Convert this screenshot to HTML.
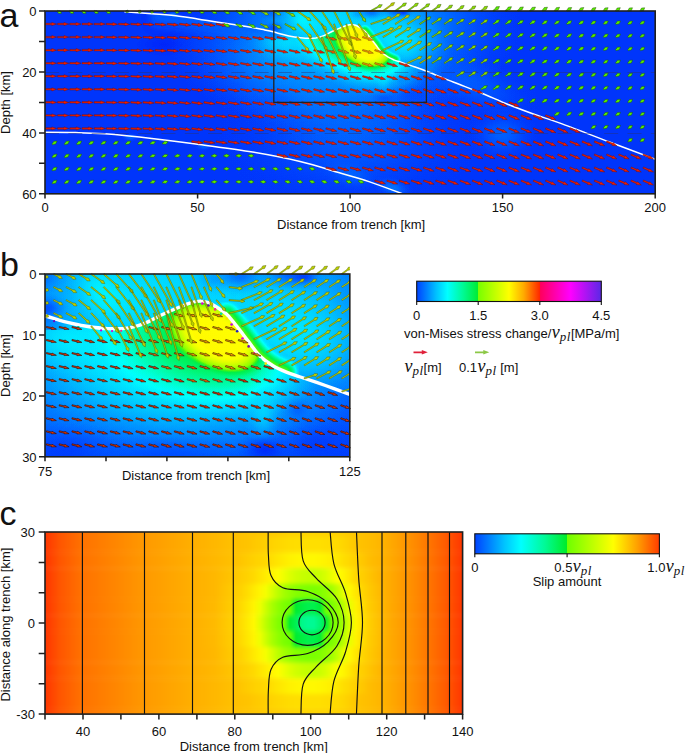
<!DOCTYPE html>
<html><head><meta charset="utf-8"><title>figure</title>
<style>html,body{margin:0;padding:0;background:#fff}svg{display:block}text{font-family:"Liberation Sans",sans-serif;fill:#111}</style>
</head><body>
<svg width="685" height="753" viewBox="0 0 685 753">
<rect width="685" height="753" fill="#fff"/>
<defs><filter id="cmap" x="0" y="0" width="685" height="753" filterUnits="userSpaceOnUse" color-interpolation-filters="sRGB"><feComponentTransfer><feFuncR type="table" tableValues="0.000 0.000 0.000 0.000 0.000 0.000 0.000 0.000 0.000 0.000 0.000 0.000 0.235 0.549 0.647 0.745 0.831 0.922 1.000 1.000 1.000 1.000 1.000 1.000 1.000"/><feFuncG type="table" tableValues="0.149 0.314 0.463 0.608 0.745 0.871 1.000 1.000 0.988 0.973 0.957 0.941 0.961 1.000 1.000 1.000 1.000 1.000 1.000 0.863 0.725 0.588 0.451 0.306 0.157"/><feFuncB type="table" tableValues="0.980 1.000 1.000 1.000 1.000 1.000 1.000 0.831 0.667 0.529 0.392 0.294 0.098 0.000 0.000 0.000 0.000 0.000 0.000 0.000 0.000 0.000 0.000 0.000 0.000"/></feComponentTransfer></filter><filter id="blk" x="-20%" y="-20%" width="140%" height="140%" color-interpolation-filters="sRGB"><feGaussianBlur stdDeviation="0.55"/></filter><filter id="blk2" x="-20%" y="-20%" width="140%" height="140%" color-interpolation-filters="sRGB"><feGaussianBlur stdDeviation="1.6"/></filter><clipPath id="cAbove"><path d="M0.0,-0.6C2.5,-0.5 10.7,-0.4 15.0,-0.3C19.3,-0.2 22.7,0.1 26.0,0.2C29.3,0.4 32.0,0.7 35.0,0.9C38.0,1.1 41.5,1.4 44.0,1.7C46.5,2.0 47.9,2.3 50.0,2.6C52.1,2.9 54.0,3.3 56.7,3.7C59.4,4.1 63.5,4.7 66.0,5.1C68.5,5.5 70.5,5.9 72.0,6.2C73.5,6.5 74.1,6.6 75.1,6.9C76.1,7.2 76.9,7.5 78.0,7.8C79.1,8.0 80.6,8.4 81.8,8.6C83.0,8.8 84.1,8.9 85.3,9.0C86.5,9.0 87.7,9.0 88.8,8.8C89.8,8.7 90.5,8.4 91.4,8.1C92.3,7.7 93.1,7.2 94.1,6.7C95.1,6.3 96.4,5.7 97.2,5.4C98.0,5.0 98.5,4.9 99.0,4.7C99.5,4.5 100.0,4.4 100.5,4.4C101.0,4.4 101.4,4.6 101.8,4.7C102.2,4.8 102.5,5.0 103.0,5.3C103.5,5.6 104.2,6.0 104.8,6.6C105.4,7.2 106.0,8.0 106.6,8.8C107.2,9.5 107.8,10.3 108.4,11.1C109.0,11.9 109.5,12.7 110.2,13.4C110.9,14.1 111.7,14.6 112.4,15.1C113.1,15.5 113.8,15.8 114.6,16.1C115.3,16.4 115.8,16.5 116.9,16.9C118.0,17.3 119.6,17.8 121.0,18.3C122.4,18.8 122.9,19.0 125.1,19.8C127.3,20.6 131.0,22.2 134.0,23.4C137.0,24.6 140.1,25.7 143.0,26.9C145.9,28.1 148.7,29.4 151.6,30.6C154.5,31.8 157.4,32.9 160.3,33.9C163.2,34.9 164.7,35.3 168.8,36.8C172.9,38.3 179.7,41.0 185.0,43.0C190.3,45.0 197.9,47.8 200.5,48.8 L201,-2 L-1,-2 Z"/></clipPath><clipPath id="cBelow"><path d="M0.0,-0.6C2.5,-0.5 10.7,-0.4 15.0,-0.3C19.3,-0.2 22.7,0.1 26.0,0.2C29.3,0.4 32.0,0.7 35.0,0.9C38.0,1.1 41.5,1.4 44.0,1.7C46.5,2.0 47.9,2.3 50.0,2.6C52.1,2.9 54.0,3.3 56.7,3.7C59.4,4.1 63.5,4.7 66.0,5.1C68.5,5.5 70.5,5.9 72.0,6.2C73.5,6.5 74.1,6.6 75.1,6.9C76.1,7.2 76.9,7.5 78.0,7.8C79.1,8.0 80.6,8.4 81.8,8.6C83.0,8.8 84.1,8.9 85.3,9.0C86.5,9.0 87.7,9.0 88.8,8.8C89.8,8.7 90.5,8.4 91.4,8.1C92.3,7.7 93.1,7.2 94.1,6.7C95.1,6.3 96.4,5.7 97.2,5.4C98.0,5.0 98.5,4.9 99.0,4.7C99.5,4.5 100.0,4.4 100.5,4.4C101.0,4.4 101.4,4.6 101.8,4.7C102.2,4.8 102.5,5.0 103.0,5.3C103.5,5.6 104.2,6.0 104.8,6.6C105.4,7.2 106.0,8.0 106.6,8.8C107.2,9.5 107.8,10.3 108.4,11.1C109.0,11.9 109.5,12.7 110.2,13.4C110.9,14.1 111.7,14.6 112.4,15.1C113.1,15.5 113.8,15.8 114.6,16.1C115.3,16.4 115.8,16.5 116.9,16.9C118.0,17.3 119.6,17.8 121.0,18.3C122.4,18.8 122.9,19.0 125.1,19.8C127.3,20.6 131.0,22.2 134.0,23.4C137.0,24.6 140.1,25.7 143.0,26.9C145.9,28.1 148.7,29.4 151.6,30.6C154.5,31.8 157.4,32.9 160.3,33.9C163.2,34.9 164.7,35.3 168.8,36.8C172.9,38.3 179.7,41.0 185.0,43.0C190.3,45.0 197.9,47.8 200.5,48.8 L201,62 L-1,62 Z"/></clipPath><clipPath id="cA"><rect x="0" y="0" width="200" height="60"/></clipPath><clipPath id="cB"><rect x="75" y="0" width="50" height="30"/></clipPath><radialGradient id="g0"><stop offset="0" stop-color="rgb(0,0,0)" stop-opacity="1"/><stop offset="0.125" stop-color="rgb(0,0,0)" stop-opacity="0.948"/><stop offset="0.25" stop-color="rgb(0,0,0)" stop-opacity="0.806"/><stop offset="0.375" stop-color="rgb(0,0,0)" stop-opacity="0.614"/><stop offset="0.5" stop-color="rgb(0,0,0)" stop-opacity="0.416"/><stop offset="0.625" stop-color="rgb(0,0,0)" stop-opacity="0.247"/><stop offset="0.75" stop-color="rgb(0,0,0)" stop-opacity="0.124"/><stop offset="0.875" stop-color="rgb(0,0,0)" stop-opacity="0.045"/><stop offset="1" stop-color="rgb(0,0,0)" stop-opacity="0"/></radialGradient><radialGradient id="g17"><stop offset="0" stop-color="rgb(17,17,17)" stop-opacity="1"/><stop offset="0.125" stop-color="rgb(17,17,17)" stop-opacity="0.948"/><stop offset="0.25" stop-color="rgb(17,17,17)" stop-opacity="0.806"/><stop offset="0.375" stop-color="rgb(17,17,17)" stop-opacity="0.614"/><stop offset="0.5" stop-color="rgb(17,17,17)" stop-opacity="0.416"/><stop offset="0.625" stop-color="rgb(17,17,17)" stop-opacity="0.247"/><stop offset="0.75" stop-color="rgb(17,17,17)" stop-opacity="0.124"/><stop offset="0.875" stop-color="rgb(17,17,17)" stop-opacity="0.045"/><stop offset="1" stop-color="rgb(17,17,17)" stop-opacity="0"/></radialGradient><radialGradient id="g23"><stop offset="0" stop-color="rgb(23,23,23)" stop-opacity="1"/><stop offset="0.125" stop-color="rgb(23,23,23)" stop-opacity="0.948"/><stop offset="0.25" stop-color="rgb(23,23,23)" stop-opacity="0.806"/><stop offset="0.375" stop-color="rgb(23,23,23)" stop-opacity="0.614"/><stop offset="0.5" stop-color="rgb(23,23,23)" stop-opacity="0.416"/><stop offset="0.625" stop-color="rgb(23,23,23)" stop-opacity="0.247"/><stop offset="0.75" stop-color="rgb(23,23,23)" stop-opacity="0.124"/><stop offset="0.875" stop-color="rgb(23,23,23)" stop-opacity="0.045"/><stop offset="1" stop-color="rgb(23,23,23)" stop-opacity="0"/></radialGradient><radialGradient id="g26"><stop offset="0" stop-color="rgb(26,26,26)" stop-opacity="1"/><stop offset="0.125" stop-color="rgb(26,26,26)" stop-opacity="0.948"/><stop offset="0.25" stop-color="rgb(26,26,26)" stop-opacity="0.806"/><stop offset="0.375" stop-color="rgb(26,26,26)" stop-opacity="0.614"/><stop offset="0.5" stop-color="rgb(26,26,26)" stop-opacity="0.416"/><stop offset="0.625" stop-color="rgb(26,26,26)" stop-opacity="0.247"/><stop offset="0.75" stop-color="rgb(26,26,26)" stop-opacity="0.124"/><stop offset="0.875" stop-color="rgb(26,26,26)" stop-opacity="0.045"/><stop offset="1" stop-color="rgb(26,26,26)" stop-opacity="0"/></radialGradient><radialGradient id="g21"><stop offset="0" stop-color="rgb(21,21,21)" stop-opacity="1"/><stop offset="0.125" stop-color="rgb(21,21,21)" stop-opacity="0.948"/><stop offset="0.25" stop-color="rgb(21,21,21)" stop-opacity="0.806"/><stop offset="0.375" stop-color="rgb(21,21,21)" stop-opacity="0.614"/><stop offset="0.5" stop-color="rgb(21,21,21)" stop-opacity="0.416"/><stop offset="0.625" stop-color="rgb(21,21,21)" stop-opacity="0.247"/><stop offset="0.75" stop-color="rgb(21,21,21)" stop-opacity="0.124"/><stop offset="0.875" stop-color="rgb(21,21,21)" stop-opacity="0.045"/><stop offset="1" stop-color="rgb(21,21,21)" stop-opacity="0"/></radialGradient><radialGradient id="g49"><stop offset="0" stop-color="rgb(49,49,49)" stop-opacity="1"/><stop offset="0.125" stop-color="rgb(49,49,49)" stop-opacity="0.948"/><stop offset="0.25" stop-color="rgb(49,49,49)" stop-opacity="0.806"/><stop offset="0.375" stop-color="rgb(49,49,49)" stop-opacity="0.614"/><stop offset="0.5" stop-color="rgb(49,49,49)" stop-opacity="0.416"/><stop offset="0.625" stop-color="rgb(49,49,49)" stop-opacity="0.247"/><stop offset="0.75" stop-color="rgb(49,49,49)" stop-opacity="0.124"/><stop offset="0.875" stop-color="rgb(49,49,49)" stop-opacity="0.045"/><stop offset="1" stop-color="rgb(49,49,49)" stop-opacity="0"/></radialGradient><radialGradient id="g54"><stop offset="0" stop-color="rgb(54,54,54)" stop-opacity="1"/><stop offset="0.125" stop-color="rgb(54,54,54)" stop-opacity="0.948"/><stop offset="0.25" stop-color="rgb(54,54,54)" stop-opacity="0.806"/><stop offset="0.375" stop-color="rgb(54,54,54)" stop-opacity="0.614"/><stop offset="0.5" stop-color="rgb(54,54,54)" stop-opacity="0.416"/><stop offset="0.625" stop-color="rgb(54,54,54)" stop-opacity="0.247"/><stop offset="0.75" stop-color="rgb(54,54,54)" stop-opacity="0.124"/><stop offset="0.875" stop-color="rgb(54,54,54)" stop-opacity="0.045"/><stop offset="1" stop-color="rgb(54,54,54)" stop-opacity="0"/></radialGradient><radialGradient id="g63"><stop offset="0" stop-color="rgb(63,63,63)" stop-opacity="1"/><stop offset="0.125" stop-color="rgb(63,63,63)" stop-opacity="0.948"/><stop offset="0.25" stop-color="rgb(63,63,63)" stop-opacity="0.806"/><stop offset="0.375" stop-color="rgb(63,63,63)" stop-opacity="0.614"/><stop offset="0.5" stop-color="rgb(63,63,63)" stop-opacity="0.416"/><stop offset="0.625" stop-color="rgb(63,63,63)" stop-opacity="0.247"/><stop offset="0.75" stop-color="rgb(63,63,63)" stop-opacity="0.124"/><stop offset="0.875" stop-color="rgb(63,63,63)" stop-opacity="0.045"/><stop offset="1" stop-color="rgb(63,63,63)" stop-opacity="0"/></radialGradient><radialGradient id="g56"><stop offset="0" stop-color="rgb(56,56,56)" stop-opacity="1"/><stop offset="0.125" stop-color="rgb(56,56,56)" stop-opacity="0.948"/><stop offset="0.25" stop-color="rgb(56,56,56)" stop-opacity="0.806"/><stop offset="0.375" stop-color="rgb(56,56,56)" stop-opacity="0.614"/><stop offset="0.5" stop-color="rgb(56,56,56)" stop-opacity="0.416"/><stop offset="0.625" stop-color="rgb(56,56,56)" stop-opacity="0.247"/><stop offset="0.75" stop-color="rgb(56,56,56)" stop-opacity="0.124"/><stop offset="0.875" stop-color="rgb(56,56,56)" stop-opacity="0.045"/><stop offset="1" stop-color="rgb(56,56,56)" stop-opacity="0"/></radialGradient><radialGradient id="g7"><stop offset="0" stop-color="rgb(7,7,7)" stop-opacity="1"/><stop offset="0.125" stop-color="rgb(7,7,7)" stop-opacity="0.948"/><stop offset="0.25" stop-color="rgb(7,7,7)" stop-opacity="0.806"/><stop offset="0.375" stop-color="rgb(7,7,7)" stop-opacity="0.614"/><stop offset="0.5" stop-color="rgb(7,7,7)" stop-opacity="0.416"/><stop offset="0.625" stop-color="rgb(7,7,7)" stop-opacity="0.247"/><stop offset="0.75" stop-color="rgb(7,7,7)" stop-opacity="0.124"/><stop offset="0.875" stop-color="rgb(7,7,7)" stop-opacity="0.045"/><stop offset="1" stop-color="rgb(7,7,7)" stop-opacity="0"/></radialGradient><radialGradient id="g15"><stop offset="0" stop-color="rgb(15,15,15)" stop-opacity="1"/><stop offset="0.125" stop-color="rgb(15,15,15)" stop-opacity="0.948"/><stop offset="0.25" stop-color="rgb(15,15,15)" stop-opacity="0.806"/><stop offset="0.375" stop-color="rgb(15,15,15)" stop-opacity="0.614"/><stop offset="0.5" stop-color="rgb(15,15,15)" stop-opacity="0.416"/><stop offset="0.625" stop-color="rgb(15,15,15)" stop-opacity="0.247"/><stop offset="0.75" stop-color="rgb(15,15,15)" stop-opacity="0.124"/><stop offset="0.875" stop-color="rgb(15,15,15)" stop-opacity="0.045"/><stop offset="1" stop-color="rgb(15,15,15)" stop-opacity="0"/></radialGradient><radialGradient id="g31"><stop offset="0" stop-color="rgb(31,31,31)" stop-opacity="1"/><stop offset="0.125" stop-color="rgb(31,31,31)" stop-opacity="0.948"/><stop offset="0.25" stop-color="rgb(31,31,31)" stop-opacity="0.806"/><stop offset="0.375" stop-color="rgb(31,31,31)" stop-opacity="0.614"/><stop offset="0.5" stop-color="rgb(31,31,31)" stop-opacity="0.416"/><stop offset="0.625" stop-color="rgb(31,31,31)" stop-opacity="0.247"/><stop offset="0.75" stop-color="rgb(31,31,31)" stop-opacity="0.124"/><stop offset="0.875" stop-color="rgb(31,31,31)" stop-opacity="0.045"/><stop offset="1" stop-color="rgb(31,31,31)" stop-opacity="0"/></radialGradient><radialGradient id="g14"><stop offset="0" stop-color="rgb(14,14,14)" stop-opacity="1"/><stop offset="0.125" stop-color="rgb(14,14,14)" stop-opacity="0.948"/><stop offset="0.25" stop-color="rgb(14,14,14)" stop-opacity="0.806"/><stop offset="0.375" stop-color="rgb(14,14,14)" stop-opacity="0.614"/><stop offset="0.5" stop-color="rgb(14,14,14)" stop-opacity="0.416"/><stop offset="0.625" stop-color="rgb(14,14,14)" stop-opacity="0.247"/><stop offset="0.75" stop-color="rgb(14,14,14)" stop-opacity="0.124"/><stop offset="0.875" stop-color="rgb(14,14,14)" stop-opacity="0.045"/><stop offset="1" stop-color="rgb(14,14,14)" stop-opacity="0"/></radialGradient><radialGradient id="g3"><stop offset="0" stop-color="rgb(3,3,3)" stop-opacity="1"/><stop offset="0.125" stop-color="rgb(3,3,3)" stop-opacity="0.948"/><stop offset="0.25" stop-color="rgb(3,3,3)" stop-opacity="0.806"/><stop offset="0.375" stop-color="rgb(3,3,3)" stop-opacity="0.614"/><stop offset="0.5" stop-color="rgb(3,3,3)" stop-opacity="0.416"/><stop offset="0.625" stop-color="rgb(3,3,3)" stop-opacity="0.247"/><stop offset="0.75" stop-color="rgb(3,3,3)" stop-opacity="0.124"/><stop offset="0.875" stop-color="rgb(3,3,3)" stop-opacity="0.045"/><stop offset="1" stop-color="rgb(3,3,3)" stop-opacity="0"/></radialGradient><radialGradient id="g53"><stop offset="0" stop-color="rgb(53,53,53)" stop-opacity="1"/><stop offset="0.125" stop-color="rgb(53,53,53)" stop-opacity="0.948"/><stop offset="0.25" stop-color="rgb(53,53,53)" stop-opacity="0.806"/><stop offset="0.375" stop-color="rgb(53,53,53)" stop-opacity="0.614"/><stop offset="0.5" stop-color="rgb(53,53,53)" stop-opacity="0.416"/><stop offset="0.625" stop-color="rgb(53,53,53)" stop-opacity="0.247"/><stop offset="0.75" stop-color="rgb(53,53,53)" stop-opacity="0.124"/><stop offset="0.875" stop-color="rgb(53,53,53)" stop-opacity="0.045"/><stop offset="1" stop-color="rgb(53,53,53)" stop-opacity="0"/></radialGradient><radialGradient id="g70"><stop offset="0" stop-color="rgb(70,70,70)" stop-opacity="1"/><stop offset="0.125" stop-color="rgb(70,70,70)" stop-opacity="0.948"/><stop offset="0.25" stop-color="rgb(70,70,70)" stop-opacity="0.806"/><stop offset="0.375" stop-color="rgb(70,70,70)" stop-opacity="0.614"/><stop offset="0.5" stop-color="rgb(70,70,70)" stop-opacity="0.416"/><stop offset="0.625" stop-color="rgb(70,70,70)" stop-opacity="0.247"/><stop offset="0.75" stop-color="rgb(70,70,70)" stop-opacity="0.124"/><stop offset="0.875" stop-color="rgb(70,70,70)" stop-opacity="0.045"/><stop offset="1" stop-color="rgb(70,70,70)" stop-opacity="0"/></radialGradient><radialGradient id="g58"><stop offset="0" stop-color="rgb(58,58,58)" stop-opacity="1"/><stop offset="0.125" stop-color="rgb(58,58,58)" stop-opacity="0.948"/><stop offset="0.25" stop-color="rgb(58,58,58)" stop-opacity="0.806"/><stop offset="0.375" stop-color="rgb(58,58,58)" stop-opacity="0.614"/><stop offset="0.5" stop-color="rgb(58,58,58)" stop-opacity="0.416"/><stop offset="0.625" stop-color="rgb(58,58,58)" stop-opacity="0.247"/><stop offset="0.75" stop-color="rgb(58,58,58)" stop-opacity="0.124"/><stop offset="0.875" stop-color="rgb(58,58,58)" stop-opacity="0.045"/><stop offset="1" stop-color="rgb(58,58,58)" stop-opacity="0"/></radialGradient><radialGradient id="g128"><stop offset="0" stop-color="rgb(128,128,128)" stop-opacity="1"/><stop offset="0.125" stop-color="rgb(128,128,128)" stop-opacity="0.948"/><stop offset="0.25" stop-color="rgb(128,128,128)" stop-opacity="0.806"/><stop offset="0.375" stop-color="rgb(128,128,128)" stop-opacity="0.614"/><stop offset="0.5" stop-color="rgb(128,128,128)" stop-opacity="0.416"/><stop offset="0.625" stop-color="rgb(128,128,128)" stop-opacity="0.247"/><stop offset="0.75" stop-color="rgb(128,128,128)" stop-opacity="0.124"/><stop offset="0.875" stop-color="rgb(128,128,128)" stop-opacity="0.045"/><stop offset="1" stop-color="rgb(128,128,128)" stop-opacity="0"/></radialGradient><radialGradient id="p196"><stop offset="0" stop-color="rgb(196,196,196)" stop-opacity="1"/><stop offset="0.45" stop-color="rgb(196,196,196)" stop-opacity="1"/><stop offset="0.55" stop-color="rgb(196,196,196)" stop-opacity="0.93"/><stop offset="0.65" stop-color="rgb(196,196,196)" stop-opacity="0.75"/><stop offset="0.75" stop-color="rgb(196,196,196)" stop-opacity="0.48"/><stop offset="0.85" stop-color="rgb(196,196,196)" stop-opacity="0.22"/><stop offset="0.93" stop-color="rgb(196,196,196)" stop-opacity="0.07"/><stop offset="1" stop-color="rgb(196,196,196)" stop-opacity="0"/></radialGradient><radialGradient id="g5"><stop offset="0" stop-color="rgb(5,5,5)" stop-opacity="1"/><stop offset="0.125" stop-color="rgb(5,5,5)" stop-opacity="0.948"/><stop offset="0.25" stop-color="rgb(5,5,5)" stop-opacity="0.806"/><stop offset="0.375" stop-color="rgb(5,5,5)" stop-opacity="0.614"/><stop offset="0.5" stop-color="rgb(5,5,5)" stop-opacity="0.416"/><stop offset="0.625" stop-color="rgb(5,5,5)" stop-opacity="0.247"/><stop offset="0.75" stop-color="rgb(5,5,5)" stop-opacity="0.124"/><stop offset="0.875" stop-color="rgb(5,5,5)" stop-opacity="0.045"/><stop offset="1" stop-color="rgb(5,5,5)" stop-opacity="0"/></radialGradient><radialGradient id="g8"><stop offset="0" stop-color="rgb(8,8,8)" stop-opacity="1"/><stop offset="0.125" stop-color="rgb(8,8,8)" stop-opacity="0.948"/><stop offset="0.25" stop-color="rgb(8,8,8)" stop-opacity="0.806"/><stop offset="0.375" stop-color="rgb(8,8,8)" stop-opacity="0.614"/><stop offset="0.5" stop-color="rgb(8,8,8)" stop-opacity="0.416"/><stop offset="0.625" stop-color="rgb(8,8,8)" stop-opacity="0.247"/><stop offset="0.75" stop-color="rgb(8,8,8)" stop-opacity="0.124"/><stop offset="0.875" stop-color="rgb(8,8,8)" stop-opacity="0.045"/><stop offset="1" stop-color="rgb(8,8,8)" stop-opacity="0"/></radialGradient><radialGradient id="g119"><stop offset="0" stop-color="rgb(119,119,119)" stop-opacity="1"/><stop offset="0.125" stop-color="rgb(119,119,119)" stop-opacity="0.948"/><stop offset="0.25" stop-color="rgb(119,119,119)" stop-opacity="0.806"/><stop offset="0.375" stop-color="rgb(119,119,119)" stop-opacity="0.614"/><stop offset="0.5" stop-color="rgb(119,119,119)" stop-opacity="0.416"/><stop offset="0.625" stop-color="rgb(119,119,119)" stop-opacity="0.247"/><stop offset="0.75" stop-color="rgb(119,119,119)" stop-opacity="0.124"/><stop offset="0.875" stop-color="rgb(119,119,119)" stop-opacity="0.045"/><stop offset="1" stop-color="rgb(119,119,119)" stop-opacity="0"/></radialGradient>
<g id="fld"><rect x="-2" y="-2" width="204" height="64" fill="rgb(4,4,4)"/><g><ellipse cx="39" cy="11" rx="12" ry="5" fill="url(#g0)" opacity="0.95"/><ellipse cx="150" cy="40.5" rx="12" ry="9" fill="url(#g17)" opacity="0.85"/><ellipse cx="100" cy="53.5" rx="10" ry="5" fill="url(#g17)" transform="rotate(15 100 53.5)" opacity="0.85"/><ellipse cx="114" cy="58" rx="7" ry="3.5" fill="url(#g23)" transform="rotate(15 114 58)" opacity="0.85"/><ellipse cx="42" cy="1.2" rx="2.5" ry="1.2" fill="url(#g26)" opacity="0.8"/><ellipse cx="28" cy="41.5" rx="3" ry="1.5" fill="url(#g21)" opacity="0.7"/><ellipse cx="52" cy="44.5" rx="3" ry="1.5" fill="url(#g21)" opacity="0.7"/></g><g clip-path="url(#cAbove)"><ellipse cx="100" cy="5" rx="56" ry="32" fill="url(#g49)"/><ellipse cx="90" cy="4" rx="20" ry="15" fill="url(#g54)"/><ellipse cx="84.5" cy="3.2" rx="5" ry="8" fill="url(#g63)" transform="rotate(-40 84.5 3.2)" opacity="0.75"/><ellipse cx="116" cy="9.5" rx="19" ry="13" fill="url(#g56)" transform="rotate(25 116 9.5)"/><ellipse cx="75" cy="5.6" rx="4.5" ry="2.6" fill="url(#g7)" opacity="0.85"/><ellipse cx="74" cy="0.5" rx="5" ry="3" fill="url(#g15)" opacity="0.7"/><ellipse cx="102.5" cy="0.8" rx="4" ry="3" fill="url(#g31)" opacity="0.7"/><ellipse cx="107" cy="0.3" rx="6" ry="3.4" fill="url(#g17)" opacity="0.9"/><ellipse cx="115.5" cy="0.2" rx="7" ry="3.2" fill="url(#g14)" opacity="0.9"/><ellipse cx="117.5" cy="0.5" rx="3" ry="1.6" fill="url(#g3)" opacity="0.8"/><ellipse cx="126" cy="19" rx="5" ry="6" fill="url(#g26)" opacity="0.6"/><path d="M104.8,6.6C105.1,7.0 106.0,8.0 106.6,8.8C107.2,9.5 107.8,10.3 108.4,11.1C109.0,11.9 109.5,12.7 110.2,13.4C110.9,14.1 111.7,14.6 112.4,15.1C113.1,15.5 114.2,15.9 114.6,16.1" fill="none" stroke="rgb(132,132,132)" stroke-width="2.7" stroke-linecap="round" filter="url(#blk)"/></g><g clip-path="url(#cBelow)"><ellipse cx="95" cy="12" rx="54" ry="27" fill="url(#g53)"/><ellipse cx="98" cy="13.5" rx="29" ry="17" fill="url(#g70)" transform="rotate(8 98 13.5)"/><ellipse cx="80" cy="11" rx="14" ry="7" fill="url(#g58)" transform="rotate(8 80 11)" opacity="0.9"/><ellipse cx="100.8" cy="11.4" rx="20" ry="11.2" fill="url(#g128)" transform="rotate(18 100.8 11.4)"/><ellipse cx="103.2" cy="10.2" rx="9.6" ry="5.8" fill="url(#p196)" transform="rotate(30 103.2 10.2)" opacity="0.95"/><ellipse cx="110.8" cy="22.5" rx="3.4" ry="6.5" fill="url(#g53)" opacity="0.75"/><ellipse cx="116.5" cy="22.3" rx="3" ry="2.6" fill="url(#g15)" opacity="0.85"/><ellipse cx="111" cy="28.8" rx="5" ry="3" fill="url(#g0)" opacity="0.85"/><ellipse cx="120" cy="28" rx="8" ry="4.5" fill="url(#g5)" opacity="0.8"/><ellipse cx="95" cy="29.8" rx="14" ry="4" fill="url(#g8)" opacity="0.7"/><ellipse cx="78" cy="29" rx="12" ry="5" fill="url(#g5)" opacity="0.8"/><path d="M35.0,0.9C36.5,1.0 41.5,1.4 44.0,1.7C46.5,2.0 47.9,2.3 50.0,2.6C52.1,2.9 54.0,3.3 56.7,3.7C59.4,4.1 63.5,4.7 66.0,5.1C68.5,5.5 70.5,5.9 72.0,6.2C73.5,6.5 74.1,6.6 75.1,6.9C76.1,7.2 77.5,7.6 78.0,7.8" fill="none" stroke="rgb(17,17,17)" stroke-width="7" filter="url(#blk2)" opacity=".8"/></g></g>
<g id="fldA"><g><ellipse cx="100" cy="40" rx="44" ry="26" fill="url(#g17)" opacity="0.85"/><ellipse cx="140" cy="24" rx="24" ry="10" fill="url(#g17)" transform="rotate(22 140 24)" opacity="0.7"/><ellipse cx="90" cy="24" rx="40" ry="20" fill="url(#g26)" transform="rotate(10 90 24)" opacity="0.8"/></g><g clip-path="url(#cBelow)"><ellipse cx="104.5" cy="12" rx="24" ry="15" fill="url(#g119)" transform="rotate(20 104.5 12)" opacity="0.8"/><ellipse cx="104.8" cy="10.8" rx="11.5" ry="8.5" fill="url(#p196)" transform="rotate(30 104.8 10.8)" opacity="0.95"/></g></g>
<clipPath id="clipA"><rect x="45.0" y="11.0" width="610.2" height="182.8"/></clipPath>
<clipPath id="clipB"><rect x="45.0" y="274.0" width="304.8" height="182.8"/></clipPath>
<clipPath id="clipC"><rect x="45.0" y="532.0" width="417.6" height="182.1"/></clipPath>
<linearGradient id="cb1"><stop offset="0" stop-color="rgb(0,66,255)"/><stop offset=".05" stop-color="rgb(0,125,255)"/><stop offset=".105" stop-color="rgb(0,192,255)"/><stop offset=".1667" stop-color="rgb(0,255,255)"/><stop offset=".25" stop-color="rgb(0,250,150)"/><stop offset=".3333" stop-color="rgb(0,235,50)"/><stop offset=".3334" stop-color="rgb(120,255,0)"/><stop offset=".5" stop-color="rgb(255,255,0)"/><stop offset=".58" stop-color="rgb(255,170,0)"/><stop offset=".6666" stop-color="rgb(255,40,0)"/><stop offset=".6667" stop-color="rgb(255,0,90)"/><stop offset=".8333" stop-color="rgb(255,0,255)"/><stop offset="1" stop-color="rgb(90,40,230)"/></linearGradient>
<linearGradient id="cb2"><stop offset="0" stop-color="rgb(0,66,255)"/><stop offset=".08" stop-color="rgb(0,130,255)"/><stop offset=".16" stop-color="rgb(0,195,255)"/><stop offset=".25" stop-color="rgb(0,255,255)"/><stop offset=".38" stop-color="rgb(0,250,150)"/><stop offset=".4999" stop-color="rgb(0,235,40)"/><stop offset=".5" stop-color="rgb(110,255,0)"/><stop offset=".75" stop-color="rgb(255,255,0)"/><stop offset=".88" stop-color="rgb(255,160,0)"/><stop offset="1" stop-color="rgb(255,60,0)"/></linearGradient>
<linearGradient id="cbase" gradientUnits="userSpaceOnUse" x1="45.0" x2="462.6" y1="0" y2="0"><stop offset="0.000" stop-color="rgb(255,52,0)"/><stop offset="0.036" stop-color="rgb(255,85,0)"/><stop offset="0.089" stop-color="rgb(255,112,0)"/><stop offset="0.251" stop-color="rgb(255,150,0)"/><stop offset="0.443" stop-color="rgb(255,186,0)"/><stop offset="0.587" stop-color="rgb(255,206,0)"/><stop offset="0.706" stop-color="rgb(255,206,0)"/><stop offset="0.802" stop-color="rgb(255,178,0)"/><stop offset="0.898" stop-color="rgb(255,128,0)"/><stop offset="0.958" stop-color="rgb(255,92,0)"/><stop offset="0.999" stop-color="rgb(255,55,0)"/></linearGradient>
<radialGradient id="cy"><stop offset="0" stop-color="rgb(255,255,0)" stop-opacity="1"/><stop offset="0.125" stop-color="rgb(255,255,0)" stop-opacity="0.948"/><stop offset="0.25" stop-color="rgb(255,255,0)" stop-opacity="0.806"/><stop offset="0.375" stop-color="rgb(255,255,0)" stop-opacity="0.614"/><stop offset="0.5" stop-color="rgb(255,255,0)" stop-opacity="0.416"/><stop offset="0.625" stop-color="rgb(255,255,0)" stop-opacity="0.247"/><stop offset="0.75" stop-color="rgb(255,255,0)" stop-opacity="0.124"/><stop offset="0.875" stop-color="rgb(255,255,0)" stop-opacity="0.045"/><stop offset="1" stop-color="rgb(255,255,0)" stop-opacity="0"/></radialGradient><radialGradient id="cyg"><stop offset="0" stop-color="rgb(150,255,0)" stop-opacity="1"/><stop offset="0.125" stop-color="rgb(150,255,0)" stop-opacity="0.948"/><stop offset="0.25" stop-color="rgb(150,255,0)" stop-opacity="0.806"/><stop offset="0.375" stop-color="rgb(150,255,0)" stop-opacity="0.614"/><stop offset="0.5" stop-color="rgb(150,255,0)" stop-opacity="0.416"/><stop offset="0.625" stop-color="rgb(150,255,0)" stop-opacity="0.247"/><stop offset="0.75" stop-color="rgb(150,255,0)" stop-opacity="0.124"/><stop offset="0.875" stop-color="rgb(150,255,0)" stop-opacity="0.045"/><stop offset="1" stop-color="rgb(150,255,0)" stop-opacity="0"/></radialGradient><radialGradient id="cg"><stop offset="0" stop-color="rgb(0,248,40)" stop-opacity="1"/><stop offset="0.125" stop-color="rgb(0,248,40)" stop-opacity="0.948"/><stop offset="0.25" stop-color="rgb(0,248,40)" stop-opacity="0.806"/><stop offset="0.375" stop-color="rgb(0,248,40)" stop-opacity="0.614"/><stop offset="0.5" stop-color="rgb(0,248,40)" stop-opacity="0.416"/><stop offset="0.625" stop-color="rgb(0,248,40)" stop-opacity="0.247"/><stop offset="0.75" stop-color="rgb(0,248,40)" stop-opacity="0.124"/><stop offset="0.875" stop-color="rgb(0,248,40)" stop-opacity="0.045"/><stop offset="1" stop-color="rgb(0,248,40)" stop-opacity="0"/></radialGradient><radialGradient id="ccg"><stop offset="0" stop-color="rgb(0,255,150)" stop-opacity="1"/><stop offset="0.125" stop-color="rgb(0,255,150)" stop-opacity="0.948"/><stop offset="0.25" stop-color="rgb(0,255,150)" stop-opacity="0.806"/><stop offset="0.375" stop-color="rgb(0,255,150)" stop-opacity="0.614"/><stop offset="0.5" stop-color="rgb(0,255,150)" stop-opacity="0.416"/><stop offset="0.625" stop-color="rgb(0,255,150)" stop-opacity="0.247"/><stop offset="0.75" stop-color="rgb(0,255,150)" stop-opacity="0.124"/><stop offset="0.875" stop-color="rgb(0,255,150)" stop-opacity="0.045"/><stop offset="1" stop-color="rgb(0,255,150)" stop-opacity="0"/></radialGradient>
</defs>
<g filter="url(#cmap)"><g clip-path="url(#clipA)"><g transform="translate(45.00,11.00) scale(3.0510,3.0467)"><use href="#fld"/><use href="#fldA"/></g></g></g>
<g clip-path="url(#clipA)" fill="none" stroke="#fff" stroke-width="1.5"><path d="M124.3,11.8C128.9,12.1 142.6,13.0 151.8,13.7C160.9,14.5 171.6,15.3 179.2,16.2C186.9,17.0 191.1,17.9 197.6,18.9C204.0,19.9 209.9,21.0 218.0,22.3C226.1,23.5 238.6,25.3 246.4,26.5C254.1,27.8 260.0,29.0 264.7,29.9C269.3,30.8 271.1,31.2 274.1,32.0C277.2,32.8 279.6,33.8 283.0,34.6C286.4,35.5 290.9,36.5 294.6,37.1C298.3,37.7 301.7,38.2 305.3,38.3C308.8,38.4 312.7,38.4 315.8,38.0C318.9,37.5 321.1,36.7 323.9,35.6C326.6,34.5 329.1,32.9 332.1,31.5C335.0,30.1 339.1,28.4 341.6,27.4C344.0,26.4 345.4,25.8 347.0,25.3C348.7,24.8 350.2,24.5 351.6,24.5C353.0,24.5 354.3,24.9 355.6,25.3C356.9,25.8 357.7,26.3 359.3,27.2C360.8,28.2 362.9,29.4 364.7,31.1C366.6,32.8 368.4,35.4 370.2,37.7C372.1,39.9 373.9,42.5 375.7,44.8C377.6,47.2 379.2,49.8 381.2,51.8C383.3,53.8 385.7,55.5 387.9,56.9C390.2,58.2 392.4,59.1 394.6,60.1C396.9,61.0 398.4,61.4 401.7,62.5C404.9,63.6 410.0,65.3 414.2,66.8C418.3,68.2 420.1,68.7 426.7,71.3C433.3,73.9 444.7,78.7 453.8,82.3C462.9,85.9 472.3,89.3 481.3,93.0C490.2,96.6 498.7,100.7 507.5,104.2C516.3,107.8 525.3,111.1 534.1,114.3C542.8,117.4 547.4,118.5 560.0,123.1C572.6,127.7 593.3,135.9 609.4,142.0C625.6,148.1 648.8,156.7 656.7,159.7"/><path d="M41.9,132.3C47.5,132.3 65.1,132.3 75.5,132.6C85.9,132.8 91.4,132.8 104.5,133.8C117.6,134.8 138.1,136.9 153.9,138.7C169.7,140.4 183.0,142.2 199.4,144.4C215.8,146.7 235.7,149.2 252.5,152.1C269.2,154.9 285.7,158.1 300.1,161.5C314.4,164.9 327.0,169.1 338.5,172.5C350.0,175.8 358.1,178.0 369.0,181.6C379.9,185.3 396.6,191.6 404.1,194.4C411.6,197.2 412.5,197.7 414.2,198.4"/></g>
<line x1="45.0" x2="655.2" y1="72.5" y2="72.5" stroke="#283070" stroke-width=".6" stroke-dasharray="14 9.3" opacity=".75"/>
<line x1="45.0" x2="655.2" y1="133.5" y2="133.5" stroke="#283070" stroke-width=".6" stroke-dasharray="14 9.3" opacity=".75"/>
<path d="M45.4,23.3L51.8,23.3L51.8,22.5L56.6,24.1L51.8,25.6L51.8,24.8L45.4,24.8ZM57.6,23.3L64.0,23.3L64.0,22.5L68.8,24.1L64.0,25.6L64.0,24.8L57.6,24.8ZM69.8,23.3L76.2,23.3L76.2,22.5L81.0,24.1L76.2,25.6L76.2,24.8L69.8,24.8ZM82.0,23.3L88.4,23.3L88.4,22.5L93.2,24.1L88.4,25.6L88.4,24.8L82.0,24.8ZM94.2,23.3L100.6,23.4L100.6,22.5L105.4,24.1L100.6,25.6L100.6,24.8L94.2,24.8ZM106.4,23.3L112.8,23.5L112.8,22.6L117.6,24.3L112.8,25.7L112.8,24.9L106.4,24.8ZM118.6,23.3L125.0,23.6L125.1,22.7L129.8,24.4L124.9,25.8L125.0,25.0L118.6,24.8ZM130.8,23.3L137.2,23.7L137.3,22.8L142.0,24.6L137.1,25.9L137.2,25.1L130.8,24.8ZM143.0,23.3L149.4,23.8L149.5,22.9L154.2,24.8L149.3,26.0L149.3,25.2L143.0,24.8ZM155.3,23.3L161.6,23.9L161.7,23.0L166.4,25.0L161.5,26.1L161.5,25.3L155.1,24.8ZM167.5,23.3L173.8,23.9L173.9,23.1L178.5,25.1L173.6,26.2L173.7,25.4L167.3,24.8ZM179.7,23.3L186.0,24.1L186.1,23.2L190.7,25.3L185.8,26.3L185.9,25.5L179.5,24.8ZM191.9,23.3L198.2,24.2L198.3,23.3L202.9,25.5L198.0,26.4L198.1,25.6L191.7,24.8ZM204.1,23.3L210.4,24.3L210.6,23.4L215.1,25.7L210.1,26.5L210.2,25.7L203.9,24.8ZM216.3,23.3L222.6,24.4L222.8,23.5L227.3,25.8L222.3,26.6L222.4,25.8L216.1,24.8ZM45.4,36.4L51.8,36.4L51.8,35.6L56.6,37.1L51.8,38.6L51.8,37.8L45.4,37.8ZM57.6,36.4L64.0,36.4L64.0,35.6L68.8,37.1L64.0,38.6L64.0,37.8L57.6,37.8ZM69.8,36.4L76.2,36.4L76.2,35.6L81.0,37.1L76.2,38.6L76.2,37.8L69.8,37.8ZM82.0,36.4L88.4,36.4L88.4,35.6L93.2,37.1L88.4,38.6L88.4,37.8L82.0,37.8ZM94.2,36.4L100.6,36.4L100.6,35.6L105.4,37.1L100.6,38.7L100.6,37.8L94.2,37.8ZM106.4,36.4L112.8,36.5L112.8,35.7L117.6,37.3L112.8,38.8L112.8,37.9L106.4,37.8ZM118.6,36.4L125.0,36.6L125.1,35.8L129.8,37.5L124.9,38.9L125.0,38.0L118.6,37.8ZM130.8,36.4L137.2,36.7L137.3,35.9L142.0,37.7L137.1,39.0L137.2,38.1L130.8,37.8ZM143.0,36.4L149.4,36.8L149.5,36.0L154.2,37.8L149.3,39.1L149.3,38.2L143.0,37.8ZM155.3,36.4L161.6,36.9L161.7,36.1L166.4,38.0L161.5,39.2L161.5,38.3L155.1,37.8ZM167.5,36.4L173.8,37.0L173.9,36.2L178.5,38.2L173.6,39.3L173.7,38.4L167.3,37.8ZM179.7,36.4L186.0,37.1L186.1,36.3L190.7,38.4L185.8,39.4L185.9,38.5L179.5,37.8ZM191.9,36.4L198.2,37.2L198.3,36.4L202.9,38.5L198.0,39.5L198.1,38.6L191.7,37.8ZM204.1,36.4L210.4,37.3L210.6,36.5L215.1,38.7L210.1,39.5L210.2,38.7L203.9,37.8ZM216.3,36.4L222.6,37.4L222.8,36.6L227.3,38.9L222.3,39.6L222.4,38.8L216.1,37.8ZM228.5,36.4L234.8,37.5L235.0,36.7L239.4,39.0L234.4,39.7L234.6,38.9L228.3,37.8ZM240.7,36.4L247.0,37.6L247.2,36.8L251.6,39.2L246.6,39.8L246.8,39.0L240.5,37.8ZM252.9,36.4L259.2,37.7L259.4,36.8L263.8,39.3L258.8,39.9L258.9,39.1L252.7,37.8ZM265.2,36.4L271.4,37.7L271.6,36.9L276.0,39.5L270.9,40.0L271.1,39.1L264.8,37.8ZM277.4,36.4L283.6,37.8L283.8,37.0L288.1,39.6L283.1,40.0L283.3,39.2L277.0,37.8ZM45.4,49.4L51.8,49.4L51.8,48.6L56.6,50.2L51.8,51.7L51.8,50.9L45.4,50.9ZM57.6,49.4L64.0,49.4L64.0,48.6L68.8,50.2L64.0,51.7L64.0,50.9L57.6,50.9ZM69.8,49.4L76.2,49.4L76.2,48.6L81.0,50.2L76.2,51.7L76.2,50.9L69.8,50.9ZM82.0,49.4L88.4,49.4L88.4,48.6L93.2,50.2L88.4,51.7L88.4,50.9L82.0,50.9ZM94.2,49.4L100.6,49.5L100.6,48.6L105.4,50.2L100.6,51.7L100.6,50.9L94.2,50.9ZM106.4,49.4L112.8,49.6L112.8,48.7L117.6,50.4L112.8,51.8L112.8,51.0L106.4,50.9ZM118.6,49.4L125.0,49.7L125.1,48.8L129.8,50.5L124.9,51.9L125.0,51.1L118.6,50.9ZM130.8,49.4L137.2,49.8L137.3,48.9L142.0,50.7L137.1,52.0L137.2,51.2L130.8,50.9ZM143.0,49.4L149.4,49.9L149.5,49.0L154.2,50.9L149.3,52.1L149.3,51.3L143.0,50.9ZM155.3,49.4L161.6,50.0L161.7,49.1L166.4,51.1L161.5,52.2L161.5,51.4L155.1,50.9ZM167.5,49.4L173.8,50.0L173.9,49.2L178.5,51.2L173.6,52.3L173.7,51.5L167.3,50.9ZM179.7,49.4L186.0,50.2L186.1,49.3L190.7,51.4L185.8,52.4L185.9,51.6L179.5,50.9ZM191.9,49.4L198.2,50.3L198.3,49.4L202.9,51.6L198.0,52.5L198.1,51.7L191.7,50.9ZM204.1,49.4L210.4,50.4L210.6,49.5L215.1,51.8L210.1,52.6L210.2,51.8L203.9,50.9ZM216.3,49.4L222.6,50.5L222.8,49.6L227.3,51.9L222.3,52.7L222.4,51.9L216.1,50.9ZM228.5,49.4L234.8,50.6L235.0,49.7L239.4,52.1L234.4,52.8L234.6,52.0L228.3,50.9ZM240.7,49.4L247.0,50.6L247.2,49.8L251.6,52.2L246.6,52.9L246.8,52.0L240.5,50.9ZM252.9,49.4L259.2,50.7L259.4,49.9L263.8,52.4L258.8,52.9L258.9,52.1L252.7,50.9ZM265.2,49.4L271.4,50.8L271.6,50.0L276.0,52.5L270.9,53.0L271.1,52.2L264.8,50.9ZM277.4,49.4L283.6,50.9L283.8,50.1L288.1,52.6L283.1,53.1L283.3,52.3L277.0,50.9ZM289.6,49.4L295.8,50.9L296.0,50.1L300.3,52.8L295.3,53.2L295.5,52.3L289.2,50.9ZM301.8,49.5L308.0,51.0L308.2,50.2L312.5,52.8L307.4,53.2L307.6,52.4L301.4,50.8ZM314.0,49.5L320.2,51.0L320.4,50.2L324.7,52.9L319.6,53.2L319.8,52.4L313.6,50.8ZM45.4,62.5L51.8,62.5L51.8,61.7L56.6,63.2L51.8,64.8L51.8,63.9L45.4,63.9ZM57.6,62.5L64.0,62.5L64.0,61.7L68.8,63.2L64.0,64.8L64.0,63.9L57.6,63.9ZM69.8,62.5L76.2,62.5L76.2,61.7L81.0,63.2L76.2,64.8L76.2,63.9L69.8,63.9ZM82.0,62.5L88.4,62.5L88.4,61.7L93.2,63.2L88.4,64.8L88.4,63.9L82.0,63.9ZM94.2,62.5L100.6,62.5L100.6,61.7L105.4,63.2L100.6,64.8L100.6,63.9L94.2,63.9ZM106.4,62.5L112.8,62.6L112.8,61.8L117.6,63.4L112.8,64.9L112.8,64.0L106.4,63.9ZM118.6,62.5L125.0,62.7L125.1,61.9L129.8,63.6L124.9,65.0L125.0,64.1L118.6,63.9ZM130.8,62.5L137.2,62.8L137.3,62.0L142.0,63.8L137.1,65.1L137.2,64.2L130.8,63.9ZM143.0,62.5L149.4,62.9L149.5,62.1L154.2,63.9L149.3,65.2L149.3,64.3L143.0,63.9ZM155.3,62.5L161.6,63.0L161.7,62.2L166.4,64.1L161.5,65.3L161.5,64.4L155.1,63.9ZM167.5,62.5L173.8,63.1L173.9,62.3L178.5,64.3L173.6,65.4L173.7,64.5L167.3,63.9ZM179.7,62.5L186.0,63.2L186.1,62.4L190.7,64.5L185.8,65.5L185.9,64.6L179.5,63.9ZM191.9,62.5L198.2,63.3L198.3,62.5L202.9,64.6L198.0,65.6L198.1,64.7L191.7,63.9ZM204.1,62.5L210.4,63.4L210.6,62.6L215.1,64.8L210.1,65.6L210.2,64.8L203.9,63.9ZM216.3,62.5L222.6,63.5L222.8,62.7L227.3,65.0L222.3,65.7L222.4,64.9L216.1,63.9ZM228.5,62.5L234.8,63.6L235.0,62.8L239.4,65.1L234.4,65.8L234.6,65.0L228.3,63.9ZM240.7,62.5L247.0,63.7L247.2,62.9L251.6,65.3L246.6,65.9L246.8,65.1L240.5,63.9ZM252.9,62.5L259.2,63.8L259.4,62.9L263.8,65.4L258.8,66.0L258.9,65.2L252.7,63.9ZM265.2,62.5L271.4,63.8L271.6,63.0L276.0,65.6L270.9,66.1L271.1,65.2L264.8,63.9ZM277.4,62.5L283.6,63.9L283.8,63.1L288.1,65.7L283.1,66.1L283.3,65.3L277.0,63.9ZM289.6,62.5L295.8,64.0L296.0,63.2L300.3,65.8L295.3,66.2L295.5,65.4L289.2,63.9ZM301.8,62.5L308.0,64.0L308.2,63.2L312.5,65.9L307.4,66.2L307.6,65.4L301.4,63.9ZM314.0,62.5L320.2,64.1L320.4,63.3L324.7,66.0L319.6,66.3L319.8,65.5L313.6,63.9ZM326.2,62.5L332.4,64.1L332.6,63.3L336.8,66.0L331.8,66.3L332.0,65.5L325.8,63.9ZM338.4,62.5L344.6,64.2L344.8,63.4L349.0,66.1L344.0,66.4L344.2,65.6L338.0,63.9ZM387.2,62.5L393.3,64.4L393.6,63.6L397.7,66.5L392.7,66.6L392.9,65.8L386.8,63.9ZM399.4,62.5L405.5,64.4L405.8,63.6L409.9,66.6L404.8,66.6L405.1,65.8L399.0,63.9ZM45.4,75.5L51.8,75.5L51.8,74.7L56.6,76.2L51.8,77.8L51.8,77.0L45.4,77.0ZM57.6,75.5L64.0,75.5L64.0,74.7L68.8,76.2L64.0,77.8L64.0,77.0L57.6,77.0ZM69.8,75.5L76.2,75.5L76.2,74.7L81.0,76.2L76.2,77.8L76.2,77.0L69.8,77.0ZM82.0,75.5L88.4,75.5L88.4,74.7L93.2,76.2L88.4,77.8L88.4,77.0L82.0,77.0ZM94.2,75.5L100.6,75.6L100.6,74.7L105.4,76.3L100.6,77.8L100.6,77.0L94.2,77.0ZM106.4,75.5L112.8,75.7L112.8,74.8L117.6,76.5L112.8,77.9L112.8,77.1L106.4,77.0ZM118.6,75.5L125.0,75.8L125.1,74.9L129.8,76.6L124.9,78.0L125.0,77.2L118.6,77.0ZM130.8,75.5L137.2,75.9L137.3,75.0L142.0,76.8L137.1,78.1L137.2,77.3L130.8,77.0ZM143.0,75.5L149.4,76.0L149.5,75.1L154.2,77.0L149.3,78.2L149.3,77.4L143.0,77.0ZM155.3,75.5L161.6,76.1L161.7,75.2L166.4,77.2L161.5,78.3L161.5,77.5L155.1,77.0ZM167.5,75.5L173.8,76.1L173.9,75.3L178.5,77.3L173.6,78.4L173.7,77.6L167.3,77.0ZM179.7,75.5L186.0,76.3L186.1,75.4L190.7,77.5L185.8,78.5L185.9,77.7L179.5,77.0ZM191.9,75.5L198.2,76.4L198.3,75.5L202.9,77.7L198.0,78.6L198.1,77.8L191.7,77.0ZM204.1,75.5L210.4,76.5L210.6,75.6L215.1,77.9L210.1,78.7L210.2,77.9L203.9,77.0ZM216.3,75.5L222.6,76.6L222.8,75.7L227.3,78.0L222.3,78.8L222.4,78.0L216.1,77.0ZM228.5,75.5L234.8,76.7L235.0,75.8L239.4,78.2L234.4,78.9L234.6,78.1L228.3,77.0ZM240.7,75.5L247.0,76.7L247.2,75.9L251.6,78.3L246.6,79.0L246.8,78.1L240.5,77.0ZM252.9,75.5L259.2,76.8L259.4,76.0L263.8,78.5L258.8,79.0L258.9,78.2L252.7,77.0ZM265.2,75.5L271.4,76.9L271.6,76.1L276.0,78.6L270.9,79.1L271.1,78.3L264.8,77.0ZM277.4,75.5L283.6,77.0L283.8,76.2L288.1,78.7L283.1,79.2L283.3,78.4L277.0,77.0ZM289.6,75.5L295.8,77.0L296.0,76.2L300.3,78.9L295.3,79.3L295.5,78.4L289.2,77.0ZM301.8,75.6L308.0,77.1L308.2,76.3L312.5,78.9L307.4,79.3L307.6,78.5L301.4,76.9ZM314.0,75.6L320.2,77.1L320.4,76.3L324.7,79.0L319.6,79.3L319.8,78.5L313.6,76.9ZM326.2,75.6L332.4,77.2L332.6,76.4L336.8,79.1L331.8,79.4L332.0,78.6L325.8,76.9ZM338.4,75.6L344.6,77.2L344.8,76.4L349.0,79.2L344.0,79.4L344.2,78.6L338.0,76.9ZM350.6,75.6L356.8,77.3L357.0,76.5L361.2,79.2L356.2,79.5L356.4,78.7L350.2,76.9ZM362.8,75.6L369.0,77.3L369.2,76.5L373.4,79.3L368.3,79.5L368.6,78.7L362.4,76.9ZM375.0,75.6L381.1,77.4L381.4,76.6L385.5,79.4L380.5,79.6L380.7,78.8L374.6,76.9ZM387.2,75.6L393.3,77.4L393.6,76.6L397.7,79.5L392.7,79.6L392.9,78.8L386.8,76.9ZM399.4,75.6L405.5,77.5L405.8,76.7L409.9,79.6L404.8,79.7L405.1,78.9L399.0,76.9ZM411.6,75.6L417.7,77.5L418.0,76.8L422.1,79.7L417.0,79.7L417.3,78.9L411.2,76.9ZM423.8,75.6L429.9,77.6L430.2,76.8L434.2,79.8L429.2,79.8L429.4,79.0L423.4,76.9ZM436.0,75.6L442.1,77.7L442.4,76.9L446.4,79.9L441.3,79.8L441.6,79.0L435.6,76.9ZM45.4,88.6L51.8,88.6L51.8,87.8L56.6,89.3L51.8,90.9L51.8,90.0L45.4,90.0ZM57.6,88.6L64.0,88.6L64.0,87.8L68.8,89.3L64.0,90.9L64.0,90.0L57.6,90.0ZM69.8,88.6L76.2,88.6L76.2,87.8L81.0,89.3L76.2,90.9L76.2,90.0L69.8,90.0ZM82.0,88.6L88.4,88.6L88.4,87.8L93.2,89.3L88.4,90.9L88.4,90.0L82.0,90.0ZM94.2,88.6L100.6,88.6L100.6,87.8L105.4,89.3L100.6,90.9L100.6,90.0L94.2,90.0ZM106.4,88.6L112.8,88.7L112.8,87.9L117.6,89.5L112.8,91.0L112.8,90.1L106.4,90.0ZM118.6,88.6L125.0,88.8L125.1,88.0L129.8,89.7L124.9,91.1L125.0,90.2L118.6,90.0ZM130.8,88.6L137.2,88.9L137.3,88.1L142.0,89.9L137.1,91.2L137.2,90.3L130.8,90.0ZM143.0,88.6L149.4,89.0L149.5,88.2L154.2,90.0L149.3,91.3L149.3,90.4L143.0,90.0ZM155.3,88.6L161.6,89.1L161.7,88.3L166.4,90.2L161.5,91.4L161.5,90.5L155.1,90.0ZM167.5,88.6L173.8,89.2L173.9,88.4L178.5,90.4L173.6,91.5L173.7,90.6L167.3,90.0ZM179.7,88.6L186.0,89.3L186.1,88.5L190.7,90.6L185.8,91.6L185.9,90.7L179.5,90.0ZM191.9,88.6L198.2,89.4L198.3,88.6L202.9,90.7L198.0,91.7L198.1,90.8L191.7,90.0ZM204.1,88.6L210.4,89.5L210.6,88.7L215.1,90.9L210.1,91.7L210.2,90.9L203.9,90.0ZM216.3,88.6L222.6,89.6L222.8,88.8L227.3,91.1L222.3,91.8L222.4,91.0L216.1,90.0ZM228.5,88.6L234.8,89.7L235.0,88.9L239.4,91.2L234.4,91.9L234.6,91.1L228.3,90.0ZM240.7,88.6L247.0,89.8L247.2,89.0L251.6,91.4L246.6,92.0L246.8,91.2L240.5,90.0ZM252.9,88.6L259.2,89.9L259.4,89.0L263.8,91.5L258.8,92.1L258.9,91.3L252.7,90.0ZM265.2,88.6L271.4,89.9L271.6,89.1L276.0,91.7L270.9,92.2L271.1,91.3L264.8,90.0ZM277.4,88.6L283.6,90.0L283.8,89.2L288.1,91.8L283.1,92.2L283.3,91.4L277.0,90.0ZM289.6,88.6L295.8,90.1L296.0,89.3L300.3,91.9L295.3,92.3L295.5,91.5L289.2,90.0ZM301.8,88.6L308.0,90.1L308.2,89.3L312.5,92.0L307.4,92.3L307.6,91.5L301.4,90.0ZM314.0,88.6L320.2,90.2L320.4,89.4L324.7,92.1L319.6,92.4L319.8,91.6L313.6,90.0ZM326.2,88.6L332.4,90.2L332.6,89.4L336.8,92.1L331.8,92.4L332.0,91.6L325.8,90.0ZM338.4,88.6L344.6,90.3L344.8,89.5L349.0,92.2L344.0,92.5L344.2,91.7L338.0,90.0ZM350.6,88.6L356.8,90.3L357.0,89.5L361.2,92.3L356.2,92.5L356.4,91.7L350.2,90.0ZM362.8,88.6L369.0,90.4L369.2,89.6L373.4,92.4L368.3,92.6L368.6,91.8L362.4,90.0ZM375.0,88.6L381.1,90.4L381.4,89.6L385.5,92.5L380.5,92.6L380.7,91.8L374.6,90.0ZM387.2,88.6L393.3,90.5L393.6,89.7L397.7,92.6L392.7,92.7L392.9,91.9L386.8,90.0ZM399.4,88.6L405.5,90.5L405.8,89.7L409.9,92.7L404.8,92.7L405.1,91.9L399.0,90.0ZM411.6,88.6L417.7,90.6L418.0,89.8L422.1,92.8L417.0,92.8L417.3,92.0L411.2,90.0ZM423.8,88.6L429.9,90.7L430.2,89.9L434.2,92.9L429.2,92.8L429.4,92.0L423.4,90.0ZM436.0,88.6L442.1,90.7L442.4,89.9L446.4,93.0L441.3,92.9L441.6,92.1L435.6,90.0ZM448.2,88.6L454.3,90.8L454.5,90.0L458.5,93.1L453.5,92.9L453.8,92.1L447.8,90.0ZM460.5,88.6L466.4,90.9L466.7,90.1L470.7,93.2L465.7,93.0L465.9,92.2L459.9,90.0ZM472.7,88.6L478.6,90.9L478.9,90.1L482.9,93.3L477.8,93.0L478.1,92.3L472.1,90.0ZM45.4,101.6L51.8,101.6L51.8,100.8L56.6,102.4L51.8,103.9L51.8,103.1L45.4,103.1ZM57.6,101.6L64.0,101.6L64.0,100.8L68.8,102.4L64.0,103.9L64.0,103.1L57.6,103.1ZM69.8,101.6L76.2,101.6L76.2,100.8L81.0,102.4L76.2,103.9L76.2,103.1L69.8,103.1ZM82.0,101.6L88.4,101.6L88.4,100.8L93.2,102.4L88.4,103.9L88.4,103.1L82.0,103.1ZM94.2,101.6L100.6,101.7L100.6,100.8L105.4,102.4L100.6,103.9L100.6,103.1L94.2,103.1ZM106.4,101.6L112.8,101.8L112.8,100.9L117.6,102.6L112.8,104.0L112.8,103.2L106.4,103.1ZM118.6,101.6L125.0,101.9L125.1,101.0L129.8,102.7L124.9,104.1L125.0,103.3L118.6,103.1ZM130.8,101.6L137.2,102.0L137.3,101.1L142.0,102.9L137.1,104.2L137.2,103.4L130.8,103.1ZM143.0,101.6L149.4,102.1L149.5,101.2L154.2,103.1L149.3,104.3L149.3,103.5L143.0,103.1ZM155.3,101.6L161.6,102.2L161.7,101.3L166.4,103.3L161.5,104.4L161.5,103.6L155.1,103.1ZM167.5,101.6L173.8,102.2L173.9,101.4L178.5,103.4L173.6,104.5L173.7,103.7L167.3,103.1ZM179.7,101.6L186.0,102.4L186.1,101.5L190.7,103.6L185.8,104.6L185.9,103.8L179.5,103.1ZM191.9,101.6L198.2,102.5L198.3,101.6L202.9,103.8L198.0,104.7L198.1,103.9L191.7,103.1ZM204.1,101.6L210.4,102.6L210.6,101.7L215.1,104.0L210.1,104.8L210.2,104.0L203.9,103.1ZM216.3,101.6L222.6,102.7L222.8,101.8L227.3,104.1L222.3,104.9L222.4,104.1L216.1,103.1ZM228.5,101.6L234.8,102.8L235.0,101.9L239.4,104.3L234.4,105.0L234.6,104.2L228.3,103.1ZM240.7,101.6L247.0,102.8L247.2,102.0L251.6,104.4L246.6,105.1L246.8,104.2L240.5,103.1ZM252.9,101.6L259.2,102.9L259.4,102.1L263.8,104.6L258.8,105.1L258.9,104.3L252.7,103.1ZM265.2,101.6L271.4,103.0L271.6,102.2L276.0,104.7L270.9,105.2L271.1,104.4L264.8,103.1ZM277.4,101.6L283.6,103.1L283.8,102.3L288.1,104.8L283.1,105.3L283.3,104.5L277.0,103.1ZM289.6,101.6L295.8,103.1L296.0,102.3L300.3,105.0L295.3,105.4L295.5,104.5L289.2,103.1ZM301.8,101.7L308.0,103.2L308.2,102.4L312.5,105.0L307.4,105.4L307.6,104.6L301.4,103.0ZM314.0,101.7L320.2,103.2L320.4,102.4L324.7,105.1L319.6,105.4L319.8,104.6L313.6,103.0ZM326.2,101.7L332.4,103.3L332.6,102.5L336.8,105.2L331.8,105.5L332.0,104.7L325.8,103.0ZM338.4,101.7L344.6,103.3L344.8,102.5L349.0,105.3L344.0,105.5L344.2,104.7L338.0,103.0ZM350.6,101.7L356.8,103.4L357.0,102.6L361.2,105.3L356.2,105.6L356.4,104.8L350.2,103.0ZM362.8,101.7L369.0,103.4L369.2,102.6L373.4,105.4L368.3,105.6L368.6,104.8L362.4,103.0ZM375.0,101.7L381.1,103.5L381.4,102.7L385.5,105.5L380.5,105.7L380.7,104.9L374.6,103.0ZM387.2,101.7L393.3,103.5L393.6,102.7L397.7,105.6L392.7,105.7L392.9,104.9L386.8,103.0ZM399.4,101.7L405.5,103.6L405.8,102.8L409.9,105.7L404.8,105.8L405.1,105.0L399.0,103.0ZM411.6,101.7L417.7,103.6L418.0,102.9L422.1,105.8L417.0,105.8L417.3,105.0L411.2,103.0ZM423.8,101.7L429.9,103.7L430.2,102.9L434.2,105.9L429.2,105.9L429.4,105.1L423.4,103.0ZM436.0,101.7L442.1,103.8L442.4,103.0L446.4,106.0L441.3,105.9L441.6,105.1L435.6,103.0ZM448.2,101.7L454.3,103.8L454.5,103.1L458.5,106.1L453.5,106.0L453.8,105.2L447.8,103.0ZM460.5,101.7L466.4,103.9L466.7,103.1L470.7,106.3L465.7,106.0L465.9,105.3L459.9,103.0ZM472.7,101.7L478.6,104.0L478.9,103.2L482.9,106.4L477.8,106.1L478.1,105.3L472.1,103.0ZM484.9,101.7L490.8,104.0L491.1,103.2L495.0,106.4L490.0,106.1L490.3,105.3L484.3,103.0ZM497.1,101.7L503.0,104.0L503.3,103.3L507.2,106.5L502.2,106.1L502.5,105.4L496.5,103.0ZM509.3,101.7L515.2,104.1L515.5,103.3L519.4,106.5L514.4,106.2L514.7,105.4L508.7,103.0ZM45.4,114.7L51.8,114.7L51.8,113.9L56.6,115.4L51.8,117.0L51.8,116.1L45.4,116.1ZM57.6,114.7L64.0,114.7L64.0,113.9L68.8,115.4L64.0,117.0L64.0,116.1L57.6,116.1ZM69.8,114.7L76.2,114.7L76.2,113.9L81.0,115.4L76.2,117.0L76.2,116.1L69.8,116.1ZM82.0,114.7L88.4,114.7L88.4,113.9L93.2,115.4L88.4,117.0L88.4,116.1L82.0,116.1ZM94.2,114.7L100.6,114.7L100.6,113.9L105.4,115.4L100.6,117.0L100.6,116.1L94.2,116.1ZM106.4,114.7L112.8,114.8L112.8,114.0L117.6,115.6L112.8,117.1L112.8,116.2L106.4,116.1ZM118.6,114.7L125.0,114.9L125.1,114.1L129.8,115.8L124.9,117.2L125.0,116.3L118.6,116.1ZM130.8,114.7L137.2,115.0L137.3,114.2L142.0,116.0L137.1,117.3L137.2,116.4L130.8,116.1ZM143.0,114.7L149.4,115.1L149.5,114.3L154.2,116.1L149.3,117.4L149.3,116.5L143.0,116.1ZM155.3,114.7L161.6,115.2L161.7,114.4L166.4,116.3L161.5,117.5L161.5,116.6L155.1,116.1ZM167.5,114.7L173.8,115.3L173.9,114.5L178.5,116.5L173.6,117.6L173.7,116.7L167.3,116.1ZM179.7,114.7L186.0,115.4L186.1,114.6L190.7,116.7L185.8,117.7L185.9,116.8L179.5,116.1ZM191.9,114.7L198.2,115.5L198.3,114.7L202.9,116.8L198.0,117.8L198.1,116.9L191.7,116.1ZM204.1,114.7L210.4,115.6L210.6,114.8L215.1,117.0L210.1,117.8L210.2,117.0L203.9,116.1ZM216.3,114.7L222.6,115.7L222.8,114.9L227.3,117.2L222.3,117.9L222.4,117.1L216.1,116.1ZM228.5,114.7L234.8,115.8L235.0,115.0L239.4,117.3L234.4,118.0L234.6,117.2L228.3,116.1ZM240.7,114.7L247.0,115.9L247.2,115.1L251.6,117.5L246.6,118.1L246.8,117.3L240.5,116.1ZM252.9,114.7L259.2,116.0L259.4,115.1L263.8,117.6L258.8,118.2L258.9,117.4L252.7,116.1ZM265.2,114.7L271.4,116.0L271.6,115.2L276.0,117.8L270.9,118.3L271.1,117.4L264.8,116.1ZM277.4,114.7L283.6,116.1L283.8,115.3L288.1,117.9L283.1,118.3L283.3,117.5L277.0,116.1ZM289.6,114.7L295.8,116.2L296.0,115.4L300.3,118.0L295.3,118.4L295.5,117.6L289.2,116.1ZM301.8,114.7L308.0,116.2L308.2,115.4L312.5,118.1L307.4,118.4L307.6,117.6L301.4,116.1ZM314.0,114.7L320.2,116.3L320.4,115.5L324.7,118.2L319.6,118.5L319.8,117.7L313.6,116.1ZM326.2,114.7L332.4,116.3L332.6,115.5L336.8,118.2L331.8,118.5L332.0,117.7L325.8,116.1ZM338.4,114.7L344.6,116.4L344.8,115.6L349.0,118.3L344.0,118.6L344.2,117.8L338.0,116.1ZM350.6,114.7L356.8,116.4L357.0,115.6L361.2,118.4L356.2,118.6L356.4,117.8L350.2,116.1ZM362.8,114.7L369.0,116.5L369.2,115.7L373.4,118.5L368.3,118.7L368.6,117.9L362.4,116.1ZM375.0,114.7L381.1,116.5L381.4,115.7L385.5,118.6L380.5,118.7L380.7,117.9L374.6,116.1ZM387.2,114.7L393.3,116.6L393.6,115.8L397.7,118.7L392.7,118.8L392.9,118.0L386.8,116.1ZM399.4,114.7L405.5,116.6L405.8,115.8L409.9,118.8L404.8,118.8L405.1,118.0L399.0,116.1ZM411.6,114.7L417.7,116.7L418.0,115.9L422.1,118.9L417.0,118.9L417.3,118.1L411.2,116.1ZM423.8,114.7L429.9,116.8L430.2,116.0L434.2,119.0L429.2,118.9L429.4,118.1L423.4,116.1ZM436.0,114.7L442.1,116.8L442.4,116.0L446.4,119.1L441.3,119.0L441.6,118.2L435.6,116.1ZM448.2,114.7L454.3,116.9L454.5,116.1L458.5,119.2L453.5,119.0L453.8,118.2L447.8,116.1ZM460.5,114.7L466.4,117.0L466.7,116.2L470.7,119.3L465.7,119.1L465.9,118.3L459.9,116.1ZM472.7,114.7L478.6,117.0L478.9,116.2L482.9,119.4L477.8,119.1L478.1,118.4L472.1,116.1ZM484.9,114.7L490.8,117.1L491.1,116.3L495.0,119.5L490.0,119.2L490.3,118.4L484.3,116.1ZM497.1,114.7L503.0,117.1L503.3,116.3L507.2,119.5L502.2,119.2L502.5,118.4L496.5,116.1ZM509.3,114.7L515.2,117.1L515.5,116.3L519.4,119.6L514.4,119.2L514.7,118.5L508.7,116.1ZM521.5,114.7L527.4,117.2L527.7,116.4L531.6,119.6L526.5,119.3L526.9,118.5L520.9,116.1ZM533.7,114.7L539.6,117.2L539.9,116.4L543.7,119.7L538.7,119.3L539.0,118.5L533.1,116.1ZM545.9,114.7L551.8,117.2L552.1,116.4L555.9,119.7L550.9,119.3L551.2,118.5L545.3,116.1ZM45.4,127.7L51.8,127.7L51.8,126.9L56.6,128.4L51.8,130.0L51.8,129.2L45.4,129.2ZM57.6,127.7L64.0,127.7L64.0,126.9L68.8,128.4L64.0,130.0L64.0,129.2L57.6,129.2ZM69.8,127.7L76.2,127.7L76.2,126.9L81.0,128.4L76.2,130.0L76.2,129.2L69.8,129.2ZM82.0,127.7L88.4,127.7L88.4,126.9L93.2,128.4L88.4,130.0L88.4,129.2L82.0,129.2ZM94.2,127.7L100.6,127.8L100.6,126.9L105.4,128.5L100.6,130.0L100.6,129.2L94.2,129.2ZM106.4,127.7L112.8,127.9L112.8,127.0L117.6,128.7L112.8,130.1L112.8,129.3L106.4,129.2ZM118.6,127.7L125.0,128.0L125.1,127.1L129.8,128.8L124.9,130.2L125.0,129.4L118.6,129.2ZM130.8,127.7L137.2,128.1L137.3,127.2L142.0,129.0L137.1,130.3L137.2,129.5L130.8,129.2ZM143.0,127.7L149.4,128.2L149.5,127.3L154.2,129.2L149.3,130.4L149.3,129.6L143.0,129.2ZM155.3,127.7L161.6,128.3L161.7,127.4L166.4,129.4L161.5,130.5L161.5,129.7L155.1,129.2ZM167.5,127.7L173.8,128.3L173.9,127.5L178.5,129.5L173.6,130.6L173.7,129.8L167.3,129.2ZM179.7,127.7L186.0,128.5L186.1,127.6L190.7,129.7L185.8,130.7L185.9,129.9L179.5,129.2ZM191.9,127.7L198.2,128.6L198.3,127.7L202.9,129.9L198.0,130.8L198.1,130.0L191.7,129.2ZM204.1,127.7L210.4,128.7L210.6,127.8L215.1,130.1L210.1,130.9L210.2,130.1L203.9,129.2ZM216.3,127.7L222.6,128.8L222.8,127.9L227.3,130.2L222.3,131.0L222.4,130.2L216.1,129.2ZM228.5,127.7L234.8,128.9L235.0,128.0L239.4,130.4L234.4,131.1L234.6,130.3L228.3,129.2ZM240.7,127.7L247.0,128.9L247.2,128.1L251.6,130.5L246.6,131.2L246.8,130.3L240.5,129.2ZM252.9,127.7L259.2,129.0L259.4,128.2L263.8,130.7L258.8,131.2L258.9,130.4L252.7,129.2ZM265.2,127.7L271.4,129.1L271.6,128.3L276.0,130.8L270.9,131.3L271.1,130.5L264.8,129.2ZM277.4,127.7L283.6,129.2L283.8,128.4L288.1,130.9L283.1,131.4L283.3,130.6L277.0,129.2ZM289.6,127.7L295.8,129.2L296.0,128.4L300.3,131.1L295.3,131.5L295.5,130.6L289.2,129.2ZM301.8,127.8L308.0,129.3L308.2,128.5L312.5,131.1L307.4,131.5L307.6,130.7L301.4,129.1ZM314.0,127.8L320.2,129.3L320.4,128.5L324.7,131.2L319.6,131.5L319.8,130.7L313.6,129.1ZM326.2,127.8L332.4,129.4L332.6,128.6L336.8,131.3L331.8,131.6L332.0,130.8L325.8,129.1ZM338.4,127.8L344.6,129.4L344.8,128.6L349.0,131.4L344.0,131.6L344.2,130.8L338.0,129.1ZM350.6,127.8L356.8,129.5L357.0,128.7L361.2,131.4L356.2,131.7L356.4,130.9L350.2,129.1ZM362.8,127.8L369.0,129.5L369.2,128.7L373.4,131.5L368.3,131.7L368.6,130.9L362.4,129.1ZM375.0,127.8L381.1,129.6L381.4,128.8L385.5,131.6L380.5,131.8L380.7,131.0L374.6,129.1ZM387.2,127.8L393.3,129.6L393.6,128.8L397.7,131.7L392.7,131.8L392.9,131.0L386.8,129.1ZM399.4,127.8L405.5,129.7L405.8,128.9L409.9,131.8L404.8,131.9L405.1,131.1L399.0,129.1ZM411.6,127.8L417.7,129.7L418.0,129.0L422.1,131.9L417.0,131.9L417.3,131.1L411.2,129.1ZM423.8,127.8L429.9,129.8L430.2,129.0L434.2,132.0L429.2,132.0L429.4,131.2L423.4,129.1ZM436.0,127.8L442.1,129.9L442.4,129.1L446.4,132.1L441.3,132.0L441.6,131.2L435.6,129.1ZM448.2,127.8L454.3,129.9L454.5,129.2L458.5,132.2L453.5,132.1L453.8,131.3L447.8,129.1ZM460.5,127.8L466.4,130.0L466.7,129.2L470.7,132.4L465.7,132.1L465.9,131.4L459.9,129.1ZM472.7,127.8L478.6,130.1L478.9,129.3L482.9,132.5L477.8,132.2L478.1,131.4L472.1,129.1ZM484.9,127.8L490.8,130.1L491.1,129.3L495.0,132.5L490.0,132.2L490.3,131.4L484.3,129.1ZM497.1,127.8L503.0,130.1L503.3,129.4L507.2,132.6L502.2,132.2L502.5,131.5L496.5,129.1ZM509.3,127.8L515.2,130.2L515.5,129.4L519.4,132.6L514.4,132.3L514.7,131.5L508.7,129.1ZM521.5,127.8L527.4,130.2L527.7,129.4L531.6,132.7L526.5,132.3L526.9,131.5L520.9,129.1ZM533.7,127.8L539.6,130.2L539.9,129.5L543.7,132.7L538.7,132.3L539.0,131.6L533.1,129.1ZM545.9,127.8L551.8,130.2L552.1,129.5L555.9,132.7L550.9,132.3L551.2,131.6L545.3,129.1ZM558.1,127.8L564.0,130.2L564.3,129.5L568.1,132.8L563.1,132.3L563.4,131.6L557.5,129.1ZM570.3,127.8L576.2,130.3L576.5,129.5L580.3,132.8L575.3,132.3L575.6,131.6L569.7,129.1ZM191.9,140.8L198.2,141.6L198.3,140.8L202.9,142.9L198.0,143.9L198.1,143.0L191.7,142.2ZM204.1,140.8L210.4,141.7L210.6,140.9L215.1,143.1L210.1,143.9L210.2,143.1L203.9,142.2ZM216.3,140.8L222.6,141.8L222.8,141.0L227.3,143.3L222.3,144.0L222.4,143.2L216.1,142.2ZM228.5,140.8L234.8,141.9L235.0,141.1L239.4,143.4L234.4,144.1L234.6,143.3L228.3,142.2ZM240.7,140.8L247.0,142.0L247.2,141.2L251.6,143.6L246.6,144.2L246.8,143.4L240.5,142.2ZM252.9,140.8L259.2,142.1L259.4,141.2L263.8,143.7L258.8,144.3L258.9,143.5L252.7,142.2ZM265.2,140.8L271.4,142.1L271.6,141.3L276.0,143.9L270.9,144.4L271.1,143.5L264.8,142.2ZM277.4,140.8L283.6,142.2L283.8,141.4L288.1,144.0L283.1,144.4L283.3,143.6L277.0,142.2ZM289.6,140.8L295.8,142.3L296.0,141.5L300.3,144.1L295.3,144.5L295.5,143.7L289.2,142.2ZM301.8,140.8L308.0,142.3L308.2,141.5L312.5,144.2L307.4,144.5L307.6,143.7L301.4,142.2ZM314.0,140.8L320.2,142.4L320.4,141.6L324.7,144.3L319.6,144.6L319.8,143.8L313.6,142.2ZM326.2,140.8L332.4,142.4L332.6,141.6L336.8,144.3L331.8,144.6L332.0,143.8L325.8,142.2ZM338.4,140.8L344.6,142.5L344.8,141.7L349.0,144.4L344.0,144.7L344.2,143.9L338.0,142.2ZM350.6,140.8L356.8,142.5L357.0,141.7L361.2,144.5L356.2,144.7L356.4,143.9L350.2,142.2ZM362.8,140.8L369.0,142.6L369.2,141.8L373.4,144.6L368.3,144.8L368.6,144.0L362.4,142.2ZM375.0,140.8L381.1,142.6L381.4,141.8L385.5,144.7L380.5,144.8L380.7,144.0L374.6,142.2ZM387.2,140.8L393.3,142.7L393.6,141.9L397.7,144.8L392.7,144.9L392.9,144.1L386.8,142.2ZM399.4,140.8L405.5,142.7L405.8,141.9L409.9,144.9L404.8,144.9L405.1,144.1L399.0,142.2ZM411.6,140.8L417.7,142.8L418.0,142.0L422.1,145.0L417.0,145.0L417.3,144.2L411.2,142.2ZM423.8,140.8L429.9,142.9L430.2,142.1L434.2,145.1L429.2,145.0L429.4,144.2L423.4,142.2ZM436.0,140.8L442.1,142.9L442.4,142.1L446.4,145.2L441.3,145.1L441.6,144.3L435.6,142.2ZM448.2,140.8L454.3,143.0L454.5,142.2L458.5,145.3L453.5,145.1L453.8,144.3L447.8,142.2ZM460.5,140.8L466.4,143.1L466.7,142.3L470.7,145.4L465.7,145.2L465.9,144.4L459.9,142.2ZM472.7,140.8L478.6,143.1L478.9,142.3L482.9,145.5L477.8,145.2L478.1,144.5L472.1,142.2ZM484.9,140.8L490.8,143.2L491.1,142.4L495.0,145.6L490.0,145.3L490.3,144.5L484.3,142.2ZM497.1,140.8L503.0,143.2L503.3,142.4L507.2,145.6L502.2,145.3L502.5,144.5L496.5,142.2ZM509.3,140.8L515.2,143.2L515.5,142.4L519.4,145.7L514.4,145.3L514.7,144.6L508.7,142.2ZM521.5,140.8L527.4,143.3L527.7,142.5L531.6,145.7L526.5,145.4L526.9,144.6L520.9,142.2ZM533.7,140.8L539.6,143.3L539.9,142.5L543.7,145.8L538.7,145.4L539.0,144.6L533.1,142.2ZM545.9,140.8L551.8,143.3L552.1,142.5L555.9,145.8L550.9,145.4L551.2,144.6L545.3,142.2ZM558.1,140.8L564.0,143.3L564.3,142.5L568.1,145.8L563.1,145.4L563.4,144.6L557.5,142.2ZM570.3,140.8L576.2,143.3L576.5,142.5L580.3,145.8L575.3,145.4L575.6,144.6L569.7,142.2ZM582.5,140.8L588.4,143.3L588.7,142.5L592.5,145.8L587.5,145.4L587.8,144.6L581.9,142.2ZM594.7,140.8L600.6,143.3L600.9,142.5L604.7,145.8L599.7,145.4L600.0,144.6L594.1,142.2ZM606.9,140.8L612.8,143.3L613.1,142.6L616.9,145.8L611.9,145.4L612.2,144.6L606.3,142.2ZM277.4,153.8L283.6,155.3L283.8,154.5L288.1,157.0L283.1,157.5L283.3,156.7L277.0,155.3ZM289.6,153.8L295.8,155.3L296.0,154.5L300.3,157.2L295.3,157.6L295.5,156.7L289.2,155.3ZM301.8,153.9L308.0,155.4L308.2,154.6L312.5,157.2L307.4,157.6L307.6,156.8L301.4,155.2ZM314.0,153.9L320.2,155.4L320.4,154.6L324.7,157.3L319.6,157.6L319.8,156.8L313.6,155.2ZM326.2,153.9L332.4,155.5L332.6,154.7L336.8,157.4L331.8,157.7L332.0,156.9L325.8,155.2ZM338.4,153.9L344.6,155.5L344.8,154.7L349.0,157.5L344.0,157.7L344.2,156.9L338.0,155.2ZM350.6,153.9L356.8,155.6L357.0,154.8L361.2,157.5L356.2,157.8L356.4,157.0L350.2,155.2ZM362.8,153.9L369.0,155.6L369.2,154.8L373.4,157.6L368.3,157.8L368.6,157.0L362.4,155.2ZM375.0,153.9L381.1,155.7L381.4,154.9L385.5,157.7L380.5,157.9L380.7,157.1L374.6,155.2ZM387.2,153.9L393.3,155.7L393.6,154.9L397.7,157.8L392.7,157.9L392.9,157.1L386.8,155.2ZM399.4,153.9L405.5,155.8L405.8,155.0L409.9,157.9L404.8,158.0L405.1,157.2L399.0,155.2ZM411.6,153.9L417.7,155.8L418.0,155.1L422.1,158.0L417.0,158.0L417.3,157.2L411.2,155.2ZM423.8,153.9L429.9,155.9L430.2,155.1L434.2,158.1L429.2,158.1L429.4,157.3L423.4,155.2ZM436.0,153.9L442.1,156.0L442.4,155.2L446.4,158.2L441.3,158.1L441.6,157.3L435.6,155.2ZM448.2,153.9L454.3,156.0L454.5,155.3L458.5,158.3L453.5,158.2L453.8,157.4L447.8,155.2ZM460.5,153.9L466.4,156.1L466.7,155.3L470.7,158.5L465.7,158.2L465.9,157.5L459.9,155.2ZM472.7,153.9L478.6,156.2L478.9,155.4L482.9,158.6L477.8,158.3L478.1,157.5L472.1,155.2ZM484.9,153.9L490.8,156.2L491.1,155.4L495.0,158.6L490.0,158.3L490.3,157.5L484.3,155.2ZM497.1,153.9L503.0,156.2L503.3,155.5L507.2,158.7L502.2,158.3L502.5,157.6L496.5,155.2ZM509.3,153.9L515.2,156.3L515.5,155.5L519.4,158.7L514.4,158.4L514.7,157.6L508.7,155.2ZM521.5,153.9L527.4,156.3L527.7,155.5L531.6,158.8L526.5,158.4L526.9,157.6L520.9,155.2ZM533.7,153.9L539.6,156.3L539.9,155.6L543.7,158.8L538.7,158.4L539.0,157.7L533.1,155.2ZM545.9,153.9L551.8,156.3L552.1,155.6L555.9,158.8L550.9,158.4L551.2,157.7L545.3,155.2ZM558.1,153.9L564.0,156.3L564.3,155.6L568.1,158.9L563.1,158.4L563.4,157.7L557.5,155.2ZM570.3,153.9L576.2,156.4L576.5,155.6L580.3,158.9L575.3,158.4L575.6,157.7L569.7,155.2ZM582.5,153.9L588.4,156.4L588.7,155.6L592.5,158.9L587.5,158.4L587.8,157.7L581.9,155.2ZM594.7,153.9L600.6,156.4L600.9,155.6L604.7,158.9L599.7,158.5L600.0,157.7L594.1,155.2ZM606.9,153.9L612.8,156.4L613.1,155.6L616.9,158.9L611.9,158.5L612.2,157.7L606.3,155.2ZM619.1,153.9L625.0,156.4L625.3,155.6L629.1,158.9L624.1,158.5L624.4,157.7L618.5,155.2ZM631.3,153.9L637.2,156.4L637.5,155.6L641.3,158.9L636.3,158.5L636.6,157.7L630.7,155.2ZM643.5,153.9L649.4,156.4L649.7,155.6L653.5,158.9L648.5,158.5L648.8,157.7L642.9,155.2ZM326.2,166.9L332.4,168.5L332.6,167.7L336.8,170.4L331.8,170.7L332.0,169.9L325.8,168.3ZM338.4,166.9L344.6,168.6L344.8,167.8L349.0,170.5L344.0,170.8L344.2,170.0L338.0,168.3ZM350.6,166.9L356.8,168.6L357.0,167.8L361.2,170.6L356.2,170.8L356.4,170.0L350.2,168.3ZM362.8,166.9L369.0,168.7L369.2,167.9L373.4,170.7L368.3,170.9L368.6,170.1L362.4,168.3ZM375.0,166.9L381.1,168.7L381.4,167.9L385.5,170.8L380.5,170.9L380.7,170.1L374.6,168.3ZM387.2,166.9L393.3,168.8L393.6,168.0L397.7,170.9L392.7,171.0L392.9,170.2L386.8,168.3ZM399.4,166.9L405.5,168.8L405.8,168.0L409.9,171.0L404.8,171.0L405.1,170.2L399.0,168.3ZM411.6,166.9L417.7,168.9L418.0,168.1L422.1,171.1L417.0,171.1L417.3,170.3L411.2,168.3ZM423.8,166.9L429.9,169.0L430.2,168.2L434.2,171.2L429.2,171.1L429.4,170.3L423.4,168.3ZM436.0,166.9L442.1,169.0L442.4,168.2L446.4,171.3L441.3,171.2L441.6,170.4L435.6,168.3ZM448.2,166.9L454.3,169.1L454.5,168.3L458.5,171.4L453.5,171.2L453.8,170.4L447.8,168.3ZM460.5,166.9L466.4,169.2L466.7,168.4L470.7,171.5L465.7,171.3L465.9,170.5L459.9,168.3ZM472.7,166.9L478.6,169.2L478.9,168.4L482.9,171.6L477.8,171.3L478.1,170.6L472.1,168.3ZM484.9,166.9L490.8,169.3L491.1,168.5L495.0,171.7L490.0,171.4L490.3,170.6L484.3,168.3ZM497.1,166.9L503.0,169.3L503.3,168.5L507.2,171.7L502.2,171.4L502.5,170.6L496.5,168.3ZM509.3,166.9L515.2,169.3L515.5,168.5L519.4,171.8L514.4,171.4L514.7,170.7L508.7,168.3ZM521.5,166.9L527.4,169.4L527.7,168.6L531.6,171.8L526.5,171.5L526.9,170.7L520.9,168.3ZM533.7,166.9L539.6,169.4L539.9,168.6L543.7,171.9L538.7,171.5L539.0,170.7L533.1,168.3ZM545.9,166.9L551.8,169.4L552.1,168.6L555.9,171.9L550.9,171.5L551.2,170.7L545.3,168.3ZM558.1,166.9L564.0,169.4L564.3,168.6L568.1,171.9L563.1,171.5L563.4,170.7L557.5,168.3ZM570.3,166.9L576.2,169.4L576.5,168.6L580.3,171.9L575.3,171.5L575.6,170.7L569.7,168.3ZM582.5,166.9L588.4,169.4L588.7,168.6L592.5,171.9L587.5,171.5L587.8,170.7L581.9,168.3ZM594.7,166.9L600.6,169.4L600.9,168.6L604.7,171.9L599.7,171.5L600.0,170.7L594.1,168.3ZM606.9,166.9L612.8,169.4L613.1,168.7L616.9,171.9L611.9,171.5L612.2,170.7L606.3,168.3ZM619.1,166.9L625.0,169.4L625.3,168.7L629.1,171.9L624.1,171.5L624.4,170.7L618.5,168.3ZM631.3,166.9L637.2,169.4L637.5,168.7L641.3,172.0L636.3,171.5L636.6,170.8L630.7,168.3ZM643.5,166.9L649.4,169.4L649.7,168.7L653.5,172.0L648.5,171.5L648.8,170.8L642.9,168.3ZM375.0,180.0L381.1,181.8L381.4,181.0L385.5,183.8L380.5,184.0L380.7,183.2L374.6,181.3ZM387.2,180.0L393.3,181.8L393.6,181.0L397.7,183.9L392.7,184.0L392.9,183.2L386.8,181.3ZM399.4,180.0L405.5,181.9L405.8,181.1L409.9,184.0L404.8,184.1L405.1,183.3L399.0,181.3ZM411.6,180.0L417.7,181.9L418.0,181.2L422.1,184.1L417.0,184.1L417.3,183.3L411.2,181.3ZM423.8,180.0L429.9,182.0L430.2,181.2L434.2,184.2L429.2,184.2L429.4,183.4L423.4,181.3ZM436.0,180.0L442.1,182.1L442.4,181.3L446.4,184.3L441.3,184.2L441.6,183.4L435.6,181.3ZM448.2,180.0L454.3,182.1L454.5,181.4L458.5,184.4L453.5,184.3L453.8,183.5L447.8,181.3ZM460.5,180.0L466.4,182.2L466.7,181.4L470.7,184.6L465.7,184.3L465.9,183.6L459.9,181.3ZM472.7,180.0L478.6,182.3L478.9,181.5L482.9,184.7L477.8,184.4L478.1,183.6L472.1,181.3ZM484.9,180.0L490.8,182.3L491.1,181.5L495.0,184.7L490.0,184.4L490.3,183.6L484.3,181.3ZM497.1,180.0L503.0,182.3L503.3,181.6L507.2,184.8L502.2,184.4L502.5,183.7L496.5,181.3ZM509.3,180.0L515.2,182.4L515.5,181.6L519.4,184.8L514.4,184.5L514.7,183.7L508.7,181.3ZM521.5,180.0L527.4,182.4L527.7,181.6L531.6,184.9L526.5,184.5L526.9,183.7L520.9,181.3ZM533.7,180.0L539.6,182.4L539.9,181.7L543.7,184.9L538.7,184.5L539.0,183.8L533.1,181.3ZM545.9,180.0L551.8,182.4L552.1,181.7L555.9,184.9L550.9,184.5L551.2,183.8L545.3,181.3ZM558.1,180.0L564.0,182.4L564.3,181.7L568.1,185.0L563.1,184.5L563.4,183.8L557.5,181.3ZM570.3,180.0L576.2,182.5L576.5,181.7L580.3,185.0L575.3,184.5L575.6,183.8L569.7,181.3ZM582.5,180.0L588.4,182.5L588.7,181.7L592.5,185.0L587.5,184.5L587.8,183.8L581.9,181.3ZM594.7,180.0L600.6,182.5L600.9,181.7L604.7,185.0L599.7,184.6L600.0,183.8L594.1,181.3ZM606.9,180.0L612.8,182.5L613.1,181.7L616.9,185.0L611.9,184.6L612.2,183.8L606.3,181.3ZM619.1,180.0L625.0,182.5L625.3,181.7L629.1,185.0L624.1,184.6L624.4,183.8L618.5,181.3ZM631.3,180.0L637.2,182.5L637.5,181.7L641.3,185.0L636.3,184.6L636.6,183.8L630.7,181.3ZM643.5,180.0L649.4,182.5L649.7,181.7L653.5,185.0L648.5,184.6L648.8,183.8L642.9,181.3Z" fill="#f41c00" stroke="#6a0e00" stroke-width=".42" stroke-linejoin="round"/>
<path d="M326.2,36.4L332.4,38.0L332.6,37.2L336.8,39.9L331.8,40.2L332.0,39.4L325.8,37.8ZM326.2,49.5L332.4,51.1L332.6,50.3L336.8,53.0L331.8,53.3L332.0,52.5L325.8,50.8ZM350.6,62.5L356.8,64.2L357.0,63.4L361.2,66.2L356.2,66.4L356.4,65.6L350.2,63.9Z" fill="#f25e00" stroke="#5a1c00" stroke-width=".42" stroke-linejoin="round"/>
<path d="M338.4,36.4L344.6,38.1L344.8,37.3L349.0,40.0L344.0,40.3L344.2,39.5L338.0,37.8ZM350.6,36.4L356.8,38.1L357.0,37.3L361.2,40.1L356.2,40.3L356.4,39.5L350.2,37.8ZM362.8,36.4L369.0,38.2L369.2,37.4L373.4,40.2L368.3,40.4L368.6,39.6L362.4,37.8ZM338.4,49.5L344.6,51.1L344.8,50.3L349.0,53.1L344.0,53.3L344.2,52.5L338.0,50.8ZM350.6,49.5L356.8,51.2L357.0,50.4L361.2,53.1L356.2,53.4L356.4,52.6L350.2,50.8ZM362.8,49.5L369.0,51.2L369.2,50.4L373.4,53.2L368.3,53.4L368.6,52.6L362.4,50.8ZM375.0,49.5L381.1,51.3L381.4,50.5L385.5,53.3L380.5,53.5L380.7,52.7L374.6,50.8ZM362.8,62.5L369.0,64.3L369.2,63.5L373.4,66.3L368.3,66.5L368.6,65.7L362.4,63.9ZM375.0,62.5L381.1,64.3L381.4,63.5L385.5,66.4L380.5,66.5L380.7,65.7L374.6,63.9Z" fill="#f59600" stroke="#5a3000" stroke-width=".42" stroke-linejoin="round"/>
<path d="M57.6,10.4L58.2,10.7L60.2,10.7L61.6,13.3L58.7,13.6L57.6,12.0L56.9,11.6ZM69.8,10.4L70.5,10.7L72.5,10.7L73.9,13.3L71.0,13.6L69.8,12.0L69.2,11.6ZM82.1,10.4L82.7,10.7L84.7,10.7L86.2,13.3L83.2,13.6L82.1,12.0L81.4,11.6ZM94.3,10.4L95.0,10.7L97.0,10.7L98.4,13.3L95.5,13.6L94.3,12.0L93.7,11.6ZM106.6,10.4L107.2,10.7L109.2,10.7L110.7,13.3L107.7,13.6L106.6,12.0L105.9,11.6ZM126.0,10.3L126.5,10.5L127.9,10.0L128.7,12.1L126.7,13.1L126.0,11.8L125.6,11.7ZM138.3,10.3L138.8,10.5L140.3,10.1L141.3,12.2L139.1,13.2L138.3,11.8L137.8,11.7ZM150.6,10.3L151.1,10.6L152.7,10.2L153.8,12.4L151.5,13.2L150.6,11.9L150.0,11.7ZM162.8,10.4L163.4,10.6L165.1,10.2L166.3,12.5L163.9,13.3L162.9,11.9L162.3,11.6ZM175.1,10.4L175.7,10.6L177.5,10.3L179.0,12.7L176.3,13.4L175.2,11.9L174.5,11.6ZM187.3,10.4L188.0,10.6L190.0,10.5L191.7,12.9L188.7,13.5L187.5,11.9L186.8,11.6ZM199.6,10.4L200.3,10.7L202.5,10.6L204.3,13.1L201.2,13.6L199.8,12.0L199.0,11.6ZM211.8,10.4L212.7,10.7L215.0,10.7L217.0,13.4L213.7,13.7L212.1,12.0L211.3,11.6ZM224.1,10.4L225.7,11.1L228.0,11.0L229.9,13.7L226.6,14.1L225.1,12.3L223.5,11.6ZM236.3,10.4L238.6,11.4L240.9,11.4L242.9,14.1L239.6,14.4L238.1,12.7L235.8,11.6ZM248.6,10.4L251.3,11.7L253.6,11.7L255.6,14.4L252.3,14.6L250.8,12.8L248.0,11.6ZM492.9,10.4L495.1,8.8L496.2,6.8L499.5,6.5L498.2,9.5L495.9,10.0L493.7,11.6ZM505.1,10.4L507.0,9.1L508.2,7.1L511.5,6.7L510.1,9.7L507.8,10.2L506.0,11.6ZM517.4,10.4L519.0,9.3L520.1,7.3L523.4,6.9L522.1,9.9L519.8,10.4L518.2,11.6ZM529.6,10.4L531.0,9.4L532.1,7.4L535.5,7.1L534.1,10.1L531.8,10.6L530.5,11.6ZM541.9,10.4L543.0,9.6L544.2,7.6L547.5,7.2L546.1,10.3L543.9,10.7L542.7,11.6ZM554.1,10.4L555.1,9.7L556.3,7.7L559.6,7.3L558.2,10.4L555.9,10.8L555.0,11.6ZM566.4,10.4L567.2,9.8L568.4,7.8L571.7,7.5L570.3,10.5L568.1,11.0L567.2,11.6ZM578.6,10.4L579.4,9.9L580.5,7.9L583.8,7.5L582.4,10.6L580.2,11.0L579.5,11.6ZM590.9,10.4L591.6,9.9L592.7,8.0L596.0,7.6L594.6,10.6L592.4,11.1L591.7,11.6ZM603.1,10.4L603.8,9.9L604.9,8.0L608.1,7.7L606.8,10.7L604.6,11.1L604.0,11.6ZM615.4,10.4L616.1,9.9L617.1,8.0L620.3,7.7L619.0,10.7L616.9,11.1L616.2,11.6ZM627.6,10.4L628.3,10.0L629.3,8.0L632.5,7.8L631.3,10.7L629.1,11.1L628.5,11.6ZM639.9,10.4L640.5,10.0L641.5,8.1L644.7,7.8L643.5,10.7L641.4,11.1L640.7,11.6ZM224.1,23.4L225.7,24.1L228.0,24.1L229.9,26.8L226.6,27.1L225.1,25.4L223.5,24.7ZM236.3,23.4L238.6,24.5L240.9,24.5L242.9,27.2L239.6,27.5L238.1,25.7L235.8,24.7ZM248.6,23.5L251.3,24.8L253.6,24.8L255.6,27.4L252.3,27.7L250.8,25.9L248.0,24.6ZM492.9,23.5L495.2,22.0L496.4,20.0L499.8,19.8L498.2,22.8L496.0,23.2L493.7,24.6ZM505.2,23.5L507.1,22.2L508.4,20.3L511.7,20.1L510.2,23.0L507.9,23.4L505.9,24.6ZM517.4,23.5L519.1,22.4L520.3,20.4L523.7,20.3L522.1,23.2L519.8,23.6L518.2,24.6ZM529.7,23.5L531.1,22.5L532.3,20.6L535.7,20.4L534.1,23.4L531.8,23.7L530.4,24.6ZM541.9,23.5L543.1,22.7L544.4,20.7L547.7,20.5L546.2,23.5L543.9,23.9L542.7,24.6ZM554.2,23.5L555.2,22.8L556.4,20.9L559.8,20.7L558.2,23.6L556.0,24.0L554.9,24.6ZM566.4,23.5L567.3,22.9L568.5,21.0L571.9,20.8L570.3,23.7L568.1,24.1L567.2,24.6ZM578.7,23.5L579.4,23.0L580.7,21.0L584.0,20.8L582.5,23.8L580.2,24.2L579.4,24.6ZM590.9,23.5L591.6,23.0L592.8,21.1L596.1,20.9L594.6,23.8L592.4,24.2L591.7,24.6ZM603.2,23.5L603.9,23.0L605.1,21.1L608.3,21.0L606.8,23.9L604.6,24.2L603.9,24.6ZM615.4,23.5L616.1,23.0L617.3,21.1L620.5,21.0L619.1,23.9L616.9,24.2L616.2,24.6ZM627.7,23.5L628.4,23.0L629.5,21.2L632.6,21.1L631.3,23.9L629.1,24.2L628.4,24.6ZM639.9,23.5L640.6,23.0L641.7,21.2L644.8,21.1L643.5,23.9L641.4,24.2L640.7,24.6ZM492.9,36.5L495.2,35.0L496.5,33.1L499.8,32.9L498.2,35.9L496.0,36.2L493.7,37.7ZM505.2,36.5L507.1,35.2L508.4,33.3L511.7,33.1L510.2,36.1L507.9,36.4L505.9,37.7ZM517.4,36.5L519.1,35.4L520.3,33.5L523.7,33.3L522.1,36.3L519.8,36.6L518.2,37.7ZM529.7,36.5L531.1,35.6L532.3,33.7L535.7,33.5L534.1,36.4L531.8,36.8L530.4,37.7ZM541.9,36.5L543.1,35.7L544.4,33.8L547.7,33.6L546.2,36.6L543.9,36.9L542.7,37.7ZM554.2,36.5L555.2,35.8L556.4,33.9L559.8,33.7L558.2,36.7L556.0,37.0L554.9,37.7ZM566.4,36.5L567.3,35.9L568.5,34.0L571.9,33.8L570.3,36.8L568.1,37.1L567.2,37.7ZM578.7,36.5L579.4,36.0L580.7,34.1L584.0,33.9L582.5,36.9L580.2,37.2L579.4,37.7ZM590.9,36.5L591.6,36.0L592.8,34.1L596.1,34.0L594.6,36.9L592.4,37.2L591.7,37.7ZM603.2,36.5L603.9,36.1L605.1,34.2L608.3,34.0L606.8,36.9L604.6,37.2L603.9,37.7ZM615.4,36.5L616.1,36.1L617.3,34.2L620.5,34.1L619.1,37.0L616.9,37.2L616.2,37.7ZM627.7,36.5L628.4,36.1L629.5,34.2L632.6,34.1L631.3,37.0L629.1,37.2L628.4,37.7ZM639.9,36.5L640.6,36.1L641.7,34.2L644.8,34.2L643.5,37.0L641.4,37.2L640.7,37.7ZM492.9,49.6L495.2,48.1L496.5,46.1L499.8,45.9L498.2,48.9L496.0,49.3L493.7,50.7ZM505.2,49.6L507.1,48.3L508.4,46.4L511.7,46.2L510.2,49.1L507.9,49.5L505.9,50.7ZM517.4,49.6L519.1,48.5L520.3,46.5L523.7,46.4L522.1,49.3L519.8,49.7L518.2,50.7ZM529.7,49.6L531.1,48.6L532.3,46.7L535.7,46.5L534.1,49.5L531.8,49.8L530.4,50.7ZM541.9,49.6L543.1,48.8L544.4,46.8L547.7,46.6L546.2,49.6L543.9,50.0L542.7,50.7ZM554.2,49.6L555.2,48.9L556.4,47.0L559.8,46.8L558.2,49.7L556.0,50.1L554.9,50.7ZM566.4,49.6L567.3,49.0L568.5,47.1L571.9,46.9L570.3,49.8L568.1,50.2L567.2,50.7ZM578.7,49.6L579.4,49.1L580.7,47.1L584.0,46.9L582.5,49.9L580.2,50.3L579.4,50.7ZM590.9,49.6L591.6,49.1L592.8,47.2L596.1,47.0L594.6,49.9L592.4,50.3L591.7,50.7ZM603.2,49.6L603.9,49.1L605.1,47.2L608.3,47.1L606.8,50.0L604.6,50.3L603.9,50.7ZM615.4,49.6L616.1,49.1L617.3,47.2L620.5,47.1L619.1,50.0L616.9,50.3L616.2,50.7ZM627.7,49.6L628.4,49.1L629.5,47.3L632.6,47.2L631.3,50.0L629.1,50.3L628.4,50.7ZM639.9,49.6L640.6,49.1L641.7,47.3L644.8,47.2L643.5,50.0L641.4,50.3L640.7,50.7ZM492.9,62.6L495.2,61.1L496.5,59.2L499.8,59.0L498.2,62.0L496.0,62.3L493.7,63.8ZM505.2,62.6L507.1,61.3L508.4,59.4L511.7,59.2L510.2,62.2L507.9,62.5L505.9,63.8ZM517.4,62.6L519.1,61.5L520.3,59.6L523.7,59.4L522.1,62.4L519.8,62.7L518.2,63.8ZM529.7,62.6L531.1,61.7L532.3,59.8L535.7,59.6L534.1,62.5L531.8,62.9L530.4,63.8ZM541.9,62.6L543.1,61.8L544.4,59.9L547.7,59.7L546.2,62.7L543.9,63.0L542.7,63.8ZM554.2,62.6L555.2,61.9L556.4,60.0L559.8,59.8L558.2,62.8L556.0,63.1L554.9,63.8ZM566.4,62.6L567.3,62.0L568.5,60.1L571.9,59.9L570.3,62.9L568.1,63.2L567.2,63.8ZM578.7,62.6L579.4,62.1L580.7,60.2L584.0,60.0L582.5,63.0L580.2,63.3L579.4,63.8ZM590.9,62.6L591.6,62.1L592.8,60.2L596.1,60.1L594.6,63.0L592.4,63.3L591.7,63.8ZM603.2,62.6L603.9,62.2L605.1,60.3L608.3,60.1L606.8,63.0L604.6,63.3L603.9,63.8ZM615.4,62.6L616.1,62.2L617.3,60.3L620.5,60.2L619.1,63.1L616.9,63.3L616.2,63.8ZM627.7,62.6L628.4,62.2L629.5,60.3L632.6,60.2L631.3,63.1L629.1,63.3L628.4,63.8ZM639.9,62.6L640.6,62.2L641.7,60.3L644.8,60.3L643.5,63.1L641.4,63.3L640.7,63.8ZM492.9,75.7L495.2,74.2L496.5,72.2L499.8,72.0L498.3,75.0L496.0,75.3L493.7,76.8ZM505.2,75.7L507.1,74.4L508.4,72.5L511.7,72.3L510.2,75.2L507.9,75.6L505.9,76.8ZM517.4,75.7L519.1,74.6L520.3,72.6L523.7,72.5L522.1,75.4L519.8,75.8L518.2,76.8ZM529.7,75.7L531.1,74.7L532.3,72.8L535.7,72.6L534.1,75.6L531.8,75.9L530.4,76.8ZM541.9,75.7L543.1,74.9L544.4,72.9L547.7,72.7L546.2,75.7L543.9,76.1L542.7,76.8ZM554.2,75.7L555.2,75.0L556.4,73.1L559.8,72.9L558.2,75.8L556.0,76.2L554.9,76.8ZM566.4,75.7L567.3,75.1L568.5,73.2L571.9,73.0L570.3,75.9L568.1,76.3L567.2,76.8ZM578.7,75.7L579.4,75.2L580.7,73.2L584.0,73.0L582.5,76.0L580.2,76.4L579.4,76.8ZM590.9,75.7L591.6,75.2L592.8,73.3L596.1,73.1L594.6,76.0L592.4,76.4L591.7,76.8ZM603.2,75.7L603.9,75.2L605.1,73.3L608.3,73.2L606.8,76.1L604.6,76.4L603.9,76.8ZM615.4,75.7L616.1,75.2L617.3,73.3L620.5,73.2L619.1,76.1L616.9,76.4L616.2,76.8ZM627.7,75.7L628.4,75.2L629.5,73.4L632.6,73.3L631.3,76.1L629.1,76.4L628.4,76.8ZM639.9,75.7L640.6,75.2L641.7,73.4L644.8,73.3L643.5,76.1L641.4,76.4L640.7,76.8ZM480.7,88.7L482.7,87.6L484.1,85.7L487.4,85.7L485.7,88.6L483.4,88.8L481.4,89.9ZM492.9,88.7L495.2,87.3L496.5,85.3L499.9,85.2L498.3,88.1L496.0,88.4L493.7,89.9ZM505.2,88.7L507.1,87.5L508.4,85.5L511.7,85.3L510.2,88.3L507.9,88.6L505.9,89.9ZM517.4,88.7L519.1,87.6L520.3,85.7L523.7,85.5L522.1,88.5L519.8,88.8L518.2,89.9ZM529.7,88.7L531.1,87.8L532.3,85.9L535.7,85.7L534.1,88.6L531.8,89.0L530.4,89.9ZM541.9,88.7L543.1,87.9L544.4,86.0L547.7,85.8L546.2,88.8L543.9,89.1L542.7,89.9ZM554.2,88.7L555.2,88.0L556.4,86.1L559.8,85.9L558.2,88.9L556.0,89.2L554.9,89.9ZM566.4,88.7L567.3,88.1L568.5,86.2L571.9,86.0L570.3,89.0L568.1,89.3L567.2,89.9ZM578.7,88.7L579.4,88.2L580.7,86.3L584.0,86.1L582.5,89.1L580.2,89.4L579.4,89.9ZM590.9,88.7L591.6,88.2L592.8,86.3L596.1,86.2L594.6,89.1L592.4,89.4L591.7,89.9ZM603.2,88.7L603.9,88.3L605.1,86.4L608.3,86.2L606.8,89.1L604.6,89.4L603.9,89.9ZM615.4,88.7L616.1,88.3L617.3,86.4L620.5,86.3L619.1,89.2L616.9,89.4L616.2,89.9ZM627.7,88.7L628.4,88.3L629.5,86.4L632.6,86.3L631.3,89.2L629.1,89.4L628.4,89.9ZM639.9,88.7L640.6,88.3L641.7,86.4L644.8,86.4L643.5,89.2L641.4,89.4L640.7,89.9ZM517.4,101.8L519.1,100.7L520.4,98.8L523.8,98.7L522.1,101.7L519.9,101.9L518.2,102.9ZM529.7,101.8L531.1,100.9L532.4,98.9L535.7,98.8L534.1,101.7L531.8,102.0L530.4,102.9ZM541.9,101.8L543.1,101.0L544.4,99.0L547.7,98.9L546.2,101.8L543.9,102.2L542.7,102.9ZM554.2,101.8L555.2,101.1L556.4,99.2L559.8,99.0L558.2,101.9L556.0,102.3L554.9,102.9ZM566.4,101.8L567.3,101.2L568.5,99.3L571.9,99.1L570.3,102.0L568.1,102.4L567.2,102.9ZM578.7,101.8L579.4,101.3L580.7,99.3L584.0,99.1L582.5,102.1L580.2,102.5L579.4,102.9ZM590.9,101.8L591.6,101.3L592.8,99.4L596.1,99.2L594.6,102.1L592.4,102.5L591.7,102.9ZM603.2,101.8L603.9,101.3L605.1,99.4L608.3,99.3L606.8,102.2L604.6,102.5L603.9,102.9ZM615.4,101.8L616.1,101.3L617.3,99.4L620.5,99.3L619.1,102.2L616.9,102.5L616.2,102.9ZM627.7,101.8L628.4,101.3L629.5,99.5L632.6,99.4L631.3,102.2L629.1,102.5L628.4,102.9ZM639.9,101.8L640.6,101.3L641.7,99.5L644.8,99.4L643.5,102.2L641.4,102.5L640.7,102.9ZM554.2,114.8L555.2,114.2L556.5,112.3L559.8,112.1L558.2,115.1L556.0,115.4L554.9,116.0ZM566.4,114.8L567.3,114.3L568.6,112.3L571.9,112.1L570.3,115.1L568.1,115.4L567.2,116.0ZM578.7,114.8L579.4,114.3L580.7,112.4L584.0,112.2L582.5,115.2L580.2,115.5L579.4,116.0ZM590.9,114.8L591.6,114.3L592.8,112.4L596.1,112.3L594.6,115.2L592.4,115.5L591.7,116.0ZM603.2,114.8L603.9,114.4L605.1,112.5L608.3,112.3L606.8,115.2L604.6,115.5L603.9,116.0ZM615.4,114.8L616.1,114.4L617.3,112.5L620.5,112.4L619.1,115.3L616.9,115.5L616.2,116.0ZM627.7,114.8L628.4,114.4L629.5,112.5L632.6,112.4L631.3,115.3L629.1,115.5L628.4,116.0ZM639.9,114.8L640.6,114.4L641.7,112.5L644.8,112.5L643.5,115.3L641.4,115.5L640.7,116.0ZM590.9,127.9L591.7,127.4L592.9,125.5L596.2,125.4L594.6,128.3L592.4,128.6L591.7,129.0ZM603.2,127.9L603.9,127.4L605.1,125.5L608.3,125.4L606.8,128.3L604.6,128.6L603.9,129.0ZM615.4,127.9L616.1,127.4L617.3,125.5L620.5,125.4L619.1,128.3L616.9,128.6L616.2,129.0ZM627.7,127.9L628.4,127.4L629.5,125.6L632.6,125.5L631.3,128.3L629.1,128.6L628.4,129.0ZM639.9,127.9L640.6,127.4L641.7,125.6L644.8,125.5L643.5,128.3L641.4,128.6L640.7,129.0ZM51.9,143.7L52.6,143.2L53.8,141.3L57.1,141.1L55.7,144.1L53.4,144.4L52.7,144.9ZM64.2,143.7L64.9,143.2L66.1,141.3L69.4,141.1L67.9,144.1L65.7,144.4L64.9,144.9ZM76.4,143.7L77.2,143.2L78.4,141.3L81.7,141.1L80.2,144.1L77.9,144.4L77.2,144.8ZM88.7,143.6L89.4,143.2L90.7,141.3L94.0,141.2L92.4,144.1L90.2,144.4L89.4,144.8ZM100.9,143.6L101.7,143.1L103.0,141.3L106.3,141.2L104.7,144.1L102.4,144.3L101.7,144.8ZM113.2,143.6L113.9,143.1L115.3,141.3L118.6,141.2L116.9,144.1L114.7,144.3L113.9,144.8ZM125.5,143.5L126.2,143.1L127.6,141.2L130.9,141.3L129.2,144.1L126.9,144.3L126.1,144.7ZM137.8,143.3L138.5,142.9L140.0,141.2L143.3,141.5L141.4,144.2L139.1,144.2L138.3,144.6ZM150.0,143.1L150.9,142.8L152.4,141.2L155.7,141.6L153.6,144.2L151.4,144.1L150.6,144.4ZM162.3,142.9L163.2,142.7L164.8,141.1L168.1,141.8L165.9,144.3L163.6,144.0L162.8,144.3ZM627.7,140.9L628.4,140.5L629.5,138.6L632.7,138.6L631.3,141.4L629.1,141.7L628.4,142.1ZM639.9,140.9L640.6,140.5L641.7,138.6L644.8,138.6L643.5,141.4L641.4,141.7L640.7,142.1ZM51.9,156.8L52.6,156.3L53.8,154.4L57.1,154.1L55.7,157.1L53.4,157.5L52.7,157.9ZM64.2,156.7L64.9,156.3L66.1,154.3L69.4,154.2L67.9,157.1L65.7,157.4L64.9,157.9ZM76.4,156.7L77.2,156.2L78.4,154.3L81.7,154.2L80.2,157.1L77.9,157.4L77.2,157.9ZM88.7,156.7L89.4,156.2L90.7,154.3L94.0,154.2L92.4,157.1L90.2,157.4L89.4,157.9ZM100.9,156.6L101.7,156.2L103.0,154.3L106.3,154.3L104.7,157.1L102.4,157.4L101.7,157.8ZM113.2,156.6L113.9,156.2L115.3,154.3L118.6,154.3L116.9,157.2L114.7,157.4L113.9,157.8ZM125.5,156.5L126.2,156.1L127.6,154.3L130.9,154.4L129.2,157.2L126.9,157.3L126.1,157.8ZM137.8,156.3L138.5,156.0L140.0,154.2L143.3,154.5L141.4,157.2L139.1,157.2L138.3,157.6ZM150.0,156.2L150.9,155.8L152.4,154.2L155.7,154.7L153.6,157.3L151.4,157.1L150.6,157.5ZM162.3,156.0L163.2,155.7L164.8,154.2L168.1,154.8L165.9,157.3L163.6,157.0L162.8,157.3ZM174.6,155.8L175.5,155.6L177.2,154.1L180.4,155.0L178.1,157.3L175.8,156.9L175.0,157.2ZM186.9,155.6L187.8,155.5L189.6,154.1L192.7,155.2L190.3,157.4L188.0,156.8L187.2,157.0ZM199.2,155.4L200.1,155.3L202.0,154.1L205.0,155.4L202.4,157.4L200.3,156.7L199.4,156.8ZM211.5,155.3L212.4,155.2L214.3,154.1L217.3,155.5L214.6,157.4L212.5,156.6L211.6,156.7ZM223.8,155.2L224.6,155.1L226.7,154.1L229.6,155.6L226.8,157.4L224.7,156.5L223.8,156.6ZM236.1,155.0L236.9,155.0L239.0,154.1L241.8,155.8L239.0,157.4L236.9,156.4L236.0,156.4ZM248.3,154.9L249.2,155.0L251.3,154.1L254.1,155.9L251.2,157.4L249.1,156.3L248.3,156.3ZM51.9,169.8L52.6,169.3L53.8,167.4L57.1,167.2L55.7,170.2L53.4,170.5L52.7,171.0ZM64.2,169.8L64.9,169.3L66.1,167.4L69.4,167.2L67.9,170.2L65.7,170.5L64.9,171.0ZM76.4,169.8L77.2,169.3L78.4,167.4L81.7,167.2L80.2,170.2L77.9,170.5L77.2,170.9ZM88.7,169.7L89.4,169.3L90.7,167.4L94.0,167.3L92.4,170.2L90.2,170.5L89.4,170.9ZM100.9,169.7L101.7,169.2L103.0,167.4L106.3,167.3L104.7,170.2L102.4,170.4L101.7,170.9ZM113.2,169.7L113.9,169.2L115.3,167.4L118.6,167.3L116.9,170.2L114.7,170.4L113.9,170.9ZM125.5,169.6L126.2,169.2L127.6,167.3L130.9,167.4L129.2,170.2L126.9,170.4L126.1,170.8ZM137.8,169.4L138.5,169.0L140.0,167.3L143.3,167.6L141.4,170.3L139.1,170.3L138.3,170.7ZM150.0,169.2L150.9,168.9L152.4,167.3L155.7,167.7L153.6,170.3L151.4,170.2L150.6,170.5ZM162.3,169.0L163.2,168.8L164.8,167.2L168.1,167.9L165.9,170.4L163.6,170.1L162.8,170.4ZM174.6,168.9L175.5,168.6L177.2,167.2L180.4,168.1L178.1,170.4L175.8,170.0L175.0,170.2ZM186.9,168.7L187.8,168.5L189.6,167.2L192.7,168.2L190.3,170.4L188.0,169.9L187.2,170.0ZM199.2,168.5L200.1,168.4L202.0,167.2L205.0,168.4L202.4,170.4L200.3,169.8L199.4,169.9ZM211.5,168.4L212.4,168.3L214.3,167.2L217.3,168.5L214.6,170.4L212.5,169.7L211.6,169.8ZM223.8,168.2L224.6,168.2L226.7,167.1L229.6,168.7L226.8,170.4L224.7,169.6L223.8,169.6ZM236.1,168.1L236.9,168.1L239.0,167.2L241.8,168.8L239.0,170.5L236.9,169.5L236.0,169.5ZM248.3,168.0L249.2,168.0L251.3,167.2L254.1,168.9L251.2,170.5L249.1,169.4L248.3,169.4ZM260.6,167.8L261.5,167.9L263.6,167.2L266.3,169.1L263.3,170.4L261.3,169.3L260.5,169.2ZM272.9,167.7L273.8,167.8L275.9,167.2L278.5,169.2L275.5,170.4L273.6,169.2L272.7,169.1ZM285.2,167.6L286.0,167.7L288.2,167.2L290.8,169.3L287.6,170.4L285.8,169.1L284.9,169.0ZM297.5,167.5L298.3,167.7L300.5,167.2L302.9,169.5L299.8,170.4L298.0,169.0L297.1,168.8ZM309.7,167.3L310.6,167.6L312.8,167.2L315.1,169.6L311.9,170.4L310.2,168.9L309.4,168.7ZM51.9,182.9L52.6,182.4L53.8,180.5L57.1,180.2L55.7,183.2L53.4,183.6L52.7,184.0ZM64.2,182.8L64.9,182.4L66.1,180.4L69.4,180.3L67.9,183.2L65.7,183.5L64.9,184.0ZM76.4,182.8L77.2,182.3L78.4,180.4L81.7,180.3L80.2,183.2L77.9,183.5L77.2,184.0ZM88.7,182.8L89.4,182.3L90.7,180.4L94.0,180.3L92.4,183.2L90.2,183.5L89.4,184.0ZM100.9,182.7L101.7,182.3L103.0,180.4L106.3,180.4L104.7,183.2L102.4,183.5L101.7,183.9ZM113.2,182.7L113.9,182.3L115.3,180.4L118.6,180.4L116.9,183.3L114.7,183.5L113.9,183.9ZM125.5,182.6L126.2,182.2L127.6,180.4L130.9,180.5L129.2,183.3L126.9,183.4L126.1,183.9ZM137.8,182.4L138.5,182.1L140.0,180.3L143.3,180.6L141.4,183.3L139.1,183.3L138.3,183.7ZM150.0,182.3L150.9,181.9L152.4,180.3L155.7,180.8L153.6,183.4L151.4,183.2L150.6,183.6ZM162.3,182.1L163.2,181.8L164.8,180.3L168.1,180.9L165.9,183.4L163.6,183.1L162.8,183.4ZM174.6,181.9L175.5,181.7L177.2,180.2L180.4,181.1L178.1,183.4L175.8,183.0L175.0,183.3ZM186.9,181.7L187.8,181.6L189.6,180.2L192.7,181.3L190.3,183.5L188.0,182.9L187.2,183.1ZM199.2,181.5L200.1,181.4L202.0,180.2L205.0,181.5L202.4,183.5L200.3,182.8L199.4,182.9ZM211.5,181.4L212.4,181.3L214.3,180.2L217.3,181.6L214.6,183.5L212.5,182.7L211.6,182.8ZM223.8,181.3L224.6,181.2L226.7,180.2L229.6,181.7L226.8,183.5L224.7,182.6L223.8,182.7ZM236.1,181.1L236.9,181.1L239.0,180.2L241.8,181.9L239.0,183.5L236.9,182.5L236.0,182.5ZM248.3,181.0L249.2,181.1L251.3,180.2L254.1,182.0L251.2,183.5L249.1,182.4L248.3,182.4ZM260.6,180.9L261.5,181.0L263.6,180.2L266.3,182.1L263.3,183.5L261.3,182.4L260.5,182.3ZM272.9,180.8L273.8,180.9L275.9,180.2L278.5,182.3L275.5,183.5L273.6,182.3L272.7,182.1ZM285.2,180.6L286.0,180.8L288.2,180.2L290.8,182.4L287.6,183.5L285.8,182.2L284.9,182.0ZM297.5,180.5L298.3,180.7L300.5,180.3L302.9,182.5L299.8,183.5L298.0,182.1L297.1,181.9ZM309.7,180.4L310.6,180.6L312.8,180.3L315.1,182.6L311.9,183.4L310.2,182.0L309.4,181.7ZM322.0,180.3L322.8,180.6L325.1,180.3L327.3,182.8L324.1,183.4L322.4,181.9L321.6,181.6ZM334.3,180.3L335.1,180.5L337.4,180.3L339.5,182.8L336.3,183.4L334.7,181.9L333.8,181.6ZM346.5,180.2L347.4,180.5L349.6,180.3L351.8,182.8L348.5,183.4L346.9,181.9L346.1,181.6ZM358.8,180.2L359.6,180.5L361.9,180.3L364.0,182.8L360.8,183.4L359.1,181.8L358.3,181.5Z" fill="#5aee00" stroke="#1c4a00" stroke-width=".45" stroke-linejoin="round"/>
<path d="M260.8,10.4L264.4,12.2L266.8,12.2L268.7,14.9L265.4,15.1L263.9,13.3L260.3,11.6ZM273.1,10.4L276.7,12.2L279.1,12.3L281.0,15.0L277.7,15.1L276.2,13.3L272.5,11.6ZM285.3,10.5L291.0,13.4L293.3,13.6L295.1,16.3L291.8,16.4L290.4,14.5L284.8,11.5ZM359.1,10.7L363.5,17.5L365.5,18.7L365.7,22.0L362.8,20.5L362.5,18.2L358.0,11.3ZM370.5,10.5L377.6,6.6L379.0,4.7L382.3,4.7L380.5,7.5L378.2,7.6L371.1,11.5ZM394.9,10.5L402.1,5.3L403.2,3.3L406.5,2.9L405.1,5.9L402.8,6.3L395.7,11.5ZM407.2,10.5L414.0,5.5L415.2,3.5L418.4,3.1L417.0,6.1L414.8,6.5L407.9,11.5ZM419.4,10.5L425.4,6.2L426.5,4.1L429.8,3.7L428.4,6.7L426.1,7.2L420.2,11.5ZM431.7,10.5L436.7,6.9L437.8,4.8L441.1,4.4L439.7,7.4L437.4,7.9L432.4,11.5ZM443.9,10.5L448.2,7.4L449.3,5.4L452.6,5.0L451.2,8.0L448.9,8.4L444.7,11.5ZM456.2,10.5L459.8,7.9L460.9,5.9L464.2,5.5L462.8,8.5L460.5,8.9L456.9,11.5ZM468.4,10.5L471.5,8.3L472.6,6.3L475.9,5.9L474.5,8.8L472.2,9.3L469.2,11.5ZM480.7,10.5L483.3,8.6L484.4,6.6L487.7,6.2L486.3,9.2L484.0,9.6L481.4,11.5ZM260.8,23.5L264.5,25.2L266.8,25.2L268.7,27.9L265.4,28.1L263.9,26.3L260.3,24.6ZM273.1,23.5L277.0,25.4L279.4,25.5L281.3,28.2L277.9,28.3L276.5,26.5L272.5,24.6ZM285.3,23.5L292.1,27.1L294.4,27.2L296.2,29.9L292.9,30.0L291.5,28.2L284.8,24.6ZM419.5,23.5L426.4,19.0L427.7,17.0L431.0,16.8L429.4,19.7L427.1,20.0L420.1,24.6ZM431.7,23.5L437.2,20.0L438.4,18.0L441.7,17.8L440.2,20.7L437.9,21.0L432.4,24.6ZM444.0,23.5L448.4,20.6L449.7,18.7L453.0,18.4L451.4,21.3L449.1,21.7L444.6,24.6ZM456.2,23.5L460.0,21.1L461.2,19.1L464.5,18.9L462.9,21.8L460.6,22.1L456.9,24.6ZM468.5,23.5L471.6,21.5L472.9,19.5L476.2,19.3L474.6,22.2L472.3,22.5L469.1,24.6ZM480.7,23.5L483.4,21.8L484.6,19.8L487.9,19.6L486.4,22.5L484.1,22.8L481.4,24.6ZM419.5,36.6L426.7,31.9L427.9,29.9L431.2,29.7L429.7,32.6L427.4,32.9L420.1,37.6ZM431.7,36.6L437.3,33.0L438.5,31.0L441.8,30.8L440.3,33.7L438.0,34.0L432.4,37.6ZM444.0,36.6L448.5,33.6L449.7,31.7L453.0,31.4L451.5,34.4L449.2,34.7L444.6,37.6ZM456.2,36.6L460.0,34.1L461.2,32.2L464.5,31.9L462.9,34.9L460.7,35.2L456.9,37.6ZM468.5,36.6L471.6,34.5L472.9,32.6L476.2,32.3L474.6,35.2L472.3,35.6L469.1,37.6ZM480.7,36.6L483.4,34.8L484.6,32.9L487.9,32.6L486.4,35.5L484.1,35.9L481.4,37.6ZM431.7,49.6L437.4,45.9L438.7,44.0L442.0,43.7L440.4,46.6L438.1,47.0L432.4,50.7ZM444.0,49.6L448.5,46.7L449.8,44.7L453.1,44.5L451.5,47.4L449.2,47.7L444.6,50.7ZM456.2,49.6L460.0,47.2L461.2,45.2L464.5,45.0L463.0,47.9L460.7,48.2L456.9,50.7ZM468.5,49.6L471.6,47.6L472.9,45.6L476.2,45.4L474.6,48.3L472.3,48.6L469.1,50.7ZM480.7,49.6L483.4,47.9L484.6,45.9L487.9,45.7L486.4,48.6L484.1,48.9L481.4,50.7ZM431.7,62.7L437.5,59.0L438.7,57.0L442.0,56.8L440.5,59.7L438.2,60.0L432.4,63.7ZM444.0,62.7L448.6,59.7L449.8,57.7L453.1,57.5L451.5,60.4L449.2,60.8L444.6,63.7ZM456.2,62.7L460.0,60.2L461.2,58.3L464.5,58.0L463.0,60.9L460.7,61.3L456.9,63.7ZM468.5,62.7L471.6,60.6L472.9,58.6L476.2,58.4L474.6,61.3L472.3,61.7L469.1,63.7ZM480.7,62.7L483.4,60.9L484.6,59.0L487.9,58.7L486.4,61.6L484.1,62.0L481.4,63.7ZM456.2,75.7L460.1,73.3L461.4,71.4L464.7,71.2L463.1,74.1L460.8,74.4L456.9,76.8ZM468.5,75.7L471.7,73.7L472.9,71.7L476.2,71.5L474.7,74.4L472.4,74.7L469.1,76.8ZM480.7,75.7L483.4,74.0L484.7,72.0L488.0,71.8L486.4,74.7L484.1,75.0L481.4,76.8Z" fill="#90e000" stroke="#2c4c00" stroke-width=".45" stroke-linejoin="round"/>
<path d="M297.7,10.5L307.3,17.3L309.6,17.8L311.0,20.7L307.7,20.4L306.6,18.4L296.9,11.5ZM310.0,10.6L323.7,25.8L325.8,26.7L326.6,30.0L323.5,28.9L322.8,26.6L309.1,11.4ZM322.3,10.7L338.6,35.3L340.6,36.5L340.9,39.8L337.9,38.2L337.6,35.9L321.3,11.3ZM334.6,10.7L349.8,40.9L351.6,42.4L351.5,45.7L348.8,43.8L348.7,41.5L333.5,11.3ZM346.9,10.8L356.2,32.7L357.9,34.3L357.5,37.6L354.9,35.5L355.0,33.2L345.7,11.2ZM382.7,10.5L390.3,5.0L391.4,3.0L394.7,2.5L393.3,5.5L391.0,6.0L383.4,11.5ZM297.7,23.6L308.6,33.8L310.8,34.5L311.9,37.7L308.6,36.9L307.8,34.7L296.9,24.5ZM310.1,23.7L325.1,45.7L327.0,46.9L327.4,50.2L324.4,48.7L324.0,46.4L309.0,24.4ZM322.4,23.8L339.3,58.8L341.1,60.2L340.9,63.5L338.2,61.6L338.2,59.3L321.2,24.3ZM334.6,23.8L349.2,66.1L350.8,67.8L350.2,71.1L347.8,68.8L348.0,66.5L333.5,24.3ZM346.9,23.9L355.1,54.0L356.6,55.8L355.8,59.0L353.5,56.6L353.9,54.3L345.7,24.2ZM359.1,23.7L365.1,32.4L367.1,33.6L367.4,36.9L364.4,35.4L364.0,33.1L358.0,24.4ZM370.6,23.5L386.3,18.2L388.0,16.6L391.2,17.2L389.0,19.6L386.7,19.4L371.0,24.6ZM382.7,23.5L395.8,15.8L397.1,13.9L400.4,13.8L398.7,16.7L396.4,16.9L383.4,24.6ZM395.0,23.5L405.1,17.1L406.4,15.1L409.7,14.9L408.1,17.8L405.8,18.1L395.6,24.6ZM407.2,23.5L415.9,17.9L417.1,16.0L420.4,15.8L418.8,18.7L416.5,19.0L407.9,24.6ZM297.8,36.7L306.2,47.0L308.3,48.0L308.8,51.3L305.8,50.0L305.2,47.8L296.8,37.5ZM310.1,36.8L320.5,57.7L322.3,59.1L322.2,62.5L319.5,60.6L319.4,58.3L309.0,37.4ZM322.4,36.9L332.9,69.1L334.5,70.8L333.9,74.0L331.5,71.8L331.7,69.5L321.2,37.3ZM370.6,36.5L388.9,29.1L390.5,27.5L393.8,27.9L391.7,30.4L389.4,30.3L371.0,37.7ZM382.7,36.6L397.4,27.8L398.7,25.9L402.0,25.8L400.3,28.6L398.0,28.9L383.4,37.6ZM395.0,36.6L406.1,29.5L407.3,27.6L410.6,27.4L409.0,30.3L406.7,30.6L395.6,37.6ZM407.2,36.6L416.4,30.7L417.6,28.7L420.9,28.5L419.3,31.4L417.0,31.7L407.9,37.6ZM382.8,49.6L399.0,42.0L400.5,40.2L403.8,40.4L401.9,43.1L399.6,43.1L383.3,50.7ZM395.0,49.6L407.5,42.0L408.8,40.1L412.1,39.9L410.5,42.8L408.2,43.1L395.6,50.7ZM407.2,49.6L417.1,43.3L418.4,41.3L421.7,41.1L420.1,44.0L417.8,44.3L407.9,50.7ZM419.5,49.6L427.1,44.7L428.3,42.7L431.6,42.5L430.1,45.4L427.8,45.7L420.1,50.7ZM407.3,62.6L417.2,57.9L418.7,56.2L422.0,56.4L420.1,59.0L417.8,59.1L407.8,63.8ZM419.5,62.7L427.3,57.9L428.6,56.0L431.9,55.8L430.3,58.7L428.0,58.9L420.1,63.7Z" fill="#bcd000" stroke="#566000" stroke-width=".45" stroke-linejoin="round"/>
<rect x="273.8" y="11.0" width="152.6" height="91.4" fill="none" stroke="#222" stroke-width="1.3"/>
<rect x="45.0" y="11.0" width="610.2" height="182.8" fill="none" stroke="#1f1f1f" stroke-width="1.6"/>
<path d="M45.0,11.0h-6M45.0,41.5h-6M45.0,71.9h-6M45.0,102.4h-6M45.0,132.9h-6M45.0,163.3h-6M45.0,193.8h-6M45.0,193.8v4.6M197.6,193.8v4.6M350.1,193.8v4.6M502.6,193.8v4.6M655.2,193.8v4.6" stroke="#1f1f1f" stroke-width="1.5" fill="none"/>
<text x="36.6" y="15.7" font-size="13" text-anchor="end">0</text>
<text x="36.6" y="76.6" font-size="13" text-anchor="end">20</text>
<text x="36.6" y="137.6" font-size="13" text-anchor="end">40</text>
<text x="36.6" y="198.5" font-size="13" text-anchor="end">60</text>
<text x="45.0" y="212.2" font-size="13" text-anchor="middle">0</text>
<text x="197.6" y="212.2" font-size="13" text-anchor="middle">50</text>
<text x="350.1" y="212.2" font-size="13" text-anchor="middle">100</text>
<text x="502.6" y="212.2" font-size="13" text-anchor="middle">150</text>
<text x="655.2" y="212.2" font-size="13" text-anchor="middle">200</text>
<text x="351.1" y="229.0" font-size="13" text-anchor="middle">Distance from trench [km]</text>
<text transform="translate(9.8,102.5) rotate(-90)" font-size="13" text-anchor="middle">Depth [km]</text>
<text x="-0.5" y="26.9" font-size="34" text-anchor="start">a</text>
<g filter="url(#cmap)"><g clip-path="url(#clipB)"><use href="#fld" transform="translate(-412.20,274.00) scale(6.0960,6.0933)"/></g></g>
<g clip-path="url(#clipB)" fill="none" stroke="#fff" stroke-width="3.4"><path d="M26.7,311.8C29.9,312.5 39.5,314.5 45.6,316.0C51.7,317.6 56.5,319.6 63.3,321.3C70.1,323.0 79.0,325.0 86.5,326.2C93.9,327.4 100.7,328.3 107.8,328.6C114.8,328.9 122.6,328.8 128.8,327.9C135.0,327.0 139.5,325.4 145.0,323.2C150.4,321.1 155.5,317.8 161.4,315.0C167.3,312.3 175.4,308.8 180.3,306.8C185.3,304.7 188.0,303.6 191.3,302.6C194.7,301.7 197.6,301.1 200.4,301.1C203.3,301.1 205.8,301.7 208.4,302.6C210.9,303.5 212.6,304.5 215.7,306.5C218.7,308.4 223.0,310.7 226.7,314.2C230.3,317.7 234.0,322.7 237.6,327.3C241.3,331.9 244.9,336.9 248.6,341.6C252.3,346.4 255.5,351.6 259.6,355.7C263.6,359.7 268.5,363.0 273.0,365.7C277.5,368.4 281.8,370.2 286.4,372.1C291.0,374.0 293.9,374.7 300.4,377.0C306.9,379.2 317.1,382.6 325.4,385.5C333.7,388.5 346.2,393.1 350.4,394.6"/></g>
<g clip-path="url(#clipB)"><circle cx="202.3" cy="303.5" r="1.3" fill="#e000d0"/><circle cx="208.4" cy="305.5" r="1.3" fill="#7000c0"/><circle cx="215.1" cy="309.4" r="1.3" fill="#ff2090"/><circle cx="221.2" cy="313.7" r="1.3" fill="#00e0a0"/><circle cx="226.7" cy="318.7" r="1.3" fill="#ffe000"/><circle cx="231.6" cy="324.5" r="1.3" fill="#c000e0"/><circle cx="237.1" cy="331.3" r="1.3" fill="#2020c0"/><circle cx="242.5" cy="338.5" r="1.3" fill="#e000d0"/><circle cx="248.6" cy="346.4" r="1.3" fill="#7000c0"/><circle cx="254.1" cy="353.4" r="1.3" fill="#ff2090"/><circle cx="260.2" cy="359.5" r="1.3" fill="#00e0a0"/><circle cx="265.7" cy="363.6" r="1.3" fill="#ffe000"/><circle cx="54.1" cy="321.2" r="1.1" fill="#7000c0"/><circle cx="78.5" cy="327.1" r="1.1" fill="#00e0a0"/><circle cx="101.1" cy="330.4" r="1.1" fill="#c000e0"/><circle cx="112.1" cy="331.1" r="1.1" fill="#e000d0"/><circle cx="121.2" cy="330.8" r="1.1" fill="#ff2090"/><circle cx="130.3" cy="330.1" r="1.1" fill="#ffe000"/></g>
<path d="M46.5,326.4L51.8,327.6L52.0,326.9L56.4,329.2L51.4,329.5L51.5,328.8L46.3,327.6ZM59.3,326.4L64.6,327.6L64.8,326.9L69.1,329.3L64.2,329.5L64.3,328.8L59.1,327.6ZM72.1,326.4L77.4,327.6L77.6,326.9L81.9,329.4L76.9,329.6L77.1,328.9L71.9,327.6ZM46.5,339.4L51.8,340.6L52.0,339.9L56.4,342.3L51.4,342.6L51.5,341.9L46.3,340.7ZM59.3,339.4L64.6,340.7L64.8,339.9L69.1,342.4L64.2,342.6L64.3,341.9L59.1,340.7ZM72.1,339.4L77.4,340.7L77.6,340.0L81.9,342.4L76.9,342.6L77.1,341.9L71.9,340.7ZM84.9,339.4L90.2,340.7L90.4,340.0L94.7,342.5L89.7,342.7L89.9,341.9L84.7,340.7ZM97.8,339.4L103.0,340.7L103.2,340.0L107.5,342.5L102.5,342.7L102.7,342.0L97.4,340.7ZM110.6,339.4L115.8,340.7L116.0,340.0L120.3,342.5L115.3,342.7L115.5,342.0L110.2,340.7ZM123.4,339.4L128.6,340.8L128.8,340.1L133.1,342.6L128.1,342.7L128.3,342.0L123.0,340.7ZM46.5,352.5L51.8,353.7L52.0,353.0L56.4,355.3L51.4,355.6L51.5,354.9L46.3,353.7ZM59.3,352.5L64.6,353.7L64.8,353.0L69.1,355.4L64.2,355.6L64.3,354.9L59.1,353.7ZM72.1,352.5L77.4,353.7L77.6,353.0L81.9,355.5L76.9,355.7L77.1,355.0L71.9,353.7ZM84.9,352.5L90.2,353.8L90.4,353.0L94.7,355.5L89.7,355.7L89.9,355.0L84.7,353.7ZM97.8,352.5L103.0,353.8L103.2,353.1L107.5,355.5L102.5,355.7L102.7,355.0L97.4,353.7ZM110.6,352.5L115.8,353.8L116.0,353.1L120.3,355.6L115.3,355.7L115.5,355.0L110.2,353.7ZM123.4,352.5L128.6,353.8L128.8,353.1L133.1,355.6L128.1,355.8L128.3,355.0L123.0,353.7ZM136.2,352.5L141.4,353.8L141.6,353.1L145.9,355.7L140.9,355.8L141.1,355.1L135.8,353.7ZM46.5,365.5L51.8,366.7L52.0,366.0L56.4,368.4L51.4,368.7L51.5,368.0L46.3,366.8ZM59.3,365.5L64.6,366.8L64.8,366.0L69.1,368.5L64.2,368.7L64.3,368.0L59.1,366.8ZM72.1,365.5L77.4,366.8L77.6,366.1L81.9,368.5L76.9,368.7L77.1,368.0L71.9,366.8ZM84.9,365.5L90.2,366.8L90.4,366.1L94.7,368.6L89.7,368.8L89.9,368.0L84.7,366.8ZM97.8,365.5L103.0,366.8L103.2,366.1L107.5,368.6L102.5,368.8L102.7,368.1L97.4,366.8ZM110.6,365.5L115.8,366.8L116.0,366.1L120.3,368.6L115.3,368.8L115.5,368.1L110.2,366.8ZM123.4,365.5L128.6,366.9L128.8,366.2L133.1,368.7L128.1,368.8L128.3,368.1L123.0,366.8ZM136.2,365.5L141.4,366.9L141.6,366.2L145.9,368.7L140.9,368.8L141.1,368.1L135.8,366.8ZM149.0,365.5L154.2,366.9L154.4,366.2L158.7,368.7L153.7,368.8L153.9,368.1L148.6,366.8ZM264.2,365.5L269.4,367.1L269.6,366.4L273.8,369.1L268.8,369.0L269.0,368.3L263.8,366.8ZM46.5,378.6L51.8,379.8L52.0,379.1L56.4,381.4L51.4,381.7L51.5,381.0L46.3,379.8ZM59.3,378.6L64.6,379.8L64.8,379.1L69.1,381.5L64.2,381.7L64.3,381.0L59.1,379.8ZM72.1,378.6L77.4,379.8L77.6,379.1L81.9,381.6L76.9,381.8L77.1,381.1L71.9,379.8ZM84.9,378.6L90.2,379.9L90.4,379.1L94.7,381.6L89.7,381.8L89.9,381.1L84.7,379.8ZM97.8,378.6L103.0,379.9L103.2,379.2L107.5,381.6L102.5,381.8L102.7,381.1L97.4,379.8ZM110.6,378.6L115.8,379.9L116.0,379.2L120.3,381.7L115.3,381.8L115.5,381.1L110.2,379.8ZM123.4,378.6L128.6,379.9L128.8,379.2L133.1,381.7L128.1,381.9L128.3,381.1L123.0,379.8ZM136.2,378.6L141.4,379.9L141.6,379.2L145.9,381.8L140.9,381.9L141.1,381.2L135.8,379.8ZM149.0,378.6L154.2,380.0L154.4,379.3L158.7,381.8L153.7,381.9L153.9,381.2L148.6,379.8ZM161.8,378.6L167.0,380.0L167.2,379.3L171.5,381.8L166.5,381.9L166.7,381.2L161.4,379.8ZM174.6,378.6L179.8,380.0L180.0,379.3L184.2,381.9L179.3,381.9L179.4,381.2L174.2,379.8ZM238.6,378.6L243.8,380.1L244.0,379.4L248.2,382.1L243.2,382.0L243.4,381.3L238.2,379.8ZM251.4,378.6L256.6,380.1L256.8,379.4L261.0,382.1L256.0,382.1L256.2,381.4L251.0,379.8ZM264.2,378.6L269.4,380.2L269.6,379.5L273.8,382.2L268.8,382.1L269.0,381.4L263.8,379.8ZM277.0,378.6L282.1,380.2L282.4,379.5L286.5,382.2L281.6,382.1L281.8,381.4L276.6,379.8ZM289.8,378.6L294.9,380.2L295.2,379.5L299.3,382.2L294.3,382.1L294.6,381.4L289.4,379.8ZM46.5,391.6L51.8,392.8L52.0,392.1L56.4,394.5L51.4,394.8L51.5,394.1L46.3,392.9ZM59.3,391.6L64.6,392.9L64.8,392.1L69.1,394.6L64.2,394.8L64.3,394.1L59.1,392.9ZM72.1,391.6L77.4,392.9L77.6,392.2L81.9,394.6L76.9,394.8L77.1,394.1L71.9,392.9ZM84.9,391.6L90.2,392.9L90.4,392.2L94.7,394.7L89.7,394.9L89.9,394.1L84.7,392.9ZM97.8,391.6L103.0,392.9L103.2,392.2L107.5,394.7L102.5,394.9L102.7,394.2L97.4,392.9ZM110.6,391.6L115.8,392.9L116.0,392.2L120.3,394.7L115.3,394.9L115.5,394.2L110.2,392.9ZM123.4,391.6L128.6,393.0L128.8,392.3L133.1,394.8L128.1,394.9L128.3,394.2L123.0,392.9ZM136.2,391.6L141.4,393.0L141.6,392.3L145.9,394.8L140.9,394.9L141.1,394.2L135.8,392.9ZM149.0,391.6L154.2,393.0L154.4,392.3L158.7,394.8L153.7,394.9L153.9,394.2L148.6,392.9ZM161.8,391.6L167.0,393.0L167.2,392.3L171.5,394.9L166.5,395.0L166.7,394.3L161.4,392.9ZM174.6,391.6L179.8,393.0L180.0,392.3L184.2,394.9L179.3,395.0L179.4,394.3L174.2,392.9ZM187.4,391.6L192.6,393.1L192.8,392.4L197.0,394.9L192.0,395.0L192.2,394.3L187.0,392.9ZM200.2,391.6L205.4,393.1L205.6,392.4L209.8,395.0L204.8,395.0L205.0,394.3L199.8,392.9ZM213.0,391.6L218.2,393.1L218.4,392.4L222.6,395.0L217.6,395.0L217.8,394.3L212.6,392.9ZM225.8,391.6L231.0,393.1L231.2,392.4L235.4,395.1L230.4,395.1L230.6,394.4L225.4,392.9ZM238.6,391.6L243.8,393.2L244.0,392.5L248.2,395.1L243.2,395.1L243.4,394.4L238.2,392.9ZM251.4,391.6L256.6,393.2L256.8,392.5L261.0,395.2L256.0,395.1L256.2,394.4L251.0,392.9ZM264.2,391.6L269.4,393.2L269.6,392.5L273.8,395.2L268.8,395.1L269.0,394.4L263.8,392.9ZM277.0,391.6L282.1,393.2L282.4,392.5L286.5,395.3L281.6,395.1L281.8,394.4L276.6,392.9ZM289.8,391.6L294.9,393.3L295.2,392.6L299.3,395.3L294.3,395.2L294.6,394.5L289.4,392.9ZM302.6,391.6L307.7,393.3L308.0,392.6L312.1,395.3L307.1,395.2L307.4,394.5L302.2,392.9ZM315.4,391.6L320.5,393.3L320.8,392.6L324.9,395.4L319.9,395.2L320.1,394.5L315.0,392.9ZM328.2,391.6L333.3,393.3L333.6,392.6L337.7,395.4L332.7,395.2L332.9,394.5L327.8,392.9ZM46.5,404.7L51.8,405.9L52.0,405.2L56.4,407.5L51.4,407.8L51.5,407.1L46.3,405.9ZM59.3,404.7L64.6,405.9L64.8,405.2L69.1,407.6L64.2,407.8L64.3,407.1L59.1,405.9ZM72.1,404.7L77.4,405.9L77.6,405.2L81.9,407.7L76.9,407.9L77.1,407.2L71.9,405.9ZM84.9,404.7L90.2,406.0L90.4,405.2L94.7,407.7L89.7,407.9L89.9,407.2L84.7,405.9ZM97.8,404.7L103.0,406.0L103.2,405.3L107.5,407.7L102.5,407.9L102.7,407.2L97.4,405.9ZM110.6,404.7L115.8,406.0L116.0,405.3L120.3,407.8L115.3,407.9L115.5,407.2L110.2,405.9ZM123.4,404.7L128.6,406.0L128.8,405.3L133.1,407.8L128.1,408.0L128.3,407.2L123.0,405.9ZM136.2,404.7L141.4,406.0L141.6,405.3L145.9,407.9L140.9,408.0L141.1,407.3L135.8,405.9ZM149.0,404.7L154.2,406.1L154.4,405.4L158.7,407.9L153.7,408.0L153.9,407.3L148.6,405.9ZM161.8,404.7L167.0,406.1L167.2,405.4L171.5,407.9L166.5,408.0L166.7,407.3L161.4,405.9ZM174.6,404.7L179.8,406.1L180.0,405.4L184.2,408.0L179.3,408.0L179.4,407.3L174.2,405.9ZM187.4,404.7L192.6,406.1L192.8,405.4L197.0,408.0L192.0,408.0L192.2,407.3L187.0,405.9ZM200.2,404.7L205.4,406.1L205.6,405.4L209.8,408.0L204.8,408.1L205.0,407.4L199.8,405.9ZM213.0,404.7L218.2,406.2L218.4,405.5L222.6,408.1L217.6,408.1L217.8,407.4L212.6,405.9ZM225.8,404.7L231.0,406.2L231.2,405.5L235.4,408.1L230.4,408.1L230.6,407.4L225.4,405.9ZM238.6,404.7L243.8,406.2L244.0,405.5L248.2,408.2L243.2,408.1L243.4,407.4L238.2,405.9ZM251.4,404.7L256.6,406.2L256.8,405.5L261.0,408.2L256.0,408.2L256.2,407.5L251.0,405.9ZM264.2,404.7L269.4,406.3L269.6,405.6L273.8,408.3L268.8,408.2L269.0,407.5L263.8,405.9ZM277.0,404.7L282.1,406.3L282.4,405.6L286.5,408.3L281.6,408.2L281.8,407.5L276.6,405.9ZM289.8,404.7L294.9,406.3L295.2,405.6L299.3,408.3L294.3,408.2L294.6,407.5L289.4,405.9ZM302.6,404.7L307.7,406.3L308.0,405.6L312.1,408.4L307.1,408.2L307.4,407.5L302.2,405.9ZM315.4,404.7L320.5,406.4L320.8,405.7L324.9,408.4L319.9,408.3L320.1,407.6L315.0,405.9ZM328.2,404.7L333.3,406.4L333.6,405.7L337.7,408.5L332.7,408.3L332.9,407.6L327.8,405.9ZM341.0,404.7L346.1,406.4L346.4,405.7L350.5,408.5L345.5,408.3L345.7,407.6L340.6,405.9ZM46.5,417.7L51.8,418.9L52.0,418.2L56.4,420.6L51.4,420.9L51.5,420.2L46.3,419.0ZM59.3,417.7L64.6,419.0L64.8,418.2L69.1,420.7L64.2,420.9L64.3,420.2L59.1,419.0ZM72.1,417.7L77.4,419.0L77.6,418.3L81.9,420.7L76.9,420.9L77.1,420.2L71.9,419.0ZM84.9,417.7L90.2,419.0L90.4,418.3L94.7,420.8L89.7,421.0L89.9,420.2L84.7,419.0ZM97.8,417.7L103.0,419.0L103.2,418.3L107.5,420.8L102.5,421.0L102.7,420.3L97.4,419.0ZM110.6,417.7L115.8,419.0L116.0,418.3L120.3,420.8L115.3,421.0L115.5,420.3L110.2,419.0ZM123.4,417.7L128.6,419.1L128.8,418.4L133.1,420.9L128.1,421.0L128.3,420.3L123.0,419.0ZM136.2,417.7L141.4,419.1L141.6,418.4L145.9,420.9L140.9,421.0L141.1,420.3L135.8,419.0ZM149.0,417.7L154.2,419.1L154.4,418.4L158.7,420.9L153.7,421.0L153.9,420.3L148.6,419.0ZM161.8,417.7L167.0,419.1L167.2,418.4L171.5,421.0L166.5,421.1L166.7,420.4L161.4,419.0ZM174.6,417.7L179.8,419.1L180.0,418.4L184.2,421.0L179.3,421.1L179.4,420.4L174.2,419.0ZM187.4,417.7L192.6,419.2L192.8,418.5L197.0,421.0L192.0,421.1L192.2,420.4L187.0,419.0ZM200.2,417.7L205.4,419.2L205.6,418.5L209.8,421.1L204.8,421.1L205.0,420.4L199.8,419.0ZM213.0,417.7L218.2,419.2L218.4,418.5L222.6,421.1L217.6,421.1L217.8,420.4L212.6,419.0ZM225.8,417.7L231.0,419.2L231.2,418.5L235.4,421.2L230.4,421.2L230.6,420.5L225.4,419.0ZM238.6,417.7L243.8,419.3L244.0,418.6L248.2,421.2L243.2,421.2L243.4,420.5L238.2,419.0ZM251.4,417.7L256.6,419.3L256.8,418.6L261.0,421.3L256.0,421.2L256.2,420.5L251.0,419.0ZM264.2,417.7L269.4,419.3L269.6,418.6L273.8,421.3L268.8,421.2L269.0,420.5L263.8,419.0ZM277.0,417.7L282.1,419.3L282.4,418.6L286.5,421.4L281.6,421.2L281.8,420.5L276.6,419.0ZM289.8,417.7L294.9,419.4L295.2,418.7L299.3,421.4L294.3,421.3L294.6,420.6L289.4,419.0ZM302.6,417.7L307.7,419.4L308.0,418.7L312.1,421.4L307.1,421.3L307.4,420.6L302.2,419.0ZM315.4,417.7L320.5,419.4L320.8,418.7L324.9,421.5L319.9,421.3L320.1,420.6L315.0,419.0ZM328.2,417.7L333.3,419.4L333.6,418.7L337.7,421.5L332.7,421.3L332.9,420.6L327.8,419.0ZM341.0,417.7L346.1,419.5L346.4,418.8L350.5,421.6L345.5,421.4L345.7,420.7L340.6,419.0ZM46.5,430.8L51.8,432.0L52.0,431.3L56.4,433.6L51.4,433.9L51.5,433.2L46.3,432.0ZM59.3,430.8L64.6,432.0L64.8,431.3L69.1,433.7L64.2,433.9L64.3,433.2L59.1,432.0ZM72.1,430.8L77.4,432.0L77.6,431.3L81.9,433.8L76.9,434.0L77.1,433.3L71.9,432.0ZM84.9,430.8L90.2,432.1L90.4,431.3L94.7,433.8L89.7,434.0L89.9,433.3L84.7,432.0ZM97.8,430.8L103.0,432.1L103.2,431.4L107.5,433.8L102.5,434.0L102.7,433.3L97.4,432.0ZM110.6,430.8L115.8,432.1L116.0,431.4L120.3,433.9L115.3,434.0L115.5,433.3L110.2,432.0ZM123.4,430.8L128.6,432.1L128.8,431.4L133.1,433.9L128.1,434.1L128.3,433.3L123.0,432.0ZM136.2,430.8L141.4,432.1L141.6,431.4L145.9,434.0L140.9,434.1L141.1,433.4L135.8,432.0ZM149.0,430.8L154.2,432.2L154.4,431.5L158.7,434.0L153.7,434.1L153.9,433.4L148.6,432.0ZM161.8,430.8L167.0,432.2L167.2,431.5L171.5,434.0L166.5,434.1L166.7,433.4L161.4,432.0ZM174.6,430.8L179.8,432.2L180.0,431.5L184.2,434.1L179.3,434.1L179.4,433.4L174.2,432.0ZM187.4,430.8L192.6,432.2L192.8,431.5L197.0,434.1L192.0,434.1L192.2,433.4L187.0,432.0ZM200.2,430.8L205.4,432.2L205.6,431.5L209.8,434.1L204.8,434.2L205.0,433.5L199.8,432.0ZM213.0,430.8L218.2,432.3L218.4,431.6L222.6,434.2L217.6,434.2L217.8,433.5L212.6,432.0ZM225.8,430.8L231.0,432.3L231.2,431.6L235.4,434.2L230.4,434.2L230.6,433.5L225.4,432.0ZM238.6,430.8L243.8,432.3L244.0,431.6L248.2,434.3L243.2,434.2L243.4,433.5L238.2,432.0ZM251.4,430.8L256.6,432.3L256.8,431.6L261.0,434.3L256.0,434.3L256.2,433.6L251.0,432.0ZM264.2,430.8L269.4,432.4L269.6,431.7L273.8,434.4L268.8,434.3L269.0,433.6L263.8,432.0ZM277.0,430.8L282.1,432.4L282.4,431.7L286.5,434.4L281.6,434.3L281.8,433.6L276.6,432.0ZM289.8,430.8L294.9,432.4L295.2,431.7L299.3,434.4L294.3,434.3L294.6,433.6L289.4,432.0ZM302.6,430.8L307.7,432.4L308.0,431.7L312.1,434.5L307.1,434.3L307.4,433.6L302.2,432.0ZM315.4,430.8L320.5,432.5L320.8,431.8L324.9,434.5L319.9,434.4L320.1,433.7L315.0,432.0ZM328.2,430.8L333.3,432.5L333.6,431.8L337.7,434.6L332.7,434.4L332.9,433.7L327.8,432.0ZM341.0,430.8L346.1,432.5L346.4,431.8L350.5,434.6L345.5,434.4L345.7,433.7L340.6,432.0ZM46.5,443.8L51.8,445.0L52.0,444.3L56.4,446.7L51.4,447.0L51.5,446.3L46.3,445.1ZM59.3,443.8L64.6,445.1L64.8,444.3L69.1,446.8L64.2,447.0L64.3,446.3L59.1,445.1ZM72.1,443.8L77.4,445.1L77.6,444.4L81.9,446.8L76.9,447.0L77.1,446.3L71.9,445.1ZM84.9,443.8L90.2,445.1L90.4,444.4L94.7,446.9L89.7,447.1L89.9,446.3L84.7,445.1ZM97.8,443.8L103.0,445.1L103.2,444.4L107.5,446.9L102.5,447.1L102.7,446.4L97.4,445.1ZM110.6,443.8L115.8,445.1L116.0,444.4L120.3,446.9L115.3,447.1L115.5,446.4L110.2,445.1ZM123.4,443.8L128.6,445.2L128.8,444.5L133.1,447.0L128.1,447.1L128.3,446.4L123.0,445.1ZM136.2,443.8L141.4,445.2L141.6,444.5L145.9,447.0L140.9,447.1L141.1,446.4L135.8,445.1ZM149.0,443.8L154.2,445.2L154.4,444.5L158.7,447.0L153.7,447.1L153.9,446.4L148.6,445.1ZM161.8,443.8L167.0,445.2L167.2,444.5L171.5,447.1L166.5,447.2L166.7,446.5L161.4,445.1ZM174.6,443.8L179.8,445.2L180.0,444.5L184.2,447.1L179.3,447.2L179.4,446.5L174.2,445.1ZM187.4,443.8L192.6,445.3L192.8,444.6L197.0,447.1L192.0,447.2L192.2,446.5L187.0,445.1ZM200.2,443.8L205.4,445.3L205.6,444.6L209.8,447.2L204.8,447.2L205.0,446.5L199.8,445.1ZM213.0,443.8L218.2,445.3L218.4,444.6L222.6,447.2L217.6,447.2L217.8,446.5L212.6,445.1ZM225.8,443.8L231.0,445.3L231.2,444.6L235.4,447.3L230.4,447.3L230.6,446.6L225.4,445.1ZM238.6,443.8L243.8,445.4L244.0,444.7L248.2,447.3L243.2,447.3L243.4,446.6L238.2,445.1ZM251.4,443.8L256.6,445.4L256.8,444.7L261.0,447.4L256.0,447.3L256.2,446.6L251.0,445.1ZM264.2,443.8L269.4,445.4L269.6,444.7L273.8,447.4L268.8,447.3L269.0,446.6L263.8,445.1ZM277.0,443.8L282.1,445.4L282.4,444.7L286.5,447.5L281.6,447.3L281.8,446.6L276.6,445.1ZM289.8,443.8L294.9,445.5L295.2,444.8L299.3,447.5L294.3,447.4L294.6,446.7L289.4,445.1ZM302.6,443.8L307.7,445.5L308.0,444.8L312.1,447.5L307.1,447.4L307.4,446.7L302.2,445.1ZM315.4,443.8L320.5,445.5L320.8,444.8L324.9,447.6L319.9,447.4L320.1,446.7L315.0,445.1ZM328.2,443.8L333.3,445.5L333.6,444.8L337.7,447.6L332.7,447.4L332.9,446.7L327.8,445.1ZM341.0,443.8L346.1,445.6L346.4,444.9L350.5,447.7L345.5,447.5L345.7,446.8L340.6,445.1Z" fill="#e83400" stroke="#300800" stroke-width=".6" stroke-linejoin="round"/>
<path d="M149.0,326.4L154.2,327.8L154.4,327.1L158.7,329.6L153.7,329.7L153.9,329.0L148.6,327.6ZM161.8,326.4L167.0,327.8L167.2,327.1L171.5,329.6L166.5,329.7L166.7,329.0L161.4,327.6ZM136.2,339.4L141.4,340.8L141.6,340.1L145.9,342.6L140.9,342.7L141.1,342.0L135.8,340.7ZM149.0,339.4L154.2,340.8L154.4,340.1L158.7,342.6L153.7,342.7L153.9,342.0L148.6,340.7ZM161.8,339.4L167.0,340.8L167.2,340.1L171.5,342.7L166.5,342.8L166.7,342.1L161.4,340.7ZM149.0,352.5L154.2,353.9L154.4,353.2L158.7,355.7L153.7,355.8L153.9,355.1L148.6,353.7ZM161.8,352.5L167.0,353.9L167.2,353.2L171.5,355.7L166.5,355.8L166.7,355.1L161.4,353.7ZM174.6,352.5L179.8,353.9L180.0,353.2L184.2,355.8L179.3,355.8L179.4,355.1L174.2,353.7ZM161.8,365.5L167.0,366.9L167.2,366.2L171.5,368.8L166.5,368.9L166.7,368.2L161.4,366.8ZM174.6,365.5L179.8,366.9L180.0,366.2L184.2,368.8L179.3,368.9L179.4,368.2L174.2,366.8ZM187.4,365.5L192.6,367.0L192.8,366.3L197.0,368.8L192.0,368.9L192.2,368.2L187.0,366.8ZM200.2,365.5L205.4,367.0L205.6,366.3L209.8,368.9L204.8,368.9L205.0,368.2L199.8,366.8ZM251.4,365.5L256.6,367.1L256.8,366.4L261.0,369.1L256.0,369.0L256.2,368.3L251.0,366.8ZM187.4,378.6L192.6,380.0L192.8,379.3L197.0,381.9L192.0,381.9L192.2,381.2L187.0,379.8ZM200.2,378.6L205.4,380.0L205.6,379.3L209.8,381.9L204.8,382.0L205.0,381.3L199.8,379.8ZM213.0,378.6L218.2,380.1L218.4,379.4L222.6,382.0L217.6,382.0L217.8,381.3L212.6,379.8ZM225.8,378.6L231.0,380.1L231.2,379.4L235.4,382.0L230.4,382.0L230.6,381.3L225.4,379.8Z" fill="#f06800" stroke="#3a1400" stroke-width=".6" stroke-linejoin="round"/>
<path d="M174.6,313.3L179.8,314.7L180.0,314.0L184.2,316.6L179.3,316.7L179.4,316.0L174.2,314.6ZM187.4,313.3L192.6,314.8L192.8,314.1L197.0,316.6L192.0,316.7L192.2,316.0L187.0,314.6ZM200.2,313.3L205.4,314.8L205.6,314.1L209.8,316.7L204.8,316.7L205.0,316.0L199.8,314.6ZM213.0,313.3L218.2,314.8L218.4,314.1L222.6,316.7L217.6,316.7L217.8,316.0L212.6,314.6ZM174.6,326.4L179.8,327.8L180.0,327.1L184.2,329.7L179.3,329.7L179.4,329.0L174.2,327.6ZM187.4,326.4L192.6,327.8L192.8,327.1L197.0,329.7L192.0,329.7L192.2,329.0L187.0,327.6ZM200.2,326.4L205.4,327.8L205.6,327.1L209.8,329.7L204.8,329.8L205.0,329.1L199.8,327.6ZM213.0,326.4L218.2,327.9L218.4,327.2L222.6,329.8L217.6,329.8L217.8,329.1L212.6,327.6ZM225.8,326.4L231.0,327.9L231.2,327.2L235.4,329.8L230.4,329.8L230.6,329.1L225.4,327.6ZM174.6,339.4L179.8,340.8L180.0,340.1L184.2,342.7L179.3,342.8L179.4,342.1L174.2,340.7ZM187.4,339.4L192.6,340.9L192.8,340.2L197.0,342.7L192.0,342.8L192.2,342.1L187.0,340.7ZM200.2,339.4L205.4,340.9L205.6,340.2L209.8,342.8L204.8,342.8L205.0,342.1L199.8,340.7ZM213.0,339.4L218.2,340.9L218.4,340.2L222.6,342.8L217.6,342.8L217.8,342.1L212.6,340.7ZM225.8,339.4L231.0,340.9L231.2,340.2L235.4,342.9L230.4,342.9L230.6,342.2L225.4,340.7ZM238.6,339.4L243.8,341.0L244.0,340.3L248.2,342.9L243.2,342.9L243.4,342.2L238.2,340.7ZM187.4,352.5L192.6,353.9L192.8,353.2L197.0,355.8L192.0,355.8L192.2,355.1L187.0,353.7ZM200.2,352.5L205.4,353.9L205.6,353.2L209.8,355.8L204.8,355.9L205.0,355.2L199.8,353.7ZM213.0,352.5L218.2,354.0L218.4,353.3L222.6,355.9L217.6,355.9L217.8,355.2L212.6,353.7ZM225.8,352.5L231.0,354.0L231.2,353.3L235.4,355.9L230.4,355.9L230.6,355.2L225.4,353.7ZM238.6,352.5L243.8,354.0L244.0,353.3L248.2,356.0L243.2,355.9L243.4,355.2L238.2,353.7ZM251.4,352.5L256.6,354.0L256.8,353.3L261.0,356.0L256.0,356.0L256.2,355.3L251.0,353.7ZM213.0,365.5L218.2,367.0L218.4,366.3L222.6,368.9L217.6,368.9L217.8,368.2L212.6,366.8ZM225.8,365.5L231.0,367.0L231.2,366.3L235.4,369.0L230.4,369.0L230.6,368.3L225.4,366.8ZM238.6,365.5L243.8,367.1L244.0,366.4L248.2,369.0L243.2,369.0L243.4,368.3L238.2,366.8Z" fill="#f59a00" stroke="#3a2000" stroke-width=".6" stroke-linejoin="round"/>
<clipPath id="clipBg"><rect x="45.0" y="234.0" width="304.8" height="222.8"/></clipPath>
<path clip-path="url(#clipBg)" d="M45.9,275.6L46.3,275.8L47.7,275.4L48.4,277.6L46.3,278.4L45.7,277.0L45.3,276.8ZM53.9,273.4L58.2,275.6L60.5,275.7L62.4,278.4L59.1,278.5L57.6,276.7L53.4,274.6ZM66.4,273.5L72.0,276.3L74.3,276.5L76.1,279.2L72.8,279.3L71.4,277.4L65.9,274.5ZM79.0,273.5L86.3,277.8L88.6,278.1L90.2,280.9L86.9,280.8L85.6,278.9L78.4,274.5ZM91.6,273.5L101.1,280.2L103.4,280.6L104.8,283.6L101.5,283.2L100.4,281.2L90.9,274.5ZM104.2,273.5L116.0,283.9L118.2,284.6L119.3,287.7L116.1,287.0L115.1,284.8L103.3,274.5ZM116.7,273.6L130.4,288.8L132.6,289.7L133.3,292.9L130.2,291.8L129.5,289.6L115.8,274.4ZM129.3,273.6L144.7,293.7L146.8,294.8L147.3,298.1L144.2,296.7L143.7,294.5L128.3,274.4ZM141.9,273.7L158.2,298.4L160.2,299.6L160.4,302.9L157.5,301.4L157.2,299.1L140.8,274.3ZM154.4,273.7L170.4,302.2L172.3,303.6L172.3,306.9L169.5,305.1L169.3,302.8L153.3,274.3ZM167.0,273.7L182.0,304.0L183.8,305.5L183.7,308.8L181.0,306.9L180.9,304.6L165.8,274.3ZM179.5,273.7L192.1,301.7L193.9,303.2L193.6,306.5L191.0,304.5L191.0,302.2L178.4,274.3ZM192.0,273.8L200.8,294.6L202.5,296.2L202.2,299.5L199.6,297.4L199.6,295.1L190.9,274.2ZM204.6,273.8L210.1,286.5L211.8,288.0L211.5,291.3L208.9,289.3L208.9,287.0L203.4,274.2ZM217.0,273.6L221.4,279.2L223.4,280.3L223.9,283.6L220.9,282.3L220.4,280.0L216.0,274.4ZM229.0,273.4L233.8,273.4L235.9,272.4L238.8,274.0L235.9,275.6L233.8,274.6L229.1,274.6ZM241.3,273.5L248.7,268.9L250.0,266.9L253.3,266.8L251.7,269.7L249.4,269.9L241.9,274.5ZM253.7,273.5L261.6,267.9L262.7,265.9L266.0,265.5L264.6,268.5L262.3,268.9L254.5,274.5ZM266.3,273.5L273.8,268.0L274.9,266.0L278.2,265.6L276.8,268.6L274.5,269.0L267.0,274.5ZM278.8,273.5L286.1,268.2L287.2,266.2L290.5,265.8L289.1,268.8L286.8,269.2L279.5,274.5ZM291.3,273.5L298.4,268.4L299.5,266.3L302.8,265.9L301.4,268.9L299.1,269.4L292.1,274.5ZM303.9,273.5L310.8,268.5L311.9,266.4L315.2,266.0L313.8,269.0L311.5,269.5L304.6,274.5ZM316.4,273.5L323.2,268.6L324.3,266.5L327.6,266.1L326.2,269.1L323.9,269.6L317.1,274.5ZM328.9,273.5L335.2,268.9L336.4,266.9L339.6,266.5L338.2,269.5L336.0,269.9L329.7,274.5ZM341.5,273.5L347.2,269.3L348.3,267.3L351.6,266.9L350.2,269.9L347.9,270.3L342.2,274.5ZM45.9,288.6L46.4,288.8L47.8,288.5L48.6,290.7L46.4,291.5L45.7,290.1L45.3,289.9ZM53.9,286.5L58.5,288.8L60.9,288.9L62.7,291.6L59.4,291.8L58.0,289.9L53.4,287.6ZM66.4,286.5L72.6,289.7L74.9,289.9L76.8,292.6L73.4,292.7L72.0,290.8L65.9,287.6ZM79.0,286.5L87.0,292.1L89.3,292.5L90.8,295.5L87.5,295.1L86.3,293.1L78.3,287.6ZM91.6,286.6L102.2,295.1L104.4,295.7L105.7,298.8L102.4,298.2L101.4,296.1L90.8,287.5ZM104.2,286.6L117.3,299.8L119.5,300.6L120.4,303.8L117.2,302.9L116.4,300.7L103.3,287.5ZM116.8,286.7L131.9,305.9L133.9,307.0L134.5,310.2L131.4,308.9L130.9,306.7L115.8,287.4ZM129.3,286.7L146.2,312.1L148.2,313.3L148.5,316.6L145.5,315.1L145.2,312.8L128.3,287.4ZM141.9,286.7L159.5,317.9L161.4,319.3L161.5,322.6L158.6,320.8L158.5,318.5L140.8,287.4ZM154.4,286.8L171.4,322.5L173.2,324.0L173.0,327.3L170.3,325.4L170.3,323.0L153.3,287.3ZM167.0,286.8L182.7,324.6L184.4,326.2L184.1,329.5L181.5,327.4L181.6,325.1L165.8,287.3ZM179.5,286.8L192.5,321.6L194.1,323.2L193.6,326.5L191.1,324.3L191.3,322.0L178.3,287.3ZM192.0,286.8L200.9,312.6L202.5,314.2L201.9,317.5L199.4,315.3L199.7,313.0L190.9,287.3ZM204.6,286.8L211.1,301.9L212.9,303.5L212.6,306.8L209.9,304.7L210.0,302.4L203.4,287.3ZM217.0,286.7L222.5,293.5L224.6,294.6L225.1,297.8L222.1,296.6L221.5,294.3L216.0,287.4ZM229.1,286.4L237.7,287.5L239.9,286.8L242.6,288.7L239.6,289.9L237.6,288.7L229.0,287.7ZM241.4,286.5L253.9,281.6L255.5,280.0L258.8,280.4L256.6,282.9L254.3,282.8L241.8,287.6ZM253.8,286.5L265.6,280.1L267.0,278.3L270.3,278.3L268.5,281.1L266.2,281.2L254.4,287.6ZM266.3,286.5L276.7,280.3L278.0,278.3L281.4,278.2L279.7,281.1L277.4,281.3L267.0,287.6ZM278.8,286.5L288.3,280.6L289.5,278.7L292.8,278.5L291.2,281.4L288.9,281.7L279.5,287.6ZM291.4,286.5L300.1,281.0L301.3,279.0L304.6,278.8L303.0,281.7L300.7,282.0L292.0,287.6ZM303.9,286.5L312.1,281.3L313.3,279.3L316.6,279.1L315.0,282.0L312.7,282.3L304.6,287.6ZM316.4,286.5L324.2,281.5L325.5,279.5L328.8,279.3L327.2,282.2L324.9,282.5L317.1,287.6ZM329.0,286.5L336.0,281.9L337.3,280.0L340.6,279.7L339.0,282.7L336.7,283.0L329.6,287.6ZM341.5,286.5L347.8,282.4L349.0,280.5L352.3,280.2L350.8,283.2L348.5,283.5L342.2,287.6ZM45.9,301.7L46.4,301.9L47.9,301.6L48.6,303.8L46.4,304.5L45.8,303.1L45.3,302.9ZM53.9,299.5L58.7,302.0L61.1,302.0L62.9,304.8L59.6,304.9L58.2,303.1L53.4,300.7ZM66.4,299.6L73.0,303.0L75.3,303.1L77.1,305.9L73.8,305.9L72.4,304.1L65.9,300.6ZM79.1,299.6L87.2,306.1L89.4,306.7L90.7,309.7L87.4,309.2L86.4,307.1L78.3,300.6ZM91.6,299.6L102.4,309.6L104.6,310.3L105.6,313.5L102.4,312.7L101.5,310.5L90.8,300.6ZM104.2,299.7L117.5,314.9L119.6,315.9L120.3,319.1L117.2,318.0L116.5,315.7L103.3,300.5ZM116.8,299.8L131.8,321.7L133.8,322.9L134.1,326.2L131.1,324.7L130.7,322.4L115.8,300.4ZM129.3,299.8L145.9,328.6L147.7,330.0L147.8,333.3L145.0,331.5L144.8,329.2L128.3,300.4ZM141.9,299.8L158.8,335.1L160.6,336.5L160.4,339.8L157.7,337.9L157.7,335.6L140.8,300.4ZM154.4,299.9L170.3,340.0L172.0,341.6L171.6,344.9L169.0,342.8L169.2,340.5L153.3,300.3ZM167.0,299.9L181.4,342.3L183.0,343.9L182.4,347.2L179.9,345.0L180.2,342.7L165.8,300.3ZM179.5,299.9L191.1,338.7L192.6,340.4L191.9,343.7L189.5,341.4L189.9,339.1L178.3,300.3ZM192.1,299.9L199.7,328.5L201.2,330.3L200.4,333.5L198.1,331.1L198.5,328.8L190.9,300.3ZM204.6,299.9L211.7,316.2L213.4,317.7L213.1,321.0L210.5,319.0L210.6,316.7L203.4,300.3ZM217.0,299.7L223.1,307.0L225.2,308.0L225.8,311.3L222.7,310.1L222.1,307.8L216.0,300.5ZM229.1,299.5L240.0,300.3L242.2,299.5L245.0,301.3L242.0,302.6L240.0,301.5L229.0,300.7ZM241.4,299.5L257.4,293.2L259.0,291.5L262.3,291.9L260.2,294.4L257.8,294.3L241.8,300.7ZM253.8,299.6L268.4,291.6L269.8,289.7L273.1,289.8L271.3,292.5L269.0,292.7L254.4,300.6ZM266.3,299.6L278.9,292.0L280.2,290.1L283.5,290.0L281.8,292.8L279.5,293.1L267.0,300.6ZM278.8,299.6L289.8,292.7L291.1,290.7L294.4,290.6L292.8,293.5L290.5,293.7L279.5,300.6ZM291.4,299.6L301.2,293.3L302.5,291.3L305.8,291.1L304.2,294.0L301.9,294.3L292.0,300.6ZM303.9,299.6L312.9,293.8L314.2,291.8L317.5,291.6L315.9,294.5L313.6,294.8L304.6,300.6ZM316.4,299.6L324.9,294.1L326.1,292.2L329.4,291.9L327.8,294.8L325.5,295.2L317.1,300.6ZM329.0,299.6L336.5,294.7L337.8,292.7L341.1,292.5L339.5,295.4L337.2,295.7L329.6,300.6ZM341.5,299.6L348.1,295.3L349.3,293.3L352.6,293.1L351.1,296.0L348.8,296.3L342.2,300.6ZM45.9,314.7L46.4,314.9L47.9,314.6L48.6,316.8L46.4,317.6L45.7,316.2L45.3,316.0ZM53.9,312.6L58.7,315.0L61.0,315.1L62.9,317.8L59.6,317.9L58.1,316.1L53.4,313.7ZM66.4,312.6L72.9,316.0L75.2,316.1L77.0,318.9L73.7,318.9L72.3,317.1L65.9,313.7ZM79.1,312.7L86.7,319.6L88.9,320.3L89.9,323.5L86.7,322.7L85.8,320.5L78.3,313.6ZM91.7,312.7L101.6,323.2L103.7,324.1L104.6,327.3L101.4,326.3L100.7,324.1L90.8,313.6ZM104.2,312.8L116.2,328.6L118.3,329.7L118.8,333.0L115.7,331.6L115.2,329.4L103.3,313.5ZM116.8,312.8L130.1,335.4L132.0,336.7L132.1,340.0L129.2,338.3L129.0,336.0L115.7,313.5ZM129.4,312.9L143.7,342.2L145.5,343.7L145.3,347.0L142.6,345.1L142.5,342.8L128.3,313.4ZM141.9,312.9L156.2,348.6L157.9,350.2L157.5,353.5L154.9,351.4L155.0,349.0L140.8,313.4ZM154.5,313.0L167.4,353.4L168.9,355.1L168.3,358.3L165.9,356.1L166.2,353.8L153.3,313.3ZM167.0,313.0L178.3,355.5L179.8,357.2L179.0,360.5L176.7,358.1L177.1,355.8L165.8,313.3ZM228.9,312.5L248.8,307.9L250.6,306.5L253.8,307.4L251.3,309.6L249.1,309.1L229.2,313.8ZM241.3,312.6L258.8,304.6L260.3,302.8L263.6,303.0L261.7,305.7L259.3,305.7L241.8,313.7ZM253.8,312.6L268.3,304.5L269.7,302.6L273.0,302.6L271.2,305.4L268.9,305.6L254.4,313.7ZM266.3,312.6L278.7,305.1L279.9,303.2L283.3,303.1L281.6,306.0L279.3,306.2L267.0,313.7ZM278.8,312.6L289.7,305.8L290.9,303.9L294.2,303.7L292.6,306.6L290.3,306.9L279.5,313.7ZM291.4,312.6L301.1,306.4L302.4,304.4L305.7,304.2L304.1,307.1L301.8,307.4L292.0,313.7ZM303.9,312.6L312.9,306.9L314.1,304.9L317.4,304.7L315.8,307.6L313.5,307.9L304.6,313.7ZM316.4,312.6L324.8,307.2L326.0,305.2L329.3,305.0L327.8,307.9L325.5,308.2L317.1,313.7ZM329.0,312.6L336.5,307.7L337.7,305.8L341.0,305.5L339.5,308.5L337.2,308.8L329.6,313.7ZM341.5,312.6L348.1,308.4L349.3,306.4L352.6,306.2L351.0,309.1L348.7,309.4L342.2,313.7ZM91.7,325.8L100.0,335.9L102.1,336.9L102.7,340.1L99.6,338.9L99.0,336.7L90.7,326.6ZM104.3,325.9L114.0,340.7L116.0,341.9L116.2,345.2L113.3,343.7L113.0,341.4L103.2,326.5ZM116.8,325.9L127.3,346.8L129.1,348.2L128.9,351.5L126.2,349.6L126.1,347.3L115.7,326.5ZM129.4,326.0L140.3,352.8L142.0,354.4L141.6,357.7L139.0,355.6L139.1,353.3L128.2,326.4ZM241.3,325.6L259.9,317.3L261.4,315.5L264.7,315.8L262.8,318.4L260.4,318.4L241.8,326.8ZM253.8,325.7L270.4,316.3L271.8,314.5L275.1,314.4L273.3,317.3L271.0,317.4L254.4,326.7ZM266.3,325.7L280.3,317.2L281.6,315.2L284.9,315.1L283.3,318.0L281.0,318.2L267.0,326.7ZM278.8,325.7L290.9,318.1L292.2,316.1L295.5,315.9L293.9,318.8L291.6,319.1L279.5,326.7ZM291.4,325.7L302.1,318.9L303.3,316.9L306.6,316.7L305.0,319.6L302.7,319.9L292.0,326.7ZM303.9,325.7L313.6,319.5L314.8,317.5L318.1,317.3L316.5,320.2L314.2,320.5L304.6,326.7ZM316.4,325.7L325.3,319.9L326.6,318.0L329.9,317.7L328.3,320.6L326.0,321.0L317.1,326.7ZM329.0,325.7L336.9,320.5L338.1,318.6L341.4,318.4L339.8,321.3L337.5,321.6L329.6,326.7ZM341.5,325.7L348.3,321.3L349.5,319.3L352.8,319.1L351.3,322.0L349.0,322.3L342.2,326.7ZM253.8,338.7L272.3,329.8L273.8,328.0L277.1,328.2L275.2,330.9L272.8,330.9L254.4,339.8ZM266.3,338.7L282.4,329.5L283.7,327.6L287.0,327.6L285.3,330.4L283.0,330.6L266.9,339.8ZM278.8,338.7L292.4,330.4L293.7,328.5L297.0,328.3L295.4,331.2L293.1,331.5L279.5,339.8ZM291.4,338.7L303.2,331.3L304.4,329.3L307.7,329.2L306.1,332.1L303.8,332.3L292.0,339.8ZM303.9,338.7L314.4,332.0L315.6,330.1L318.9,329.9L317.3,332.8L315.0,333.1L304.6,339.8ZM316.4,338.7L325.9,332.6L327.2,330.6L330.5,330.4L328.9,333.3L326.6,333.7L317.1,339.8ZM329.0,338.7L337.3,333.3L338.5,331.4L341.8,331.1L340.3,334.0L338.0,334.4L329.6,339.8ZM341.5,338.7L348.6,334.1L349.8,332.2L353.1,331.9L351.5,334.9L349.2,335.2L342.2,339.8ZM266.4,351.7L282.3,343.7L283.8,341.8L287.1,342.0L285.2,344.7L282.9,344.8L266.9,352.9ZM278.9,351.8L292.7,343.7L294.1,341.8L297.4,341.7L295.7,344.5L293.4,344.7L279.5,352.8ZM291.4,351.8L303.4,344.4L304.6,342.4L307.9,342.3L306.3,345.2L304.0,345.4L292.0,352.8ZM303.9,351.8L314.5,345.1L315.7,343.1L319.1,342.9L317.5,345.8L315.2,346.1L304.6,352.8ZM316.4,351.8L326.0,345.6L327.2,343.7L330.6,343.5L329.0,346.4L326.7,346.7L317.1,352.8ZM329.0,351.8L337.4,346.3L338.6,344.4L341.9,344.2L340.3,347.1L338.0,347.4L329.6,352.8ZM341.5,351.8L348.6,347.2L349.8,345.2L353.1,345.0L351.6,347.9L349.3,348.2L342.2,352.8ZM278.9,364.8L291.2,359.1L292.7,357.3L296.0,357.5L294.0,360.2L291.7,360.2L279.4,365.9ZM291.4,364.8L302.7,358.4L304.0,356.5L307.3,356.5L305.6,359.3L303.3,359.5L292.0,365.9ZM303.9,364.8L314.0,358.7L315.3,356.7L318.6,356.6L316.9,359.5L314.6,359.7L304.6,365.9ZM316.4,364.8L325.6,359.0L326.9,357.1L330.2,356.9L328.6,359.8L326.3,360.1L317.1,365.9ZM329.0,364.8L337.1,359.6L338.3,357.7L341.6,357.5L340.0,360.4L337.7,360.7L329.6,365.9ZM341.5,364.8L348.4,360.4L349.6,358.4L353.0,358.2L351.4,361.1L349.1,361.4L342.2,365.9ZM304.0,377.8L313.1,374.9L314.8,373.4L318.0,374.0L315.8,376.4L313.5,376.1L304.4,379.0ZM316.5,377.9L326.3,372.7L327.7,370.9L331.1,370.9L329.2,373.7L326.9,373.8L317.0,378.9ZM329.0,377.9L337.7,372.7L339.0,370.8L342.3,370.7L340.6,373.6L338.3,373.8L329.6,378.9ZM341.5,377.9L348.8,373.4L350.0,371.4L353.3,371.3L351.7,374.1L349.4,374.4L342.1,378.9ZM341.6,390.9L348.4,388.8L350.2,387.2L353.4,387.9L351.1,390.3L348.8,390.0L342.0,392.0Z" fill="#bcd000" stroke="#566000" stroke-width=".45" stroke-linejoin="round"/>
<rect x="45.0" y="274.0" width="304.8" height="182.8" fill="none" stroke="#1f1f1f" stroke-width="1.6"/>
<path d="M45.0,274.0h-6M45.0,334.9h-6M45.0,395.9h-6M45.0,456.8h-6M45.0,456.8v4.5M106.0,456.8v4.5M166.9,456.8v4.5M227.9,456.8v4.5M288.8,456.8v4.5M349.8,456.8v4.5" stroke="#1f1f1f" stroke-width="1.5" fill="none"/>
<text x="36.6" y="278.7" font-size="13" text-anchor="end">0</text>
<text x="36.6" y="339.6" font-size="13" text-anchor="end">10</text>
<text x="36.6" y="400.6" font-size="13" text-anchor="end">20</text>
<text x="36.6" y="461.5" font-size="13" text-anchor="end">30</text>
<text x="45.0" y="475.6" font-size="13" text-anchor="middle">75</text>
<text x="349.8" y="475.6" font-size="13" text-anchor="middle">125</text>
<text x="196.0" y="479.5" font-size="13" text-anchor="middle">Distance from trench [km]</text>
<text transform="translate(9.8,365.5) rotate(-90)" font-size="13" text-anchor="middle">Depth [km]</text>
<text x="0.0" y="276.1" font-size="34" text-anchor="start">b</text>
<rect x="416.7" y="281.2" width="184.6" height="20.3" fill="url(#cb1)" stroke="#111" stroke-width="1.1"/>
<path d="M416.7,301.5v3.4M478.2,301.5v3.4M539.8,301.5v3.4M601.3,301.5v3.4" stroke="#111" stroke-width="1.1"/>
<text x="416.7" y="319.6" font-size="13" text-anchor="middle">0</text>
<text x="478.2" y="319.6" font-size="13" text-anchor="middle">1.5</text>
<text x="539.8" y="319.6" font-size="13" text-anchor="middle">3.0</text>
<text x="601.3" y="319.6" font-size="13" text-anchor="middle">4.5</text>
<text x="404" y="337.6" font-size="13">von-Mises stress change/<tspan font-family='"Liberation Serif", serif' font-style="italic" font-size="18" dx=".4">v</tspan><tspan font-family='"Liberation Serif", serif' font-style="italic" font-size="13" dy="3.4" letter-spacing=".5">pl</tspan><tspan dy="-3.4">[MPa/m]</tspan></text>
<path d="M413.5,351.4h8.3v-1.3l6,2.2l-6,2.2v-1.3h-8.3z" fill="#e0203a"/>
<path d="M475,351.4h8.3v-1.3l6,2.2l-6,2.2v-1.3h-8.3z" fill="#8cc846"/>
<text x="404" y="371.8" font-size="13"><tspan font-family='"Liberation Serif", serif' font-style="italic" font-size="18" dx=".4">v</tspan><tspan font-family='"Liberation Serif", serif' font-style="italic" font-size="13" dy="3.4" letter-spacing=".5">pl</tspan><tspan dy="-3.4">[m]</tspan></text>
<text x="459" y="371.8" font-size="13">0.1<tspan font-family='"Liberation Serif", serif' font-style="italic" font-size="18" dx=".4">v</tspan><tspan font-family='"Liberation Serif", serif' font-style="italic" font-size="13" dy="3.4" letter-spacing=".5">pl</tspan><tspan dy="-3.4"> [m]</tspan></text>
<g clip-path="url(#clipC)">
<defs><linearGradient id="kcb0" gradientUnits="userSpaceOnUse" x1="45.0" x2="462.6" y1="0" y2="0"><stop offset="0.0000" stop-color="rgb(255,54,0)"/><stop offset="0.0359" stop-color="rgb(255,86,0)"/><stop offset="0.0886" stop-color="rgb(255,114,0)"/><stop offset="0.1676" stop-color="rgb(255,134,0)"/><stop offset="0.2514" stop-color="rgb(255,156,0)"/><stop offset="0.3472" stop-color="rgb(255,174,0)"/><stop offset="0.4071" stop-color="rgb(255,184,0)"/><stop offset="0.4430" stop-color="rgb(255,191,0)"/><stop offset="0.4574" stop-color="rgb(255,192,0)"/><stop offset="0.4717" stop-color="rgb(255,194,0)"/><stop offset="0.4861" stop-color="rgb(255,196,0)"/><stop offset="0.5005" stop-color="rgb(255,197,0)"/><stop offset="0.5148" stop-color="rgb(255,199,0)"/><stop offset="0.5292" stop-color="rgb(255,201,0)"/><stop offset="0.5436" stop-color="rgb(255,202,0)"/><stop offset="0.5580" stop-color="rgb(255,204,0)"/><stop offset="0.5723" stop-color="rgb(255,207,0)"/><stop offset="0.5867" stop-color="rgb(255,210,0)"/><stop offset="0.6011" stop-color="rgb(255,211,0)"/><stop offset="0.6154" stop-color="rgb(255,211,0)"/><stop offset="0.6298" stop-color="rgb(255,212,0)"/><stop offset="0.6442" stop-color="rgb(255,212,0)"/><stop offset="0.6585" stop-color="rgb(255,211,0)"/><stop offset="0.6729" stop-color="rgb(255,210,0)"/><stop offset="0.6873" stop-color="rgb(255,209,0)"/><stop offset="0.7016" stop-color="rgb(255,208,0)"/><stop offset="0.7160" stop-color="rgb(255,205,0)"/><stop offset="0.7304" stop-color="rgb(255,201,0)"/><stop offset="0.7447" stop-color="rgb(255,197,0)"/><stop offset="0.7591" stop-color="rgb(255,193,0)"/><stop offset="0.7735" stop-color="rgb(255,190,0)"/><stop offset="0.7878" stop-color="rgb(255,186,0)"/><stop offset="0.8022" stop-color="rgb(255,182,0)"/><stop offset="0.8166" stop-color="rgb(255,175,0)"/><stop offset="0.8309" stop-color="rgb(255,168,0)"/><stop offset="0.8453" stop-color="rgb(255,161,0)"/><stop offset="0.8597" stop-color="rgb(255,153,0)"/><stop offset="0.8980" stop-color="rgb(255,131,0)"/><stop offset="0.9579" stop-color="rgb(255,92,0)"/><stop offset="1.0000" stop-color="rgb(255,54,0)"/></linearGradient><linearGradient id="kcb1" gradientUnits="userSpaceOnUse" x1="45.0" x2="462.6" y1="0" y2="0"><stop offset="0.0000" stop-color="rgb(255,54,0)"/><stop offset="0.0359" stop-color="rgb(255,86,0)"/><stop offset="0.0886" stop-color="rgb(255,114,0)"/><stop offset="0.1676" stop-color="rgb(255,134,0)"/><stop offset="0.2514" stop-color="rgb(255,156,0)"/><stop offset="0.3472" stop-color="rgb(255,174,0)"/><stop offset="0.4071" stop-color="rgb(255,184,0)"/><stop offset="0.4430" stop-color="rgb(255,191,0)"/><stop offset="0.4574" stop-color="rgb(255,192,0)"/><stop offset="0.4717" stop-color="rgb(255,194,0)"/><stop offset="0.4861" stop-color="rgb(255,196,0)"/><stop offset="0.5005" stop-color="rgb(255,200,0)"/><stop offset="0.5148" stop-color="rgb(255,204,0)"/><stop offset="0.5292" stop-color="rgb(255,208,0)"/><stop offset="0.5436" stop-color="rgb(255,211,0)"/><stop offset="0.5580" stop-color="rgb(255,215,0)"/><stop offset="0.5723" stop-color="rgb(255,218,0)"/><stop offset="0.5867" stop-color="rgb(255,221,0)"/><stop offset="0.6011" stop-color="rgb(255,222,0)"/><stop offset="0.6154" stop-color="rgb(255,223,0)"/><stop offset="0.6298" stop-color="rgb(255,223,0)"/><stop offset="0.6442" stop-color="rgb(255,223,0)"/><stop offset="0.6585" stop-color="rgb(255,223,0)"/><stop offset="0.6729" stop-color="rgb(255,221,0)"/><stop offset="0.6873" stop-color="rgb(255,220,0)"/><stop offset="0.7016" stop-color="rgb(255,218,0)"/><stop offset="0.7160" stop-color="rgb(255,213,0)"/><stop offset="0.7304" stop-color="rgb(255,206,0)"/><stop offset="0.7447" stop-color="rgb(255,199,0)"/><stop offset="0.7591" stop-color="rgb(255,193,0)"/><stop offset="0.7735" stop-color="rgb(255,190,0)"/><stop offset="0.7878" stop-color="rgb(255,186,0)"/><stop offset="0.8022" stop-color="rgb(255,182,0)"/><stop offset="0.8166" stop-color="rgb(255,175,0)"/><stop offset="0.8309" stop-color="rgb(255,168,0)"/><stop offset="0.8453" stop-color="rgb(255,161,0)"/><stop offset="0.8597" stop-color="rgb(255,153,0)"/><stop offset="0.8980" stop-color="rgb(255,131,0)"/><stop offset="0.9579" stop-color="rgb(255,92,0)"/><stop offset="1.0000" stop-color="rgb(255,54,0)"/></linearGradient><linearGradient id="kcb2" gradientUnits="userSpaceOnUse" x1="45.0" x2="462.6" y1="0" y2="0"><stop offset="0.0000" stop-color="rgb(255,54,0)"/><stop offset="0.0359" stop-color="rgb(255,86,0)"/><stop offset="0.0886" stop-color="rgb(255,114,0)"/><stop offset="0.1676" stop-color="rgb(255,134,0)"/><stop offset="0.2514" stop-color="rgb(255,156,0)"/><stop offset="0.3472" stop-color="rgb(255,174,0)"/><stop offset="0.4071" stop-color="rgb(255,184,0)"/><stop offset="0.4430" stop-color="rgb(255,191,0)"/><stop offset="0.4574" stop-color="rgb(255,194,0)"/><stop offset="0.4717" stop-color="rgb(255,199,0)"/><stop offset="0.4861" stop-color="rgb(255,204,0)"/><stop offset="0.5005" stop-color="rgb(255,209,0)"/><stop offset="0.5148" stop-color="rgb(255,213,0)"/><stop offset="0.5292" stop-color="rgb(255,217,0)"/><stop offset="0.5436" stop-color="rgb(255,223,0)"/><stop offset="0.5580" stop-color="rgb(255,230,0)"/><stop offset="0.5723" stop-color="rgb(255,236,0)"/><stop offset="0.5867" stop-color="rgb(255,242,0)"/><stop offset="0.6011" stop-color="rgb(255,245,0)"/><stop offset="0.6154" stop-color="rgb(255,247,0)"/><stop offset="0.6298" stop-color="rgb(255,248,0)"/><stop offset="0.6442" stop-color="rgb(255,248,0)"/><stop offset="0.6585" stop-color="rgb(255,246,0)"/><stop offset="0.6729" stop-color="rgb(255,243,0)"/><stop offset="0.6873" stop-color="rgb(255,238,0)"/><stop offset="0.7016" stop-color="rgb(255,231,0)"/><stop offset="0.7160" stop-color="rgb(255,222,0)"/><stop offset="0.7304" stop-color="rgb(255,215,0)"/><stop offset="0.7447" stop-color="rgb(255,208,0)"/><stop offset="0.7591" stop-color="rgb(255,200,0)"/><stop offset="0.7735" stop-color="rgb(255,192,0)"/><stop offset="0.7878" stop-color="rgb(255,186,0)"/><stop offset="0.8022" stop-color="rgb(255,182,0)"/><stop offset="0.8166" stop-color="rgb(255,175,0)"/><stop offset="0.8309" stop-color="rgb(255,168,0)"/><stop offset="0.8453" stop-color="rgb(255,161,0)"/><stop offset="0.8597" stop-color="rgb(255,153,0)"/><stop offset="0.8980" stop-color="rgb(255,131,0)"/><stop offset="0.9579" stop-color="rgb(255,92,0)"/><stop offset="1.0000" stop-color="rgb(255,54,0)"/></linearGradient><linearGradient id="kcb3" gradientUnits="userSpaceOnUse" x1="45.0" x2="462.6" y1="0" y2="0"><stop offset="0.0000" stop-color="rgb(255,54,0)"/><stop offset="0.0359" stop-color="rgb(255,86,0)"/><stop offset="0.0886" stop-color="rgb(255,114,0)"/><stop offset="0.1676" stop-color="rgb(255,134,0)"/><stop offset="0.2514" stop-color="rgb(255,156,0)"/><stop offset="0.3472" stop-color="rgb(255,174,0)"/><stop offset="0.4071" stop-color="rgb(255,184,0)"/><stop offset="0.4430" stop-color="rgb(255,195,0)"/><stop offset="0.4574" stop-color="rgb(255,201,0)"/><stop offset="0.4717" stop-color="rgb(255,206,0)"/><stop offset="0.4861" stop-color="rgb(255,211,0)"/><stop offset="0.5005" stop-color="rgb(255,218,0)"/><stop offset="0.5148" stop-color="rgb(255,228,0)"/><stop offset="0.5292" stop-color="rgb(255,237,0)"/><stop offset="0.5436" stop-color="rgb(255,246,0)"/><stop offset="0.5580" stop-color="rgb(255,254,0)"/><stop offset="0.5723" stop-color="rgb(238,255,0)"/><stop offset="0.5867" stop-color="rgb(221,255,0)"/><stop offset="0.6011" stop-color="rgb(208,255,0)"/><stop offset="0.6154" stop-color="rgb(200,255,0)"/><stop offset="0.6298" stop-color="rgb(195,255,0)"/><stop offset="0.6442" stop-color="rgb(196,255,0)"/><stop offset="0.6585" stop-color="rgb(203,255,0)"/><stop offset="0.6729" stop-color="rgb(217,255,0)"/><stop offset="0.6873" stop-color="rgb(237,255,0)"/><stop offset="0.7016" stop-color="rgb(255,255,0)"/><stop offset="0.7160" stop-color="rgb(255,244,0)"/><stop offset="0.7304" stop-color="rgb(255,230,0)"/><stop offset="0.7447" stop-color="rgb(255,215,0)"/><stop offset="0.7591" stop-color="rgb(255,207,0)"/><stop offset="0.7735" stop-color="rgb(255,199,0)"/><stop offset="0.7878" stop-color="rgb(255,190,0)"/><stop offset="0.8022" stop-color="rgb(255,182,0)"/><stop offset="0.8166" stop-color="rgb(255,175,0)"/><stop offset="0.8309" stop-color="rgb(255,168,0)"/><stop offset="0.8453" stop-color="rgb(255,161,0)"/><stop offset="0.8597" stop-color="rgb(255,153,0)"/><stop offset="0.8980" stop-color="rgb(255,131,0)"/><stop offset="0.9579" stop-color="rgb(255,92,0)"/><stop offset="1.0000" stop-color="rgb(255,54,0)"/></linearGradient><linearGradient id="kcb4" gradientUnits="userSpaceOnUse" x1="45.0" x2="462.6" y1="0" y2="0"><stop offset="0.0000" stop-color="rgb(255,54,0)"/><stop offset="0.0359" stop-color="rgb(255,86,0)"/><stop offset="0.0886" stop-color="rgb(255,114,0)"/><stop offset="0.1676" stop-color="rgb(255,134,0)"/><stop offset="0.2514" stop-color="rgb(255,156,0)"/><stop offset="0.3472" stop-color="rgb(255,174,0)"/><stop offset="0.4071" stop-color="rgb(255,184,0)"/><stop offset="0.4430" stop-color="rgb(255,200,0)"/><stop offset="0.4574" stop-color="rgb(255,206,0)"/><stop offset="0.4717" stop-color="rgb(255,212,0)"/><stop offset="0.4861" stop-color="rgb(255,222,0)"/><stop offset="0.5005" stop-color="rgb(255,234,0)"/><stop offset="0.5148" stop-color="rgb(255,245,0)"/><stop offset="0.5292" stop-color="rgb(245,255,0)"/><stop offset="0.5436" stop-color="rgb(216,255,0)"/><stop offset="0.5580" stop-color="rgb(188,255,0)"/><stop offset="0.5723" stop-color="rgb(164,255,0)"/><stop offset="0.5867" stop-color="rgb(147,255,0)"/><stop offset="0.6011" stop-color="rgb(134,255,0)"/><stop offset="0.6154" stop-color="rgb(126,255,0)"/><stop offset="0.6298" stop-color="rgb(123,255,0)"/><stop offset="0.6442" stop-color="rgb(123,255,0)"/><stop offset="0.6585" stop-color="rgb(129,255,0)"/><stop offset="0.6729" stop-color="rgb(143,255,0)"/><stop offset="0.6873" stop-color="rgb(163,255,0)"/><stop offset="0.7016" stop-color="rgb(195,255,0)"/><stop offset="0.7160" stop-color="rgb(232,255,0)"/><stop offset="0.7304" stop-color="rgb(255,247,0)"/><stop offset="0.7447" stop-color="rgb(255,231,0)"/><stop offset="0.7591" stop-color="rgb(255,215,0)"/><stop offset="0.7735" stop-color="rgb(255,204,0)"/><stop offset="0.7878" stop-color="rgb(255,195,0)"/><stop offset="0.8022" stop-color="rgb(255,186,0)"/><stop offset="0.8166" stop-color="rgb(255,175,0)"/><stop offset="0.8309" stop-color="rgb(255,168,0)"/><stop offset="0.8453" stop-color="rgb(255,161,0)"/><stop offset="0.8597" stop-color="rgb(255,153,0)"/><stop offset="0.8980" stop-color="rgb(255,131,0)"/><stop offset="0.9579" stop-color="rgb(255,92,0)"/><stop offset="1.0000" stop-color="rgb(255,54,0)"/></linearGradient><linearGradient id="kcb5" gradientUnits="userSpaceOnUse" x1="45.0" x2="462.6" y1="0" y2="0"><stop offset="0.0000" stop-color="rgb(255,54,0)"/><stop offset="0.0359" stop-color="rgb(255,86,0)"/><stop offset="0.0886" stop-color="rgb(255,114,0)"/><stop offset="0.1676" stop-color="rgb(255,134,0)"/><stop offset="0.2514" stop-color="rgb(255,156,0)"/><stop offset="0.3472" stop-color="rgb(255,174,0)"/><stop offset="0.4071" stop-color="rgb(255,186,0)"/><stop offset="0.4430" stop-color="rgb(255,203,0)"/><stop offset="0.4574" stop-color="rgb(255,209,0)"/><stop offset="0.4717" stop-color="rgb(255,220,0)"/><stop offset="0.4861" stop-color="rgb(255,232,0)"/><stop offset="0.5005" stop-color="rgb(255,245,0)"/><stop offset="0.5148" stop-color="rgb(238,255,0)"/><stop offset="0.5292" stop-color="rgb(203,255,0)"/><stop offset="0.5436" stop-color="rgb(169,255,0)"/><stop offset="0.5580" stop-color="rgb(144,255,0)"/><stop offset="0.5723" stop-color="rgb(124,255,0)"/><stop offset="0.5867" stop-color="rgb(112,255,0)"/><stop offset="0.6011" stop-color="rgb(0,236,49)"/><stop offset="0.6154" stop-color="rgb(0,238,65)"/><stop offset="0.6298" stop-color="rgb(0,240,78)"/><stop offset="0.6442" stop-color="rgb(0,240,77)"/><stop offset="0.6585" stop-color="rgb(0,237,56)"/><stop offset="0.6729" stop-color="rgb(110,255,0)"/><stop offset="0.6873" stop-color="rgb(123,255,0)"/><stop offset="0.7016" stop-color="rgb(150,255,0)"/><stop offset="0.7160" stop-color="rgb(188,255,0)"/><stop offset="0.7304" stop-color="rgb(234,255,0)"/><stop offset="0.7447" stop-color="rgb(255,242,0)"/><stop offset="0.7591" stop-color="rgb(255,224,0)"/><stop offset="0.7735" stop-color="rgb(255,207,0)"/><stop offset="0.7878" stop-color="rgb(255,198,0)"/><stop offset="0.8022" stop-color="rgb(255,188,0)"/><stop offset="0.8166" stop-color="rgb(255,176,0)"/><stop offset="0.8309" stop-color="rgb(255,168,0)"/><stop offset="0.8453" stop-color="rgb(255,161,0)"/><stop offset="0.8597" stop-color="rgb(255,153,0)"/><stop offset="0.8980" stop-color="rgb(255,131,0)"/><stop offset="0.9579" stop-color="rgb(255,92,0)"/><stop offset="1.0000" stop-color="rgb(255,54,0)"/></linearGradient><linearGradient id="kcb6" gradientUnits="userSpaceOnUse" x1="45.0" x2="462.6" y1="0" y2="0"><stop offset="0.0000" stop-color="rgb(255,54,0)"/><stop offset="0.0359" stop-color="rgb(255,86,0)"/><stop offset="0.0886" stop-color="rgb(255,114,0)"/><stop offset="0.1676" stop-color="rgb(255,134,0)"/><stop offset="0.2514" stop-color="rgb(255,156,0)"/><stop offset="0.3472" stop-color="rgb(255,174,0)"/><stop offset="0.4071" stop-color="rgb(255,187,0)"/><stop offset="0.4430" stop-color="rgb(255,205,0)"/><stop offset="0.4574" stop-color="rgb(255,211,0)"/><stop offset="0.4717" stop-color="rgb(255,223,0)"/><stop offset="0.4861" stop-color="rgb(255,236,0)"/><stop offset="0.5005" stop-color="rgb(255,249,0)"/><stop offset="0.5148" stop-color="rgb(224,255,0)"/><stop offset="0.5292" stop-color="rgb(188,255,0)"/><stop offset="0.5436" stop-color="rgb(156,255,0)"/><stop offset="0.5580" stop-color="rgb(130,255,0)"/><stop offset="0.5723" stop-color="rgb(115,255,0)"/><stop offset="0.5867" stop-color="rgb(0,236,51)"/><stop offset="0.6011" stop-color="rgb(0,241,84)"/><stop offset="0.6154" stop-color="rgb(0,248,138)"/><stop offset="0.6298" stop-color="rgb(0,250,149)"/><stop offset="0.6442" stop-color="rgb(0,250,147)"/><stop offset="0.6585" stop-color="rgb(0,245,117)"/><stop offset="0.6729" stop-color="rgb(0,237,57)"/><stop offset="0.6873" stop-color="rgb(114,255,0)"/><stop offset="0.7016" stop-color="rgb(135,255,0)"/><stop offset="0.7160" stop-color="rgb(172,255,0)"/><stop offset="0.7304" stop-color="rgb(221,255,0)"/><stop offset="0.7447" stop-color="rgb(255,246,0)"/><stop offset="0.7591" stop-color="rgb(255,228,0)"/><stop offset="0.7735" stop-color="rgb(255,210,0)"/><stop offset="0.7878" stop-color="rgb(255,199,0)"/><stop offset="0.8022" stop-color="rgb(255,189,0)"/><stop offset="0.8166" stop-color="rgb(255,177,0)"/><stop offset="0.8309" stop-color="rgb(255,168,0)"/><stop offset="0.8453" stop-color="rgb(255,161,0)"/><stop offset="0.8597" stop-color="rgb(255,153,0)"/><stop offset="0.8980" stop-color="rgb(255,131,0)"/><stop offset="0.9579" stop-color="rgb(255,92,0)"/><stop offset="1.0000" stop-color="rgb(255,54,0)"/></linearGradient><linearGradient id="kcb7" gradientUnits="userSpaceOnUse" x1="45.0" x2="462.6" y1="0" y2="0"><stop offset="0.0000" stop-color="rgb(255,54,0)"/><stop offset="0.0359" stop-color="rgb(255,86,0)"/><stop offset="0.0886" stop-color="rgb(255,114,0)"/><stop offset="0.1676" stop-color="rgb(255,134,0)"/><stop offset="0.2514" stop-color="rgb(255,156,0)"/><stop offset="0.3472" stop-color="rgb(255,174,0)"/><stop offset="0.4071" stop-color="rgb(255,186,0)"/><stop offset="0.4430" stop-color="rgb(255,203,0)"/><stop offset="0.4574" stop-color="rgb(255,209,0)"/><stop offset="0.4717" stop-color="rgb(255,220,0)"/><stop offset="0.4861" stop-color="rgb(255,232,0)"/><stop offset="0.5005" stop-color="rgb(255,245,0)"/><stop offset="0.5148" stop-color="rgb(238,255,0)"/><stop offset="0.5292" stop-color="rgb(203,255,0)"/><stop offset="0.5436" stop-color="rgb(169,255,0)"/><stop offset="0.5580" stop-color="rgb(144,255,0)"/><stop offset="0.5723" stop-color="rgb(124,255,0)"/><stop offset="0.5867" stop-color="rgb(112,255,0)"/><stop offset="0.6011" stop-color="rgb(0,236,49)"/><stop offset="0.6154" stop-color="rgb(0,238,65)"/><stop offset="0.6298" stop-color="rgb(0,240,78)"/><stop offset="0.6442" stop-color="rgb(0,240,77)"/><stop offset="0.6585" stop-color="rgb(0,237,56)"/><stop offset="0.6729" stop-color="rgb(110,255,0)"/><stop offset="0.6873" stop-color="rgb(123,255,0)"/><stop offset="0.7016" stop-color="rgb(150,255,0)"/><stop offset="0.7160" stop-color="rgb(188,255,0)"/><stop offset="0.7304" stop-color="rgb(234,255,0)"/><stop offset="0.7447" stop-color="rgb(255,242,0)"/><stop offset="0.7591" stop-color="rgb(255,224,0)"/><stop offset="0.7735" stop-color="rgb(255,207,0)"/><stop offset="0.7878" stop-color="rgb(255,198,0)"/><stop offset="0.8022" stop-color="rgb(255,188,0)"/><stop offset="0.8166" stop-color="rgb(255,176,0)"/><stop offset="0.8309" stop-color="rgb(255,168,0)"/><stop offset="0.8453" stop-color="rgb(255,161,0)"/><stop offset="0.8597" stop-color="rgb(255,153,0)"/><stop offset="0.8980" stop-color="rgb(255,131,0)"/><stop offset="0.9579" stop-color="rgb(255,92,0)"/><stop offset="1.0000" stop-color="rgb(255,54,0)"/></linearGradient><linearGradient id="kcb8" gradientUnits="userSpaceOnUse" x1="45.0" x2="462.6" y1="0" y2="0"><stop offset="0.0000" stop-color="rgb(255,54,0)"/><stop offset="0.0359" stop-color="rgb(255,86,0)"/><stop offset="0.0886" stop-color="rgb(255,114,0)"/><stop offset="0.1676" stop-color="rgb(255,134,0)"/><stop offset="0.2514" stop-color="rgb(255,156,0)"/><stop offset="0.3472" stop-color="rgb(255,174,0)"/><stop offset="0.4071" stop-color="rgb(255,184,0)"/><stop offset="0.4430" stop-color="rgb(255,200,0)"/><stop offset="0.4574" stop-color="rgb(255,206,0)"/><stop offset="0.4717" stop-color="rgb(255,212,0)"/><stop offset="0.4861" stop-color="rgb(255,222,0)"/><stop offset="0.5005" stop-color="rgb(255,234,0)"/><stop offset="0.5148" stop-color="rgb(255,245,0)"/><stop offset="0.5292" stop-color="rgb(245,255,0)"/><stop offset="0.5436" stop-color="rgb(216,255,0)"/><stop offset="0.5580" stop-color="rgb(188,255,0)"/><stop offset="0.5723" stop-color="rgb(164,255,0)"/><stop offset="0.5867" stop-color="rgb(147,255,0)"/><stop offset="0.6011" stop-color="rgb(134,255,0)"/><stop offset="0.6154" stop-color="rgb(126,255,0)"/><stop offset="0.6298" stop-color="rgb(123,255,0)"/><stop offset="0.6442" stop-color="rgb(123,255,0)"/><stop offset="0.6585" stop-color="rgb(129,255,0)"/><stop offset="0.6729" stop-color="rgb(143,255,0)"/><stop offset="0.6873" stop-color="rgb(163,255,0)"/><stop offset="0.7016" stop-color="rgb(195,255,0)"/><stop offset="0.7160" stop-color="rgb(232,255,0)"/><stop offset="0.7304" stop-color="rgb(255,247,0)"/><stop offset="0.7447" stop-color="rgb(255,231,0)"/><stop offset="0.7591" stop-color="rgb(255,215,0)"/><stop offset="0.7735" stop-color="rgb(255,204,0)"/><stop offset="0.7878" stop-color="rgb(255,195,0)"/><stop offset="0.8022" stop-color="rgb(255,186,0)"/><stop offset="0.8166" stop-color="rgb(255,175,0)"/><stop offset="0.8309" stop-color="rgb(255,168,0)"/><stop offset="0.8453" stop-color="rgb(255,161,0)"/><stop offset="0.8597" stop-color="rgb(255,153,0)"/><stop offset="0.8980" stop-color="rgb(255,131,0)"/><stop offset="0.9579" stop-color="rgb(255,92,0)"/><stop offset="1.0000" stop-color="rgb(255,54,0)"/></linearGradient><linearGradient id="kcb9" gradientUnits="userSpaceOnUse" x1="45.0" x2="462.6" y1="0" y2="0"><stop offset="0.0000" stop-color="rgb(255,54,0)"/><stop offset="0.0359" stop-color="rgb(255,86,0)"/><stop offset="0.0886" stop-color="rgb(255,114,0)"/><stop offset="0.1676" stop-color="rgb(255,134,0)"/><stop offset="0.2514" stop-color="rgb(255,156,0)"/><stop offset="0.3472" stop-color="rgb(255,174,0)"/><stop offset="0.4071" stop-color="rgb(255,184,0)"/><stop offset="0.4430" stop-color="rgb(255,195,0)"/><stop offset="0.4574" stop-color="rgb(255,201,0)"/><stop offset="0.4717" stop-color="rgb(255,206,0)"/><stop offset="0.4861" stop-color="rgb(255,211,0)"/><stop offset="0.5005" stop-color="rgb(255,218,0)"/><stop offset="0.5148" stop-color="rgb(255,228,0)"/><stop offset="0.5292" stop-color="rgb(255,237,0)"/><stop offset="0.5436" stop-color="rgb(255,246,0)"/><stop offset="0.5580" stop-color="rgb(255,254,0)"/><stop offset="0.5723" stop-color="rgb(238,255,0)"/><stop offset="0.5867" stop-color="rgb(221,255,0)"/><stop offset="0.6011" stop-color="rgb(208,255,0)"/><stop offset="0.6154" stop-color="rgb(200,255,0)"/><stop offset="0.6298" stop-color="rgb(195,255,0)"/><stop offset="0.6442" stop-color="rgb(196,255,0)"/><stop offset="0.6585" stop-color="rgb(203,255,0)"/><stop offset="0.6729" stop-color="rgb(217,255,0)"/><stop offset="0.6873" stop-color="rgb(237,255,0)"/><stop offset="0.7016" stop-color="rgb(255,255,0)"/><stop offset="0.7160" stop-color="rgb(255,244,0)"/><stop offset="0.7304" stop-color="rgb(255,230,0)"/><stop offset="0.7447" stop-color="rgb(255,215,0)"/><stop offset="0.7591" stop-color="rgb(255,207,0)"/><stop offset="0.7735" stop-color="rgb(255,199,0)"/><stop offset="0.7878" stop-color="rgb(255,190,0)"/><stop offset="0.8022" stop-color="rgb(255,182,0)"/><stop offset="0.8166" stop-color="rgb(255,175,0)"/><stop offset="0.8309" stop-color="rgb(255,168,0)"/><stop offset="0.8453" stop-color="rgb(255,161,0)"/><stop offset="0.8597" stop-color="rgb(255,153,0)"/><stop offset="0.8980" stop-color="rgb(255,131,0)"/><stop offset="0.9579" stop-color="rgb(255,92,0)"/><stop offset="1.0000" stop-color="rgb(255,54,0)"/></linearGradient><linearGradient id="kcb10" gradientUnits="userSpaceOnUse" x1="45.0" x2="462.6" y1="0" y2="0"><stop offset="0.0000" stop-color="rgb(255,54,0)"/><stop offset="0.0359" stop-color="rgb(255,86,0)"/><stop offset="0.0886" stop-color="rgb(255,114,0)"/><stop offset="0.1676" stop-color="rgb(255,134,0)"/><stop offset="0.2514" stop-color="rgb(255,156,0)"/><stop offset="0.3472" stop-color="rgb(255,174,0)"/><stop offset="0.4071" stop-color="rgb(255,184,0)"/><stop offset="0.4430" stop-color="rgb(255,191,0)"/><stop offset="0.4574" stop-color="rgb(255,194,0)"/><stop offset="0.4717" stop-color="rgb(255,199,0)"/><stop offset="0.4861" stop-color="rgb(255,204,0)"/><stop offset="0.5005" stop-color="rgb(255,209,0)"/><stop offset="0.5148" stop-color="rgb(255,213,0)"/><stop offset="0.5292" stop-color="rgb(255,217,0)"/><stop offset="0.5436" stop-color="rgb(255,223,0)"/><stop offset="0.5580" stop-color="rgb(255,230,0)"/><stop offset="0.5723" stop-color="rgb(255,236,0)"/><stop offset="0.5867" stop-color="rgb(255,242,0)"/><stop offset="0.6011" stop-color="rgb(255,245,0)"/><stop offset="0.6154" stop-color="rgb(255,247,0)"/><stop offset="0.6298" stop-color="rgb(255,248,0)"/><stop offset="0.6442" stop-color="rgb(255,248,0)"/><stop offset="0.6585" stop-color="rgb(255,246,0)"/><stop offset="0.6729" stop-color="rgb(255,243,0)"/><stop offset="0.6873" stop-color="rgb(255,238,0)"/><stop offset="0.7016" stop-color="rgb(255,231,0)"/><stop offset="0.7160" stop-color="rgb(255,222,0)"/><stop offset="0.7304" stop-color="rgb(255,215,0)"/><stop offset="0.7447" stop-color="rgb(255,208,0)"/><stop offset="0.7591" stop-color="rgb(255,200,0)"/><stop offset="0.7735" stop-color="rgb(255,192,0)"/><stop offset="0.7878" stop-color="rgb(255,186,0)"/><stop offset="0.8022" stop-color="rgb(255,182,0)"/><stop offset="0.8166" stop-color="rgb(255,175,0)"/><stop offset="0.8309" stop-color="rgb(255,168,0)"/><stop offset="0.8453" stop-color="rgb(255,161,0)"/><stop offset="0.8597" stop-color="rgb(255,153,0)"/><stop offset="0.8980" stop-color="rgb(255,131,0)"/><stop offset="0.9579" stop-color="rgb(255,92,0)"/><stop offset="1.0000" stop-color="rgb(255,54,0)"/></linearGradient><linearGradient id="kcb11" gradientUnits="userSpaceOnUse" x1="45.0" x2="462.6" y1="0" y2="0"><stop offset="0.0000" stop-color="rgb(255,54,0)"/><stop offset="0.0359" stop-color="rgb(255,86,0)"/><stop offset="0.0886" stop-color="rgb(255,114,0)"/><stop offset="0.1676" stop-color="rgb(255,134,0)"/><stop offset="0.2514" stop-color="rgb(255,156,0)"/><stop offset="0.3472" stop-color="rgb(255,174,0)"/><stop offset="0.4071" stop-color="rgb(255,184,0)"/><stop offset="0.4430" stop-color="rgb(255,191,0)"/><stop offset="0.4574" stop-color="rgb(255,192,0)"/><stop offset="0.4717" stop-color="rgb(255,194,0)"/><stop offset="0.4861" stop-color="rgb(255,196,0)"/><stop offset="0.5005" stop-color="rgb(255,200,0)"/><stop offset="0.5148" stop-color="rgb(255,204,0)"/><stop offset="0.5292" stop-color="rgb(255,208,0)"/><stop offset="0.5436" stop-color="rgb(255,211,0)"/><stop offset="0.5580" stop-color="rgb(255,215,0)"/><stop offset="0.5723" stop-color="rgb(255,218,0)"/><stop offset="0.5867" stop-color="rgb(255,221,0)"/><stop offset="0.6011" stop-color="rgb(255,222,0)"/><stop offset="0.6154" stop-color="rgb(255,223,0)"/><stop offset="0.6298" stop-color="rgb(255,223,0)"/><stop offset="0.6442" stop-color="rgb(255,223,0)"/><stop offset="0.6585" stop-color="rgb(255,223,0)"/><stop offset="0.6729" stop-color="rgb(255,221,0)"/><stop offset="0.6873" stop-color="rgb(255,220,0)"/><stop offset="0.7016" stop-color="rgb(255,218,0)"/><stop offset="0.7160" stop-color="rgb(255,213,0)"/><stop offset="0.7304" stop-color="rgb(255,206,0)"/><stop offset="0.7447" stop-color="rgb(255,199,0)"/><stop offset="0.7591" stop-color="rgb(255,193,0)"/><stop offset="0.7735" stop-color="rgb(255,190,0)"/><stop offset="0.7878" stop-color="rgb(255,186,0)"/><stop offset="0.8022" stop-color="rgb(255,182,0)"/><stop offset="0.8166" stop-color="rgb(255,175,0)"/><stop offset="0.8309" stop-color="rgb(255,168,0)"/><stop offset="0.8453" stop-color="rgb(255,161,0)"/><stop offset="0.8597" stop-color="rgb(255,153,0)"/><stop offset="0.8980" stop-color="rgb(255,131,0)"/><stop offset="0.9579" stop-color="rgb(255,92,0)"/><stop offset="1.0000" stop-color="rgb(255,54,0)"/></linearGradient><linearGradient id="kcb12" gradientUnits="userSpaceOnUse" x1="45.0" x2="462.6" y1="0" y2="0"><stop offset="0.0000" stop-color="rgb(255,54,0)"/><stop offset="0.0359" stop-color="rgb(255,86,0)"/><stop offset="0.0886" stop-color="rgb(255,114,0)"/><stop offset="0.1676" stop-color="rgb(255,134,0)"/><stop offset="0.2514" stop-color="rgb(255,156,0)"/><stop offset="0.3472" stop-color="rgb(255,174,0)"/><stop offset="0.4071" stop-color="rgb(255,184,0)"/><stop offset="0.4430" stop-color="rgb(255,191,0)"/><stop offset="0.4574" stop-color="rgb(255,192,0)"/><stop offset="0.4717" stop-color="rgb(255,194,0)"/><stop offset="0.4861" stop-color="rgb(255,196,0)"/><stop offset="0.5005" stop-color="rgb(255,197,0)"/><stop offset="0.5148" stop-color="rgb(255,199,0)"/><stop offset="0.5292" stop-color="rgb(255,201,0)"/><stop offset="0.5436" stop-color="rgb(255,202,0)"/><stop offset="0.5580" stop-color="rgb(255,204,0)"/><stop offset="0.5723" stop-color="rgb(255,207,0)"/><stop offset="0.5867" stop-color="rgb(255,210,0)"/><stop offset="0.6011" stop-color="rgb(255,211,0)"/><stop offset="0.6154" stop-color="rgb(255,211,0)"/><stop offset="0.6298" stop-color="rgb(255,212,0)"/><stop offset="0.6442" stop-color="rgb(255,212,0)"/><stop offset="0.6585" stop-color="rgb(255,211,0)"/><stop offset="0.6729" stop-color="rgb(255,210,0)"/><stop offset="0.6873" stop-color="rgb(255,209,0)"/><stop offset="0.7016" stop-color="rgb(255,208,0)"/><stop offset="0.7160" stop-color="rgb(255,205,0)"/><stop offset="0.7304" stop-color="rgb(255,201,0)"/><stop offset="0.7447" stop-color="rgb(255,197,0)"/><stop offset="0.7591" stop-color="rgb(255,193,0)"/><stop offset="0.7735" stop-color="rgb(255,190,0)"/><stop offset="0.7878" stop-color="rgb(255,186,0)"/><stop offset="0.8022" stop-color="rgb(255,182,0)"/><stop offset="0.8166" stop-color="rgb(255,175,0)"/><stop offset="0.8309" stop-color="rgb(255,168,0)"/><stop offset="0.8453" stop-color="rgb(255,161,0)"/><stop offset="0.8597" stop-color="rgb(255,153,0)"/><stop offset="0.8980" stop-color="rgb(255,131,0)"/><stop offset="0.9579" stop-color="rgb(255,92,0)"/><stop offset="1.0000" stop-color="rgb(255,54,0)"/></linearGradient><filter id="vbl" x="-5%" y="-10%" width="110%" height="120%" color-interpolation-filters="sRGB"><feGaussianBlur stdDeviation="0 2.2"/></filter></defs>
<g filter="url(#vbl)"><rect x="33.0" y="520.00" width="441.6" height="17.15" fill="url(#kcb0)"/><rect x="33.0" y="536.85" width="441.6" height="16.00" fill="url(#kcb1)"/><rect x="33.0" y="552.55" width="441.6" height="16.00" fill="url(#kcb2)"/><rect x="33.0" y="568.25" width="441.6" height="16.00" fill="url(#kcb3)"/><rect x="33.0" y="583.95" width="441.6" height="16.00" fill="url(#kcb4)"/><rect x="33.0" y="599.65" width="441.6" height="16.00" fill="url(#kcb5)"/><rect x="33.0" y="615.35" width="441.6" height="16.00" fill="url(#kcb6)"/><rect x="33.0" y="631.05" width="441.6" height="16.00" fill="url(#kcb7)"/><rect x="33.0" y="646.75" width="441.6" height="16.00" fill="url(#kcb8)"/><rect x="33.0" y="662.45" width="441.6" height="16.00" fill="url(#kcb9)"/><rect x="33.0" y="678.15" width="441.6" height="16.00" fill="url(#kcb10)"/><rect x="33.0" y="693.85" width="441.6" height="16.00" fill="url(#kcb11)"/><rect x="33.0" y="709.55" width="441.6" height="16.85" fill="url(#kcb12)"/></g>
<path d="M268.2,530.0C268.2,534.2 267.9,547.4 268.4,555.0C268.9,562.6 268.6,570.0 271.0,575.5C273.4,581.0 276.7,585.0 282.8,587.7C288.9,590.4 300.1,588.9 307.6,591.5C315.1,594.1 322.9,598.0 328.0,603.2C333.1,608.4 338.2,616.1 338.2,622.5C338.2,628.9 333.1,636.6 328.0,641.8C322.9,647.0 315.1,650.9 307.6,653.5C300.1,656.1 288.9,654.6 282.8,657.3C276.7,660.0 273.4,664.0 271.0,669.5C268.6,675.0 268.9,682.4 268.4,690.0C267.9,697.6 268.2,710.8 268.2,715.0M300.9,530.0C301.3,535.1 300.6,552.8 303.2,560.9C305.8,569.0 310.8,572.1 316.4,578.4C322.0,584.7 332.2,591.4 336.8,598.8C341.4,606.1 344.1,614.6 344.1,622.5C344.1,630.4 341.4,638.9 336.8,646.2C332.2,653.6 322.0,660.3 316.4,666.6C310.8,672.9 305.8,676.0 303.2,684.1C300.6,692.2 301.3,709.9 300.9,715.0M330.0,530.0C330.6,535.6 331.3,553.3 333.9,563.8C336.5,574.3 342.6,583.2 345.5,593.0C348.4,602.8 351.4,612.7 351.4,622.5C351.4,632.3 348.4,642.2 345.5,652.0C342.6,661.8 336.5,670.7 333.9,681.2C331.3,691.7 330.6,709.4 330.0,715.0M356.4,530.0C356.8,538.1 357.7,563.0 358.7,578.4C359.7,593.8 362.5,607.8 362.5,622.5C362.5,637.2 359.7,651.2 358.7,666.6C357.7,682.0 356.8,706.9 356.4,715.0M82.4,532.0V714.1M144.5,532.0V714.1M192.5,532.0V714.1M233.3,532.0V714.1M382.0,532.0V714.1M405.8,532.0V714.1M428.0,532.0V714.1M449.5,532.0V714.1" fill="none" stroke="#111" stroke-width="1.15"/>
<ellipse cx="312" cy="622.5" rx="13.1" ry="12.3" fill="none" stroke="#111" stroke-width="1.15"/>
<ellipse cx="307.6" cy="622.5" rx="25.5" ry="22.8" fill="none" stroke="#111" stroke-width="1.15"/>
</g>
<rect x="45.0" y="532.0" width="417.6" height="182.1" fill="none" stroke="#1f1f1f" stroke-width="1.6"/>
<path d="M45.0,714.1h-6.3M45.0,683.8h-6.3M45.0,653.4h-6.3M45.0,623.0h-6.3M45.0,592.7h-6.3M45.0,562.4h-6.3M45.0,532.0h-6.3M45.0,714.1v5.5M83.0,714.1v5.5M120.9,714.1v5.5M158.9,714.1v5.5M196.9,714.1v5.5M234.8,714.1v5.5M272.8,714.1v5.5M310.7,714.1v5.5M348.7,714.1v5.5M386.7,714.1v5.5M424.6,714.1v5.5M462.6,714.1v5.5" stroke="#1f1f1f" stroke-width="1.5" fill="none"/>
<text x="35.0" y="536.7" font-size="13" text-anchor="end">30</text>
<text x="35.0" y="627.8" font-size="13" text-anchor="end">0</text>
<text x="35.0" y="718.8" font-size="13" text-anchor="end">-30</text>
<text x="83.0" y="735.6" font-size="13" text-anchor="middle">40</text>
<text x="158.9" y="735.6" font-size="13" text-anchor="middle">60</text>
<text x="234.8" y="735.6" font-size="13" text-anchor="middle">80</text>
<text x="310.7" y="735.6" font-size="13" text-anchor="middle">100</text>
<text x="386.7" y="735.6" font-size="13" text-anchor="middle">120</text>
<text x="462.6" y="735.6" font-size="13" text-anchor="middle">140</text>
<text x="253.7" y="750.6" font-size="13" text-anchor="middle">Distance from trench [km]</text>
<text transform="translate(9.8,624.6) rotate(-90)" font-size="13" text-anchor="middle">Distance along trench [km]</text>
<text x="-0.6" y="524.6" font-size="34" text-anchor="start">c</text>
<rect x="474.8" y="533.8" width="184.6" height="20" fill="url(#cb2)" stroke="#111" stroke-width="1.1"/>
<path d="M474.8,553.8v3.4M567.1,553.8v3.4M659.4,553.8v3.4" stroke="#111" stroke-width="1.1"/>
<text x="474.8" y="572.0" font-size="13" text-anchor="middle">0</text>
<text x="554.3" y="572" font-size="13">0.5<tspan font-family='"Liberation Serif", serif' font-style="italic" font-size="18" dx=".4">v</tspan><tspan font-family='"Liberation Serif", serif' font-style="italic" font-size="13" dy="3.4" letter-spacing=".5">pl</tspan></text>
<text x="647.3" y="572" font-size="13">1.0<tspan font-family='"Liberation Serif", serif' font-style="italic" font-size="18" dx=".4">v</tspan><tspan font-family='"Liberation Serif", serif' font-style="italic" font-size="13" dy="3.4" letter-spacing=".5">pl</tspan></text>
<text x="567.0" y="586.2" font-size="13" text-anchor="middle">Slip amount</text>
</svg>
</body></html>
